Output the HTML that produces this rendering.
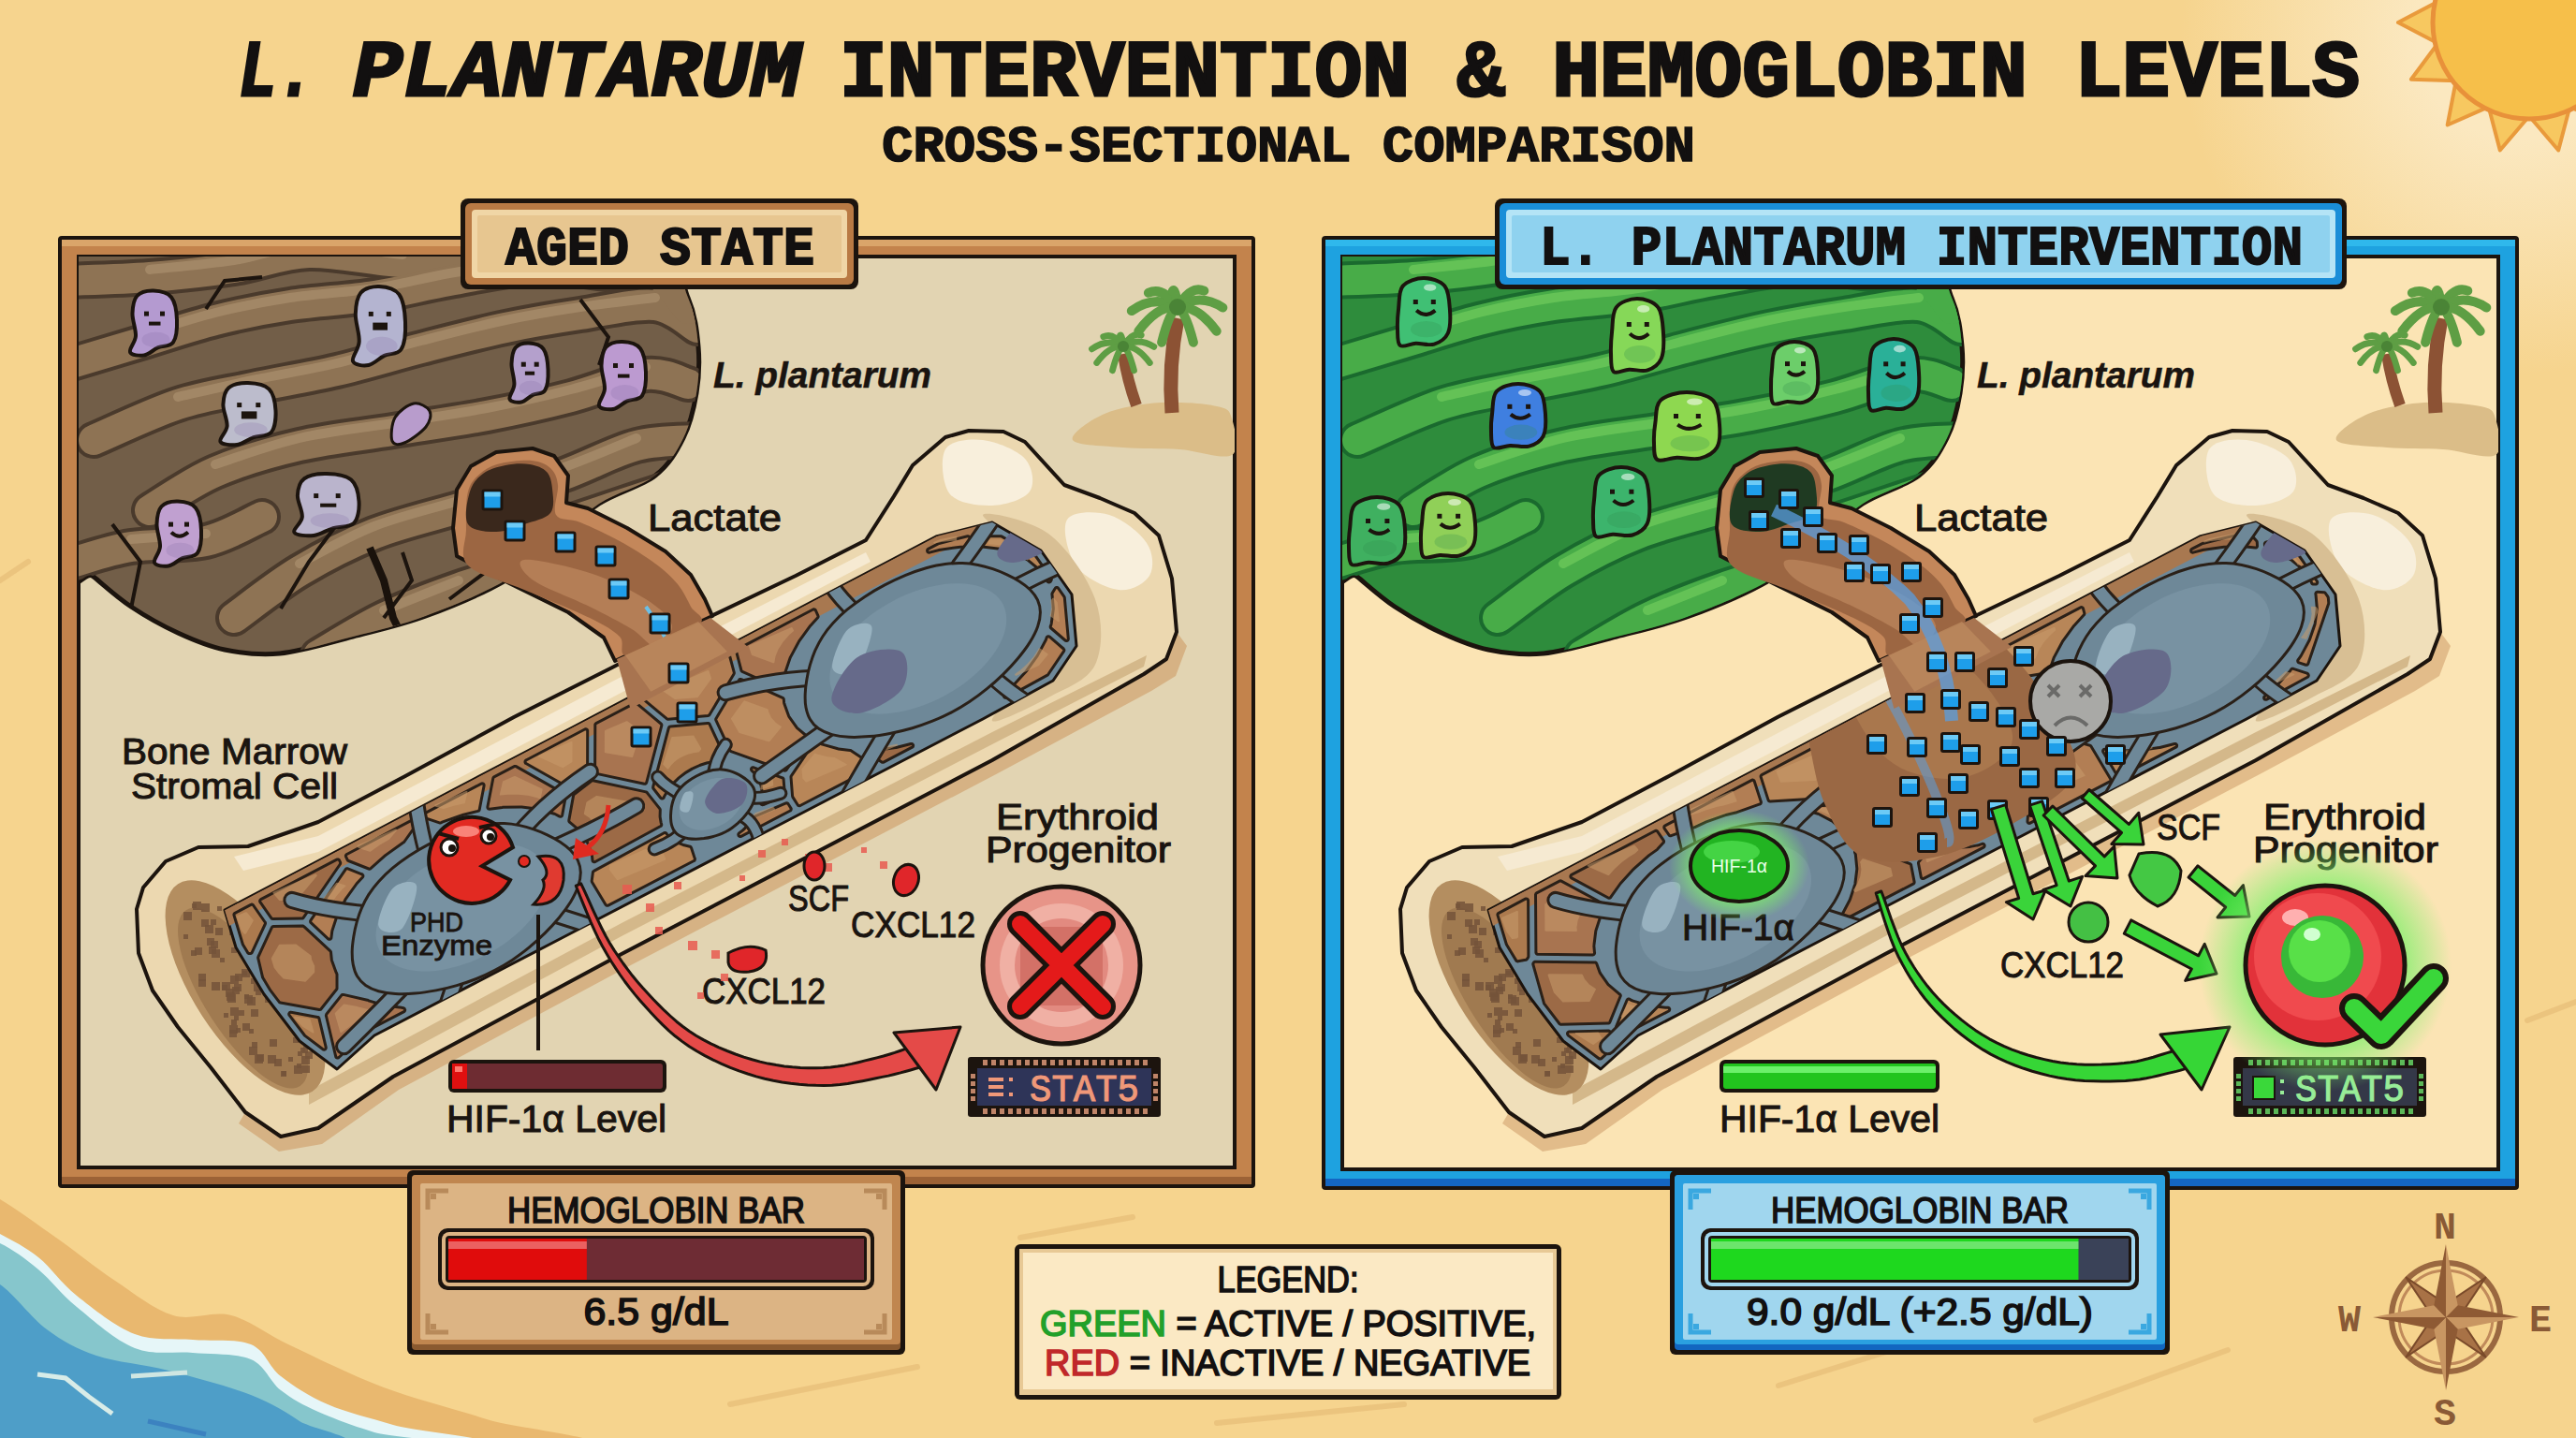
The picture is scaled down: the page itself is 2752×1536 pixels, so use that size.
<!DOCTYPE html>
<html><head><meta charset="utf-8"><title>L. plantarum intervention</title>
<style>html,body{margin:0;padding:0;background:#f6d48e;overflow:hidden}svg{display:block}</style>
</head><body>
<svg width="2752" height="1536" viewBox="0 0 2752 1536" shape-rendering="geometricPrecision"><defs>
<radialGradient id="sunGlow" cx="2690" cy="40" r="360" gradientUnits="userSpaceOnUse">
  <stop offset="0.3" stop-color="#fbe8c0"/>
  <stop offset="1" stop-color="#fbe9c2" stop-opacity="0"/>
</radialGradient>
<radialGradient id="greenGlow">
  <stop offset="0.55" stop-color="#7ef06a" stop-opacity="0.9"/>
  <stop offset="1" stop-color="#7ef06a" stop-opacity="0"/>
</radialGradient>
</defs>
<rect x="0" y="0" width="2752" height="1536" fill="#f6d48e"/>
<rect x="0" y="0" width="2752" height="1536" fill="url(#sunGlow)"/>
<path d="M2842.0,24.0 L2799.5,46.3 L2828.1,84.7 L2780.2,86.3 L2789.3,133.5 L2745.4,114.1 L2733.2,160.5 L2702.0,124.0 L2670.8,160.5 L2658.6,114.1 L2614.7,133.5 L2623.8,86.3 L2575.9,84.7 L2604.5,46.3 L2562.0,24.0 L2604.5,1.7 L2575.9,-36.7 L2623.8,-38.3 L2614.7,-85.5 L2658.6,-66.1 L2670.8,-112.5 L2702.0,-76.0 L2733.2,-112.5 L2745.4,-66.1 L2789.3,-85.5 L2780.2,-38.3 L2828.1,-36.7 L2799.5,1.7 Z" fill="#f7c860" stroke="#e99a3c" stroke-width="4" stroke-linejoin="round" />
<circle cx="2702" cy="24" r="103" fill="#f6bf4a" stroke="#e8913a" stroke-width="5"/>
<path d="M-40.0,1262.0 C-33.3,1218.0 -16.7,1271.0 0.0,1281.0 C16.7,1291.0 39.5,1307.5 60.0,1322.0 C80.5,1336.5 102.2,1354.2 123.0,1368.0 C143.8,1381.8 164.3,1398.8 185.0,1405.0 C205.7,1411.2 226.2,1399.7 247.0,1405.0 C267.8,1410.3 282.8,1424.2 310.0,1437.0 C337.2,1449.8 375.0,1468.8 410.0,1482.0 C445.0,1495.2 488.3,1505.5 520.0,1516.0 C551.7,1526.5 693.3,1540.2 600.0,1545.0 C506.7,1549.8 66.7,1592.2 -40.0,1545.0 C-146.7,1497.8 -46.7,1306.0 -40.0,1262.0 Z" fill="#e9b86f" />
<path d="M-40.0,1300.0 C-33.3,1262.2 -13.5,1310.8 0.0,1318.0 C13.5,1325.2 27.3,1332.0 41.0,1343.0 C54.7,1354.0 64.8,1370.3 82.0,1384.0 C99.2,1397.7 123.3,1417.2 144.0,1425.0 C164.7,1432.8 185.3,1429.2 206.0,1431.0 C226.7,1432.8 252.3,1429.5 268.0,1436.0 C283.7,1442.5 286.3,1459.3 300.0,1470.0 C313.7,1480.7 330.0,1491.3 350.0,1500.0 C370.0,1508.7 395.0,1514.5 420.0,1522.0 C445.0,1529.5 576.7,1541.2 500.0,1545.0 C423.3,1548.8 50.0,1585.8 -40.0,1545.0 C-130.0,1504.2 -46.7,1337.8 -40.0,1300.0 Z" fill="#e6f6f8" />
<path d="M-40.0,1318.0 C-33.3,1281.8 -13.5,1321.7 0.0,1328.0 C13.5,1334.3 27.3,1344.7 41.0,1356.0 C54.7,1367.3 64.8,1382.0 82.0,1396.0 C99.2,1410.0 123.3,1431.8 144.0,1440.0 C164.7,1448.2 185.3,1443.0 206.0,1445.0 C226.7,1447.0 252.3,1445.3 268.0,1452.0 C283.7,1458.7 288.0,1475.7 300.0,1485.0 C312.0,1494.3 323.3,1500.5 340.0,1508.0 C356.7,1515.5 380.0,1523.8 400.0,1530.0 C420.0,1536.2 533.3,1542.5 460.0,1545.0 C386.7,1547.5 43.3,1582.8 -40.0,1545.0 C-123.3,1507.2 -46.7,1354.2 -40.0,1318.0 Z" fill="#86c6cc" />
<path d="M-40.0,1360.0 C-33.3,1331.2 -15.0,1362.0 0.0,1372.0 C15.0,1382.0 32.8,1407.3 50.0,1420.0 C67.2,1432.7 81.3,1440.7 103.0,1448.0 C124.7,1455.3 152.5,1457.0 180.0,1464.0 C207.5,1471.0 244.7,1481.0 268.0,1490.0 C291.3,1499.0 306.3,1508.8 320.0,1518.0 C333.7,1527.2 410.0,1540.5 350.0,1545.0 C290.0,1549.5 25.0,1575.8 -40.0,1545.0 C-105.0,1514.2 -46.7,1388.8 -40.0,1360.0 Z" fill="#4e9ec8" />
<path d="M40,1468 L70,1472 L95,1492 L120,1510" stroke="#d8ece8" stroke-width="5" fill="none"/>
<path d="M140,1470 L200,1466" stroke="#cfe6e2" stroke-width="5" fill="none"/>
<path d="M158,1518 L220,1532" stroke="#3c82c0" stroke-width="5" fill="none"/>
<path d="M1090,1322 L1210,1300" stroke="#e9bf7a" stroke-width="6" stroke-linecap="round" fill="none" opacity="0.8"/>
<path d="M1900,1480 L2060,1430" stroke="#e9bf7a" stroke-width="6" stroke-linecap="round" fill="none" opacity="0.8"/>
<path d="M2050,1330 L2230,1280" stroke="#e9bf7a" stroke-width="6" stroke-linecap="round" fill="none" opacity="0.8"/>
<path d="M780,1500 L980,1460" stroke="#e9bf7a" stroke-width="6" stroke-linecap="round" fill="none" opacity="0.8"/>
<path d="M2430,1240 L2540,1200" stroke="#e9bf7a" stroke-width="6" stroke-linecap="round" fill="none" opacity="0.8"/>
<path d="M2175,1517 L2380,1442" stroke="#e9bf7a" stroke-width="6" stroke-linecap="round" fill="none" opacity="0.8"/>
<path d="M1300,1520 L1500,1500" stroke="#e9bf7a" stroke-width="6" stroke-linecap="round" fill="none" opacity="0.8"/>
<path d="M2700,1090 L2752,1070" stroke="#e9bf7a" stroke-width="6" stroke-linecap="round" fill="none" opacity="0.8"/>
<path d="M0,620 L30,600" stroke="#e9bf7a" stroke-width="6" stroke-linecap="round" fill="none" opacity="0.8"/>
<path d="M2530,870 L2600,850" stroke="#e9bf7a" stroke-width="6" stroke-linecap="round" fill="none" opacity="0.8"/>
<circle cx="2613" cy="1407" r="58" fill="none" stroke="#9a6840" stroke-width="6"/>
<circle cx="2613" cy="1407" r="50" fill="none" stroke="#c08a5a" stroke-width="3"/>
<path d="M2655.4,1449.4 L2604.5,1415.5 L2613.0,1407.0 L2621.5,1398.5 Z" fill="#a87246" stroke="#7a4a2a" stroke-width="2" stroke-linejoin="round" />
<path d="M2570.6,1449.4 L2604.5,1398.5 L2613.0,1407.0 L2621.5,1415.5 Z" fill="#a87246" stroke="#7a4a2a" stroke-width="2" stroke-linejoin="round" />
<path d="M2570.6,1364.6 L2621.5,1398.5 L2613.0,1407.0 L2604.5,1415.5 Z" fill="#a87246" stroke="#7a4a2a" stroke-width="2" stroke-linejoin="round" />
<path d="M2655.4,1364.6 L2621.5,1415.5 L2613.0,1407.0 L2604.5,1398.5 Z" fill="#a87246" stroke="#7a4a2a" stroke-width="2" stroke-linejoin="round" />
<path d="M2691.0,1407.0 L2625.7,1419.7 L2613.0,1407.0 Z" fill="#c89662" />
<path d="M2691.0,1407.0 L2613.0,1407.0 L2625.7,1394.3 Z" fill="#8e5a34" />
<path d="M2613.0,1485.0 L2600.3,1419.7 L2613.0,1407.0 Z" fill="#c89662" />
<path d="M2613.0,1485.0 L2613.0,1407.0 L2625.7,1419.7 Z" fill="#8e5a34" />
<path d="M2535.0,1407.0 L2600.3,1394.3 L2613.0,1407.0 Z" fill="#c89662" />
<path d="M2535.0,1407.0 L2613.0,1407.0 L2600.3,1419.7 Z" fill="#8e5a34" />
<path d="M2613.0,1329.0 L2625.7,1394.3 L2613.0,1407.0 Z" fill="#c89662" />
<path d="M2613.0,1329.0 L2613.0,1407.0 L2600.3,1394.3 Z" fill="#8e5a34" />
<text x="2612" y="1323" font-family="Liberation Mono" font-size="40" font-weight="bold" font-style="normal" fill="#8a5a36" text-anchor="middle" >N</text>
<text x="2612" y="1522" font-family="Liberation Mono" font-size="40" font-weight="bold" font-style="normal" fill="#8a5a36" text-anchor="middle" >S</text>
<text x="2510" y="1422" font-family="Liberation Mono" font-size="40" font-weight="bold" font-style="normal" fill="#8a5a36" text-anchor="middle" >W</text>
<text x="2714" y="1422" font-family="Liberation Mono" font-size="40" font-weight="bold" font-style="normal" fill="#8a5a36" text-anchor="middle" >E</text>
<text x="255" y="102" font-family="Liberation Mono" font-size="85" font-weight="bold" font-style="italic" fill="#121010" text-anchor="start" textLength="82" lengthAdjust="spacingAndGlyphs" stroke="#121010" stroke-width="3">L.</text>
<text x="377" y="102" font-family="Liberation Mono" font-size="85" font-weight="bold" font-style="italic" fill="#121010" text-anchor="start" textLength="478" lengthAdjust="spacingAndGlyphs" stroke="#121010" stroke-width="3">PLANTARUM</text>
<text x="897" y="102" font-family="Liberation Mono" font-size="85" font-weight="bold" font-style="normal" fill="#121010" text-anchor="start" textLength="1624" lengthAdjust="spacingAndGlyphs" stroke="#121010" stroke-width="3">INTERVENTION &amp; HEMOGLOBIN LEVELS</text>
<text x="942" y="172" font-family="Liberation Mono" font-size="54" font-weight="bold" font-style="normal" fill="#121010" text-anchor="start" textLength="869" lengthAdjust="spacingAndGlyphs" stroke="#121010" stroke-width="1.5">CROSS-SECTIONAL COMPARISON</text>
<rect x="62" y="252" width="1279" height="1017" fill="#1c140e" rx="4"/>
<rect x="66" y="256" width="1271" height="1009" fill="#c3834c"/>
<rect x="66" y="256" width="1271" height="7" fill="#daa56a"/>
<rect x="66" y="1257" width="1271" height="8" fill="#9c6236"/>
<rect x="82" y="272" width="1239" height="977" fill="#1c140e"/>
<rect x="86" y="276" width="1231" height="969" fill="#e2d4b2"/>
<rect x="1412" y="252" width="1279" height="1019" fill="#1c140e" rx="4"/>
<rect x="1416" y="256" width="1271" height="1011" fill="#1ea2e0"/>
<rect x="1416" y="256" width="1271" height="7" fill="#2fb8ec"/>
<rect x="1416" y="1259" width="1271" height="8" fill="#1466c2"/>
<rect x="1432" y="272" width="1239" height="979" fill="#1c140e"/>
<rect x="1436" y="276" width="1231" height="971" fill="#fbe4b4"/>
<clipPath id="pclip0"><rect x="84" y="274" width="1235" height="967"/></clipPath>
<clipPath id="pclip1350"><rect x="1434" y="274" width="1235" height="965"/></clipPath>
<g clip-path="url(#pclip0)">
<path d="M70.0,250.0 C151.7,193.3 455.0,248.0 560.0,250.0 C665.0,252.0 670.8,250.7 700.0,262.0 C729.2,273.3 727.3,300.0 735.0,318.0 C742.7,336.0 744.5,353.0 746.0,370.0 C747.5,387.0 746.7,403.7 744.0,420.0 C741.3,436.3 737.3,453.3 730.0,468.0 C722.7,482.7 715.0,496.3 700.0,508.0 C685.0,519.7 658.3,526.0 640.0,538.0 C621.7,550.0 606.7,566.3 590.0,580.0 C573.3,593.7 562.5,607.0 540.0,620.0 C517.5,633.0 482.2,648.0 455.0,658.0 C427.8,668.0 403.0,673.3 377.0,680.0 C351.0,686.7 321.8,695.7 299.0,698.0 C276.2,700.3 258.2,697.7 240.0,694.0 C221.8,690.3 206.7,683.7 190.0,676.0 C173.3,668.3 155.0,658.0 140.0,648.0 C125.0,638.0 111.7,625.7 100.0,616.0 C88.3,606.3 75.0,651.0 70.0,590.0 C65.0,529.0 -11.7,306.7 70.0,250.0 Z" fill="#725e48" stroke="#1c140e" stroke-width="5" stroke-linejoin="round" stroke-linecap="round" />
<clipPath id="gclip0"><path d="M70.0,250.0 C151.7,193.3 455.0,248.0 560.0,250.0 C665.0,252.0 670.8,250.7 700.0,262.0 C729.2,273.3 727.3,300.0 735.0,318.0 C742.7,336.0 744.5,353.0 746.0,370.0 C747.5,387.0 746.7,403.7 744.0,420.0 C741.3,436.3 737.3,453.3 730.0,468.0 C722.7,482.7 715.0,496.3 700.0,508.0 C685.0,519.7 658.3,526.0 640.0,538.0 C621.7,550.0 606.7,566.3 590.0,580.0 C573.3,593.7 562.5,607.0 540.0,620.0 C517.5,633.0 482.2,648.0 455.0,658.0 C427.8,668.0 403.0,673.3 377.0,680.0 C351.0,686.7 321.8,695.7 299.0,698.0 C276.2,700.3 258.2,697.7 240.0,694.0 C221.8,690.3 206.7,683.7 190.0,676.0 C173.3,668.3 155.0,658.0 140.0,648.0 C125.0,638.0 111.7,625.7 100.0,616.0 C88.3,606.3 75.0,651.0 70.0,590.0 C65.0,529.0 -11.7,306.7 70.0,250.0 Z"/></clipPath>
<g clip-path="url(#gclip0)">
<path d="M70.0,300.0 C85.0,299.3 130.0,298.3 160.0,296.0 C190.0,293.7 221.7,290.3 250.0,286.0 C278.3,281.7 300.0,271.0 330.0,270.0 C360.0,269.0 398.3,279.0 430.0,280.0 C461.7,281.0 505.0,276.7 520.0,276.0" stroke="#4a3a2c" stroke-width="40" stroke-linecap="round" fill="none"/>
<path d="M70.0,390.0 C83.3,386.0 123.3,374.0 150.0,366.0 C176.7,358.0 203.3,348.7 230.0,342.0 C256.7,335.3 281.7,330.3 310.0,326.0 C338.3,321.7 371.7,320.3 400.0,316.0 C428.3,311.7 451.7,305.0 480.0,300.0 C508.3,295.0 541.7,287.3 570.0,286.0 C598.3,284.7 636.7,291.0 650.0,292.0" stroke="#4a3a2c" stroke-width="40" stroke-linecap="round" fill="none"/>
<path d="M100.0,470.0 C115.0,463.7 161.7,441.3 190.0,432.0 C218.3,422.7 241.7,420.0 270.0,414.0 C298.3,408.0 330.0,403.0 360.0,396.0 C390.0,389.0 420.0,379.7 450.0,372.0 C480.0,364.3 511.7,356.0 540.0,350.0 C568.3,344.0 593.3,340.0 620.0,336.0 C646.7,332.0 679.2,323.7 700.0,326.0 C720.8,328.3 737.5,346.0 745.0,350.0" stroke="#4a3a2c" stroke-width="40" stroke-linecap="round" fill="none"/>
<path d="M160.0,545.0 C171.7,538.2 203.3,515.5 230.0,504.0 C256.7,492.5 288.3,483.3 320.0,476.0 C351.7,468.7 386.7,465.3 420.0,460.0 C453.3,454.7 488.3,450.0 520.0,444.0 C551.7,438.0 581.7,431.3 610.0,424.0 C638.3,416.7 669.2,402.3 690.0,400.0 C710.8,397.7 727.5,408.3 735.0,410.0" stroke="#4a3a2c" stroke-width="40" stroke-linecap="round" fill="none"/>
<path d="M80.0,600.0 C90.0,597.3 116.7,587.7 140.0,584.0 C163.3,580.3 196.7,583.3 220.0,578.0 C243.3,572.7 270.0,556.3 280.0,552.0" stroke="#4a3a2c" stroke-width="40" stroke-linecap="round" fill="none"/>
<path d="M250.0,660.0 C261.7,651.7 295.0,625.0 320.0,610.0 C345.0,595.0 370.0,581.7 400.0,570.0 C430.0,558.3 466.7,550.3 500.0,540.0 C533.3,529.7 570.0,518.7 600.0,508.0 C630.0,497.3 655.8,482.3 680.0,476.0 C704.2,469.7 734.2,471.0 745.0,470.0" stroke="#4a3a2c" stroke-width="40" stroke-linecap="round" fill="none"/>
<path d="M340.0,700.0 C351.7,693.3 385.0,672.0 410.0,660.0 C435.0,648.0 463.3,637.3 490.0,628.0 C516.7,618.7 556.7,608.0 570.0,604.0" stroke="#4a3a2c" stroke-width="40" stroke-linecap="round" fill="none"/>
<path d="M560.0,250.0 C573.3,251.3 616.7,251.3 640.0,258.0 C663.3,264.7 684.2,278.0 700.0,290.0 C715.8,302.0 729.2,323.3 735.0,330.0" stroke="#4a3a2c" stroke-width="40" stroke-linecap="round" fill="none"/>
<path d="M600.0,560.0 C610.0,556.7 640.0,546.7 660.0,540.0 C680.0,533.3 710.0,523.3 720.0,520.0" stroke="#4a3a2c" stroke-width="40" stroke-linecap="round" fill="none"/>
<path d="M70.0,300.0 C85.0,299.3 130.0,298.3 160.0,296.0 C190.0,293.7 221.7,290.3 250.0,286.0 C278.3,281.7 300.0,271.0 330.0,270.0 C360.0,269.0 398.3,279.0 430.0,280.0 C461.7,281.0 505.0,276.7 520.0,276.0" stroke="#8e7354" stroke-width="32" stroke-linecap="round" fill="none"/>
<path d="M70.0,390.0 C83.3,386.0 123.3,374.0 150.0,366.0 C176.7,358.0 203.3,348.7 230.0,342.0 C256.7,335.3 281.7,330.3 310.0,326.0 C338.3,321.7 371.7,320.3 400.0,316.0 C428.3,311.7 451.7,305.0 480.0,300.0 C508.3,295.0 541.7,287.3 570.0,286.0 C598.3,284.7 636.7,291.0 650.0,292.0" stroke="#8e7354" stroke-width="32" stroke-linecap="round" fill="none"/>
<path d="M100.0,470.0 C115.0,463.7 161.7,441.3 190.0,432.0 C218.3,422.7 241.7,420.0 270.0,414.0 C298.3,408.0 330.0,403.0 360.0,396.0 C390.0,389.0 420.0,379.7 450.0,372.0 C480.0,364.3 511.7,356.0 540.0,350.0 C568.3,344.0 593.3,340.0 620.0,336.0 C646.7,332.0 679.2,323.7 700.0,326.0 C720.8,328.3 737.5,346.0 745.0,350.0" stroke="#8e7354" stroke-width="32" stroke-linecap="round" fill="none"/>
<path d="M160.0,545.0 C171.7,538.2 203.3,515.5 230.0,504.0 C256.7,492.5 288.3,483.3 320.0,476.0 C351.7,468.7 386.7,465.3 420.0,460.0 C453.3,454.7 488.3,450.0 520.0,444.0 C551.7,438.0 581.7,431.3 610.0,424.0 C638.3,416.7 669.2,402.3 690.0,400.0 C710.8,397.7 727.5,408.3 735.0,410.0" stroke="#8e7354" stroke-width="32" stroke-linecap="round" fill="none"/>
<path d="M80.0,600.0 C90.0,597.3 116.7,587.7 140.0,584.0 C163.3,580.3 196.7,583.3 220.0,578.0 C243.3,572.7 270.0,556.3 280.0,552.0" stroke="#8e7354" stroke-width="32" stroke-linecap="round" fill="none"/>
<path d="M250.0,660.0 C261.7,651.7 295.0,625.0 320.0,610.0 C345.0,595.0 370.0,581.7 400.0,570.0 C430.0,558.3 466.7,550.3 500.0,540.0 C533.3,529.7 570.0,518.7 600.0,508.0 C630.0,497.3 655.8,482.3 680.0,476.0 C704.2,469.7 734.2,471.0 745.0,470.0" stroke="#8e7354" stroke-width="32" stroke-linecap="round" fill="none"/>
<path d="M340.0,700.0 C351.7,693.3 385.0,672.0 410.0,660.0 C435.0,648.0 463.3,637.3 490.0,628.0 C516.7,618.7 556.7,608.0 570.0,604.0" stroke="#8e7354" stroke-width="32" stroke-linecap="round" fill="none"/>
<path d="M560.0,250.0 C573.3,251.3 616.7,251.3 640.0,258.0 C663.3,264.7 684.2,278.0 700.0,290.0 C715.8,302.0 729.2,323.3 735.0,330.0" stroke="#8e7354" stroke-width="32" stroke-linecap="round" fill="none"/>
<path d="M600.0,560.0 C610.0,556.7 640.0,546.7 660.0,540.0 C680.0,533.3 710.0,523.3 720.0,520.0" stroke="#8e7354" stroke-width="32" stroke-linecap="round" fill="none"/>
<path d="M160.0,288.0 C175.0,286.3 221.7,282.3 250.0,278.0 C278.3,273.7 300.0,263.0 330.0,262.0 C360.0,261.0 413.3,270.3 430.0,272.0" stroke="#a88c6a" stroke-width="10" stroke-linecap="round" fill="none" opacity="0.8"/>
<path d="M150.0,358.0 C163.3,354.0 203.3,340.7 230.0,334.0 C256.7,327.3 281.7,322.3 310.0,318.0 C338.3,313.7 371.7,312.3 400.0,308.0 C428.3,303.7 451.7,297.0 480.0,292.0 C508.3,287.0 555.0,280.3 570.0,278.0" stroke="#a88c6a" stroke-width="10" stroke-linecap="round" fill="none" opacity="0.8"/>
<path d="M190.0,424.0 C203.3,421.0 241.7,412.0 270.0,406.0 C298.3,400.0 330.0,395.0 360.0,388.0 C390.0,381.0 420.0,371.7 450.0,364.0 C480.0,356.3 511.7,348.0 540.0,342.0 C568.3,336.0 593.3,332.0 620.0,328.0 C646.7,324.0 686.7,319.7 700.0,318.0" stroke="#a88c6a" stroke-width="10" stroke-linecap="round" fill="none" opacity="0.8"/>
<path d="M230.0,496.0 C245.0,491.3 288.3,475.3 320.0,468.0 C351.7,460.7 386.7,457.3 420.0,452.0 C453.3,446.7 488.3,442.0 520.0,436.0 C551.7,430.0 581.7,423.3 610.0,416.0 C638.3,408.7 676.7,396.0 690.0,392.0" stroke="#a88c6a" stroke-width="10" stroke-linecap="round" fill="none" opacity="0.8"/>
<path d="M140,576 L220,570" stroke="#a88c6a" stroke-width="10" stroke-linecap="round" fill="none" opacity="0.8"/>
<path d="M320.0,602.0 C333.3,595.3 370.0,573.7 400.0,562.0 C430.0,550.3 466.7,542.3 500.0,532.0 C533.3,521.7 570.0,510.7 600.0,500.0 C630.0,489.3 666.7,473.3 680.0,468.0" stroke="#a88c6a" stroke-width="10" stroke-linecap="round" fill="none" opacity="0.8"/>
<path d="M410,652 L490,620" stroke="#a88c6a" stroke-width="10" stroke-linecap="round" fill="none" opacity="0.8"/>
<path d="M640,250 L700,282" stroke="#a88c6a" stroke-width="10" stroke-linecap="round" fill="none" opacity="0.8"/>
<path d="M660,532" stroke="#a88c6a" stroke-width="10" stroke-linecap="round" fill="none" opacity="0.8"/>
<path d="M300.0,650.0 L330.0,600.0 L360.0,560.0" stroke="#1c140e" stroke-width="4" fill="none"/>
<path d="M560.0,560.0 L520.0,610.0 L480.0,640.0" stroke="#1c140e" stroke-width="4" fill="none"/>
<path d="M220.0,330.0 L240.0,300.0 L280.0,296.0" stroke="#1c140e" stroke-width="4" fill="none"/>
<path d="M620.0,320.0 L650.0,360.0 L640.0,390.0" stroke="#1c140e" stroke-width="4" fill="none"/>
<path d="M430.0,590.0 L440.0,620.0 L410.0,660.0" stroke="#1c140e" stroke-width="4" fill="none"/>
<path d="M120.0,560.0 L150.0,600.0 L140.0,650.0" stroke="#1c140e" stroke-width="4" fill="none"/>
<path d="M520.0,520.0 L555.0,560.0 L545.0,610.0 L560.0,650.0" stroke="#1c140e" stroke-width="4" fill="none"/>
<path d="M395,585 L410,620 L420,660 L440,700" stroke="#1a120c" stroke-width="8" fill="none"/>
</g>
<path d="M141.5,334.6 C141.8,327.5 142.8,320.0 146.5,316.0 C150.2,312.0 157.9,310.3 164.0,310.5 C170.1,310.7 178.8,312.2 183.0,317.4 C187.2,322.6 188.7,333.5 189.0,341.6 C189.3,349.6 188.3,360.8 185.0,365.7 C181.7,370.6 174.2,368.9 169.0,371.2 C163.8,373.5 159.0,378.7 154.0,379.5 C149.0,380.3 140.5,379.5 139.0,376.1 C137.5,372.6 144.6,365.7 145.0,358.8 C145.4,351.9 141.2,341.8 141.5,334.6 Z" fill="#b49ad0" stroke="#1c140e" stroke-width="4" stroke-linejoin="round" stroke-linecap="round" />
<ellipse cx="166.5" cy="362.94" rx="15.0" ry="8.28" fill="#8870a8" opacity="0.25"/>
<rect x="154.0" y="332.6" width="5" height="5" fill="#1c140e"/>
<rect x="171.0" y="332.6" width="5" height="5" fill="#1c140e"/>
<rect x="159.0" y="343.6" width="12.5" height="4" fill="#1c140e"/>
<path d="M379.8,335.4 C380.1,326.7 381.2,317.6 385.4,312.7 C389.6,307.8 398.2,305.7 405.0,306.0 C411.8,306.3 421.6,308.1 426.3,314.4 C430.9,320.7 432.6,334.0 433.0,343.8 C433.4,353.6 432.3,367.2 428.5,373.2 C424.8,379.2 416.4,377.1 410.6,379.9 C404.8,382.7 399.4,389.0 393.8,390.0 C388.2,391.0 378.7,390.0 377.0,385.8 C375.3,381.6 383.3,373.2 383.7,364.8 C384.2,356.4 379.5,344.1 379.8,335.4 Z" fill="#b4b4d0" stroke="#1c140e" stroke-width="4" stroke-linejoin="round" stroke-linecap="round" />
<ellipse cx="407.8" cy="369.84" rx="16.8" ry="10.08" fill="#8870a8" opacity="0.25"/>
<rect x="393.8" y="332.9" width="5" height="5" fill="#1c140e"/>
<rect x="412.8" y="332.9" width="5" height="5" fill="#1c140e"/>
<rect x="398.3" y="344.6" width="15.7" height="8" fill="#1c140e"/>
<path d="M238.4,432.1 C238.7,425.3 239.9,418.1 244.3,414.3 C248.8,410.4 257.8,408.8 265.0,409.0 C272.2,409.2 282.5,410.7 287.4,415.6 C292.3,420.6 294.1,431.0 294.5,438.7 C294.9,446.4 293.7,457.1 289.8,461.8 C285.8,466.5 277.0,464.9 270.9,467.1 C264.8,469.3 259.1,474.2 253.2,475.0 C247.3,475.8 237.3,475.0 235.5,471.7 C233.7,468.4 242.1,461.8 242.6,455.2 C243.1,448.6 238.2,438.9 238.4,432.1 Z" fill="#bcbccc" stroke="#1c140e" stroke-width="4" stroke-linejoin="round" stroke-linecap="round" />
<ellipse cx="267.95" cy="459.16" rx="17.7" ry="7.92" fill="#8870a8" opacity="0.25"/>
<rect x="253.2" y="430.1" width="5" height="5" fill="#1c140e"/>
<rect x="273.3" y="430.1" width="5" height="5" fill="#1c140e"/>
<rect x="257.9" y="439.4" width="16.5" height="8" fill="#1c140e"/>
<path d="M546.5,388.6 C546.8,382.0 547.6,375.2 550.6,371.5 C553.7,367.9 560.0,366.3 565.0,366.5 C570.0,366.7 577.2,368.1 580.6,372.8 C584.0,377.5 585.2,387.5 585.5,394.9 C585.8,402.2 585.0,412.4 582.2,416.9 C579.5,421.4 573.3,419.8 569.1,421.9 C564.9,424.0 560.9,428.8 556.8,429.5 C552.7,430.2 545.7,429.5 544.5,426.4 C543.3,423.2 549.1,416.9 549.4,410.6 C549.8,404.3 546.3,395.1 546.5,388.6 Z" fill="#b4a0cc" stroke="#1c140e" stroke-width="4" stroke-linejoin="round" stroke-linecap="round" />
<ellipse cx="567.05" cy="414.38" rx="12.299999999999999" ry="7.56" fill="#8870a8" opacity="0.25"/>
<rect x="556.8" y="386.7" width="5" height="5" fill="#1c140e"/>
<rect x="570.7" y="386.7" width="5" height="5" fill="#1c140e"/>
<rect x="560.9" y="396.7" width="10.2" height="4" fill="#1c140e"/>
<path d="M642.5,390.2 C642.8,382.8 643.8,375.0 647.5,370.8 C651.2,366.6 658.9,364.8 665.0,365.0 C671.1,365.2 679.8,366.8 684.0,372.2 C688.2,377.6 689.7,389.0 690.0,397.4 C690.3,405.8 689.3,417.4 686.0,422.6 C682.7,427.8 675.2,426.0 670.0,428.4 C664.8,430.8 660.0,436.2 655.0,437.0 C650.0,437.8 641.5,437.0 640.0,433.4 C638.5,429.8 645.6,422.6 646.0,415.4 C646.4,408.2 642.2,397.6 642.5,390.2 Z" fill="#bc9ad0" stroke="#1c140e" stroke-width="4" stroke-linejoin="round" stroke-linecap="round" />
<ellipse cx="667.5" cy="419.72" rx="15.0" ry="8.64" fill="#8870a8" opacity="0.25"/>
<rect x="655.0" y="388.0" width="5" height="5" fill="#1c140e"/>
<rect x="672.0" y="388.0" width="5" height="5" fill="#1c140e"/>
<rect x="660.0" y="399.6" width="12.5" height="4" fill="#1c140e"/>
<path d="M419.0,471.0 C417.3,466.5 418.2,452.7 422.0,446.0 C425.8,439.3 435.8,432.2 442.0,431.0 C448.2,429.8 456.8,434.8 459.0,439.0 C461.2,443.2 459.5,450.3 455.0,456.0 C450.5,461.7 438.0,470.5 432.0,473.0 C426.0,475.5 420.7,475.5 419.0,471.0 Z" fill="#b89ccc" stroke="#1c140e" stroke-width="3" stroke-linejoin="round" stroke-linecap="round" />
<path d="M317.9,529.1 C318.3,522.3 319.7,515.1 324.9,511.3 C330.0,507.4 340.6,505.8 349.0,506.0 C357.4,506.2 369.5,507.7 375.2,512.6 C381.0,517.6 383.0,528.0 383.5,535.7 C384.0,543.4 382.6,554.1 378.0,558.8 C373.4,563.5 363.0,561.9 355.9,564.1 C348.8,566.3 342.1,571.2 335.2,572.0 C328.3,572.8 316.6,572.0 314.5,568.7 C312.4,565.4 322.2,558.8 322.8,552.2 C323.4,545.6 317.6,535.9 317.9,529.1 Z" fill="#bab4cc" stroke="#1c140e" stroke-width="4" stroke-linejoin="round" stroke-linecap="round" />
<ellipse cx="352.45" cy="556.16" rx="20.7" ry="7.92" fill="#8870a8" opacity="0.25"/>
<rect x="335.2" y="527.1" width="5" height="5" fill="#1c140e"/>
<rect x="358.7" y="527.1" width="5" height="5" fill="#1c140e"/>
<rect x="342.1" y="537.7" width="17.2" height="4" fill="#1c140e"/>
<path d="M167.5,559.6 C167.8,552.5 168.8,545.0 172.5,541.0 C176.2,537.0 183.9,535.3 190.0,535.5 C196.1,535.7 204.8,537.2 209.0,542.4 C213.2,547.6 214.7,558.5 215.0,566.5 C215.3,574.6 214.3,585.8 211.0,590.7 C207.7,595.6 200.2,593.9 195.0,596.2 C189.8,598.5 185.0,603.7 180.0,604.5 C175.0,605.3 166.5,604.5 165.0,601.0 C163.5,597.6 170.6,590.7 171.0,583.8 C171.4,576.9 167.2,566.8 167.5,559.6 Z" fill="#c0a0d0" stroke="#1c140e" stroke-width="4" stroke-linejoin="round" stroke-linecap="round" />
<ellipse cx="192.5" cy="587.94" rx="15.0" ry="8.28" fill="#8870a8" opacity="0.25"/>
<rect x="180.0" y="557.6" width="5" height="5" fill="#1c140e"/>
<rect x="197.0" y="557.6" width="5" height="5" fill="#1c140e"/>
<path d="M183.0,568.6 Q191.5,576.9 201.0,568.6" stroke="#1c140e" stroke-width="4" fill="none"/>
<path d="M1146.0,470.0 C1142.7,464.0 1164.3,448.7 1180.0,442.0 C1195.7,435.3 1220.0,431.3 1240.0,430.0 C1260.0,428.7 1287.3,431.2 1300.0,434.0 C1312.7,436.8 1313.3,438.3 1316.0,447.0 C1318.7,455.7 1325.3,480.5 1316.0,486.0 C1306.7,491.5 1279.3,481.3 1260.0,480.0 C1240.7,478.7 1219.0,479.7 1200.0,478.0 C1181.0,476.3 1149.3,476.0 1146.0,470.0 Z" fill="#dbbd88" />
<path d="M1258,340 Q1248,390 1252,441" stroke="#8c5234" stroke-width="15" fill="none"/>
<path d="M1200,378 Q1204,405 1214,433" stroke="#8c5234" stroke-width="12" fill="none"/>
<path d="M1258,328 Q1233.4,314.5 1208.8,332.1" stroke="#5e9e44" stroke-width="10.0" stroke-linecap="round" fill="none"/>
<path d="M1258,328 Q1242.4,305.6 1226.9,312.8" stroke="#5e9e44" stroke-width="10.0" stroke-linecap="round" fill="none"/>
<path d="M1258,328 Q1255.4,306.2 1252.8,311.0" stroke="#5e9e44" stroke-width="10.0" stroke-linecap="round" fill="none"/>
<path d="M1258,328 Q1272.1,304.5 1286.3,310.7" stroke="#5e9e44" stroke-width="10.0" stroke-linecap="round" fill="none"/>
<path d="M1258,328 Q1282.1,312.8 1306.3,328.6" stroke="#5e9e44" stroke-width="10.0" stroke-linecap="round" fill="none"/>
<path d="M1258,328 Q1278.8,325.8 1299.7,353.7" stroke="#5e9e44" stroke-width="10.0" stroke-linecap="round" fill="none"/>
<path d="M1258,328 Q1266.5,332.5 1274.9,365.8" stroke="#5e9e44" stroke-width="10.0" stroke-linecap="round" fill="none"/>
<path d="M1258,328 Q1249.5,332.5 1241.1,365.8" stroke="#5e9e44" stroke-width="10.0" stroke-linecap="round" fill="none"/>
<path d="M1258,328 Q1237.2,325.8 1216.3,353.7" stroke="#5e9e44" stroke-width="10.0" stroke-linecap="round" fill="none"/>
<circle cx="1258" cy="328" r="9.0" fill="#4a8436"/>
<path d="M1200,370 Q1183.3,360.8 1166.5,372.8" stroke="#5e9e44" stroke-width="6.8" stroke-linecap="round" fill="none"/>
<path d="M1200,370 Q1189.4,354.7 1178.8,359.7" stroke="#5e9e44" stroke-width="6.8" stroke-linecap="round" fill="none"/>
<path d="M1200,370 Q1198.2,355.2 1196.5,358.4" stroke="#5e9e44" stroke-width="6.8" stroke-linecap="round" fill="none"/>
<path d="M1200,370 Q1209.6,354.0 1219.2,358.2" stroke="#5e9e44" stroke-width="6.8" stroke-linecap="round" fill="none"/>
<path d="M1200,370 Q1216.4,359.7 1232.8,370.4" stroke="#5e9e44" stroke-width="6.8" stroke-linecap="round" fill="none"/>
<path d="M1200,370 Q1214.2,368.5 1228.3,387.5" stroke="#5e9e44" stroke-width="6.8" stroke-linecap="round" fill="none"/>
<path d="M1200,370 Q1205.7,373.1 1211.5,395.7" stroke="#5e9e44" stroke-width="6.8" stroke-linecap="round" fill="none"/>
<path d="M1200,370 Q1194.3,373.1 1188.5,395.7" stroke="#5e9e44" stroke-width="6.8" stroke-linecap="round" fill="none"/>
<path d="M1200,370 Q1185.8,368.5 1171.7,387.5" stroke="#5e9e44" stroke-width="6.8" stroke-linecap="round" fill="none"/>
<circle cx="1200" cy="370" r="6.1" fill="#4a8436"/>
<path d="M262.0,1188.0 L300.0,1214.0 L340.0,1205.0 L420.0,1150.0 L664.0,1019.0 L1060.0,812.0 L1222.0,720.0 L1246.0,704.0 L1257.0,675.0 L1268.0,690.0 L1256.0,722.0 L1230.0,738.0 L1066.0,826.0 L670.0,1033.0 L426.0,1164.0 L344.0,1222.0 L298.0,1230.0 L255.0,1200.0 Z" fill="#d6b284" />
<path d="M146.0,971.0 L153.0,948.0 L177.0,920.0 L212.0,905.0 L265.0,904.0 L340.0,878.0 L433.0,829.0 L549.0,766.0 L654.0,713.0 L760.0,658.0 L850.0,615.0 L925.0,577.0 L955.0,530.0 L975.0,497.0 L1010.0,467.0 L1035.0,460.0 L1072.0,461.0 L1095.0,472.0 L1137.0,518.0 L1175.0,532.0 L1212.0,548.0 L1238.0,572.0 L1252.0,618.0 L1257.0,675.0 L1246.0,704.0 L1222.0,720.0 L1060.0,812.0 L664.0,1019.0 L420.0,1150.0 L340.0,1205.0 L300.0,1214.0 L262.0,1188.0 L225.0,1140.0 L190.0,1097.0 L163.0,1058.0 L148.0,1018.0 Z" fill="#ecd8b0" stroke="#1c140e" stroke-width="4" stroke-linejoin="round" />
<path d="M250.0,915.0 L340.0,893.0 L654.0,728.0 L925.0,590.0 L930.0,600.0 L654.0,745.0 L340.0,910.0 L260.0,930.0 Z" fill="#f6ead2" />
<path d="M330.0,1180.0 L664.0,1000.0 L1060.0,795.0 L1222.0,712.0 L1225.0,700.0 L1060.0,782.0 L664.0,986.0 L330.0,1165.0 Z" fill="#d4b88a" />
<path d="M1010.0,480.0 C1015.8,470.3 1035.8,468.3 1050.0,470.0 C1064.2,471.7 1086.7,480.8 1095.0,490.0 C1103.3,499.2 1105.8,516.7 1100.0,525.0 C1094.2,533.3 1074.2,539.5 1060.0,540.0 C1045.8,540.5 1023.3,538.0 1015.0,528.0 C1006.7,518.0 1004.2,489.7 1010.0,480.0 Z" fill="#f8efdc" />
<path d="M1140.0,555.0 C1145.8,545.8 1170.8,545.8 1185.0,550.0 C1199.2,554.2 1217.8,569.2 1225.0,580.0 C1232.2,590.8 1233.0,606.7 1228.0,615.0 C1223.0,623.3 1208.0,631.7 1195.0,630.0 C1182.0,628.3 1159.2,617.5 1150.0,605.0 C1140.8,592.5 1134.2,564.2 1140.0,555.0 Z" fill="#f8efdc" />
<path d="M1050.0,550.0 C1051.7,545.0 1100.0,555.0 1120.0,570.0 C1140.0,585.0 1161.7,616.7 1170.0,640.0 C1178.3,663.3 1178.3,692.5 1170.0,710.0 C1161.7,727.5 1138.3,735.0 1120.0,745.0 C1101.7,755.0 1063.3,774.2 1060.0,770.0 C1056.7,765.8 1086.7,738.3 1100.0,720.0 C1113.3,701.7 1138.3,680.0 1140.0,660.0 C1141.7,640.0 1125.0,618.3 1110.0,600.0 C1095.0,581.7 1048.3,555.0 1050.0,550.0 Z" fill="#d8bf94" />
<g transform="translate(262,1055) rotate(57)"><ellipse cx="0" cy="0" rx="132" ry="55" fill="#b48e60"/><ellipse cx="8" cy="8" rx="112" ry="40" fill="#a07a50"/></g>
<rect x="225" y="1005" width="8" height="8" fill="#74543a" opacity="0.85"/>
<rect x="317" y="1136" width="5" height="5" fill="#74543a" opacity="0.85"/>
<rect x="245" y="1095" width="9" height="9" fill="#74543a" opacity="0.85"/>
<rect x="251" y="995" width="9" height="9" fill="#74543a" opacity="0.85"/>
<rect x="264" y="1065" width="9" height="9" fill="#74543a" opacity="0.85"/>
<rect x="306" y="1066" width="6" height="6" fill="#74543a" opacity="0.85"/>
<rect x="308" y="1129" width="5" height="5" fill="#74543a" opacity="0.85"/>
<rect x="288" y="1110" width="8" height="8" fill="#74543a" opacity="0.85"/>
<rect x="274" y="1126" width="8" height="8" fill="#74543a" opacity="0.85"/>
<rect x="242" y="1060" width="9" height="9" fill="#74543a" opacity="0.85"/>
<rect x="226" y="1049" width="9" height="9" fill="#74543a" opacity="0.85"/>
<rect x="279" y="1042" width="9" height="9" fill="#74543a" opacity="0.85"/>
<rect x="272" y="1127" width="9" height="9" fill="#74543a" opacity="0.85"/>
<rect x="271" y="1051" width="8" height="8" fill="#74543a" opacity="0.85"/>
<rect x="273" y="1057" width="6" height="6" fill="#74543a" opacity="0.85"/>
<rect x="301" y="1144" width="5" height="5" fill="#74543a" opacity="0.85"/>
<rect x="309" y="1073" width="8" height="8" fill="#74543a" opacity="0.85"/>
<rect x="255" y="1079" width="6" height="6" fill="#74543a" opacity="0.85"/>
<rect x="260" y="991" width="9" height="9" fill="#74543a" opacity="0.85"/>
<rect x="276" y="1021" width="8" height="8" fill="#74543a" opacity="0.85"/>
<rect x="259" y="1037" width="5" height="5" fill="#74543a" opacity="0.85"/>
<rect x="212" y="1040" width="8" height="8" fill="#74543a" opacity="0.85"/>
<rect x="230" y="991" width="8" height="8" fill="#74543a" opacity="0.85"/>
<rect x="323" y="1119" width="6" height="6" fill="#74543a" opacity="0.85"/>
<rect x="322" y="1128" width="9" height="9" fill="#74543a" opacity="0.85"/>
<rect x="318" y="1123" width="5" height="5" fill="#74543a" opacity="0.85"/>
<rect x="245" y="1100" width="8" height="8" fill="#74543a" opacity="0.85"/>
<rect x="237" y="1052" width="6" height="6" fill="#74543a" opacity="0.85"/>
<rect x="323" y="1138" width="8" height="8" fill="#74543a" opacity="0.85"/>
<rect x="261" y="1062" width="5" height="5" fill="#74543a" opacity="0.85"/>
<rect x="247" y="1012" width="6" height="6" fill="#74543a" opacity="0.85"/>
<rect x="196" y="974" width="9" height="9" fill="#74543a" opacity="0.85"/>
<rect x="212" y="1046" width="8" height="8" fill="#74543a" opacity="0.85"/>
<rect x="250" y="1051" width="8" height="8" fill="#74543a" opacity="0.85"/>
<rect x="244" y="976" width="8" height="8" fill="#74543a" opacity="0.85"/>
<rect x="324" y="1112" width="9" height="9" fill="#74543a" opacity="0.85"/>
<rect x="215" y="982" width="8" height="8" fill="#74543a" opacity="0.85"/>
<rect x="251" y="988" width="9" height="9" fill="#74543a" opacity="0.85"/>
<rect x="311" y="1065" width="8" height="8" fill="#74543a" opacity="0.85"/>
<rect x="204" y="1015" width="6" height="6" fill="#74543a" opacity="0.85"/>
<rect x="221" y="1002" width="8" height="8" fill="#74543a" opacity="0.85"/>
<rect x="289" y="1046" width="6" height="6" fill="#74543a" opacity="0.85"/>
<rect x="321" y="1119" width="5" height="5" fill="#74543a" opacity="0.85"/>
<rect x="313" y="1108" width="6" height="6" fill="#74543a" opacity="0.85"/>
<rect x="251" y="1040" width="8" height="8" fill="#74543a" opacity="0.85"/>
<rect x="248" y="1054" width="8" height="8" fill="#74543a" opacity="0.85"/>
<rect x="258" y="1035" width="9" height="9" fill="#74543a" opacity="0.85"/>
<rect x="208" y="1012" width="8" height="8" fill="#74543a" opacity="0.85"/>
<rect x="239" y="1082" width="5" height="5" fill="#74543a" opacity="0.85"/>
<rect x="232" y="968" width="5" height="5" fill="#74543a" opacity="0.85"/>
<rect x="300" y="1144" width="6" height="6" fill="#74543a" opacity="0.85"/>
<rect x="318" y="1088" width="8" height="8" fill="#74543a" opacity="0.85"/>
<rect x="300" y="1041" width="5" height="5" fill="#74543a" opacity="0.85"/>
<rect x="260" y="1012" width="9" height="9" fill="#74543a" opacity="0.85"/>
<rect x="245" y="993" width="6" height="6" fill="#74543a" opacity="0.85"/>
<rect x="252" y="1098" width="5" height="5" fill="#74543a" opacity="0.85"/>
<rect x="314" y="1094" width="9" height="9" fill="#74543a" opacity="0.85"/>
<rect x="205" y="965" width="5" height="5" fill="#74543a" opacity="0.85"/>
<rect x="276" y="1047" width="8" height="8" fill="#74543a" opacity="0.85"/>
<rect x="215" y="965" width="9" height="9" fill="#74543a" opacity="0.85"/>
<rect x="283" y="1065" width="6" height="6" fill="#74543a" opacity="0.85"/>
<rect x="269" y="1113" width="6" height="6" fill="#74543a" opacity="0.85"/>
<rect x="206" y="963" width="9" height="9" fill="#74543a" opacity="0.85"/>
<rect x="259" y="1093" width="8" height="8" fill="#74543a" opacity="0.85"/>
<rect x="237" y="1049" width="9" height="9" fill="#74543a" opacity="0.85"/>
<rect x="226" y="1014" width="9" height="9" fill="#74543a" opacity="0.85"/>
<rect x="266" y="1118" width="9" height="9" fill="#74543a" opacity="0.85"/>
<rect x="266" y="1099" width="5" height="5" fill="#74543a" opacity="0.85"/>
<rect x="286" y="1127" width="9" height="9" fill="#74543a" opacity="0.85"/>
<rect x="196" y="998" width="5" height="5" fill="#74543a" opacity="0.85"/>
<rect x="261" y="1063" width="9" height="9" fill="#74543a" opacity="0.85"/>
<rect x="293" y="1131" width="8" height="8" fill="#74543a" opacity="0.85"/>
<rect x="250" y="1085" width="5" height="5" fill="#74543a" opacity="0.85"/>
<rect x="285" y="1048" width="5" height="5" fill="#74543a" opacity="0.85"/>
<rect x="235" y="1023" width="5" height="5" fill="#74543a" opacity="0.85"/>
<rect x="252" y="989" width="6" height="6" fill="#74543a" opacity="0.85"/>
<rect x="241" y="1056" width="9" height="9" fill="#74543a" opacity="0.85"/>
<rect x="223" y="1011" width="8" height="8" fill="#74543a" opacity="0.85"/>
<rect x="266" y="1018" width="9" height="9" fill="#74543a" opacity="0.85"/>
<rect x="246" y="1042" width="9" height="9" fill="#74543a" opacity="0.85"/>
<rect x="225" y="982" width="6" height="6" fill="#74543a" opacity="0.85"/>
<rect x="219" y="988" width="9" height="9" fill="#74543a" opacity="0.85"/>
<rect x="314" y="1138" width="9" height="9" fill="#74543a" opacity="0.85"/>
<rect x="247" y="1089" width="6" height="6" fill="#74543a" opacity="0.85"/>
<rect x="254" y="995" width="8" height="8" fill="#74543a" opacity="0.85"/>
<rect x="246" y="1076" width="9" height="9" fill="#74543a" opacity="0.85"/>
<rect x="268" y="1078" width="8" height="8" fill="#74543a" opacity="0.85"/>
<rect x="326" y="1123" width="8" height="8" fill="#74543a" opacity="0.85"/>
<rect x="268" y="1045" width="6" height="6" fill="#74543a" opacity="0.85"/>
<rect x="290" y="1056" width="9" height="9" fill="#74543a" opacity="0.85"/>
<rect x="324" y="1092" width="9" height="9" fill="#74543a" opacity="0.85"/>
<rect x="310" y="1081" width="5" height="5" fill="#74543a" opacity="0.85"/>
<rect x="243" y="1062" width="9" height="9" fill="#74543a" opacity="0.85"/>
<path d="M240.0,972.0 L400.0,888.0 L600.0,783.0 L800.0,678.0 L1000.0,573.0 L1060.0,558.0 L1112.0,588.0 L1145.0,635.0 L1150.0,690.0 L1125.0,727.0 L1050.0,768.0 L800.0,898.0 L600.0,1002.0 L400.0,1106.0 L360.0,1142.0 L320.0,1112.0 L282.0,1062.0 L252.0,1012.0 Z" fill="#6e8898" stroke="#1c140e" stroke-width="3" stroke-linejoin="round" />
<clipPath id="cclip0"><path d="M240,972 L400,888 L600,783 L800,678 L1000,573 L1060,558 L1112,588 L1145,635 L1150,690 L1125,727 L1050,768 L800,898 L600,1002 L400,1106 L360,1142 L320,1112 L282,1062 L252,1012 Z"/></clipPath>
<g clip-path="url(#cclip0)">
<path d="M207.9,989.1 L1093.3,524.3 L1101.2,539.3 L215.8,1004.2 Z" fill="#a87850" />
<path d="M283.3,987.0 L283.4,986.8 L283.4,986.6 L283.5,986.4 L283.5,986.2 L283.5,986.1 L283.5,985.9 L283.4,985.7 L283.4,985.5 L283.3,985.3 L283.2,985.1 L283.1,985.0 L270.6,967.0 L270.4,966.8 L270.3,966.7 L270.2,966.5 L270.0,966.4 L269.8,966.3 L269.7,966.3 L269.5,966.2 L269.3,966.1 L269.1,966.1 L268.9,966.1 L268.7,966.1 L268.5,966.2 L268.3,966.2 L268.2,966.3 L268.0,966.3 L251.0,975.3 L250.8,975.4 L250.7,975.5 L250.5,975.6 L250.4,975.7 L250.3,975.9 L250.2,976.1 L250.1,976.2 L250.0,976.4 L250.0,976.6 L250.0,976.8 L249.9,977.0 L250.0,977.2 L250.0,977.4 L250.0,977.6 L259.3,1008.5 L259.4,1008.7 L259.4,1008.8 L259.5,1009.0 L264.7,1017.6 L264.8,1017.7 L264.9,1017.9 L265.1,1018.0 L265.2,1018.2 L265.4,1018.3 L265.6,1018.4 L265.7,1018.4 L265.9,1018.5 L266.1,1018.5 L266.3,1018.5 L266.5,1018.5 L267.6,1018.5 L267.8,1018.4 L268.0,1018.4 L268.1,1018.3 L268.3,1018.3 L268.5,1018.2 L268.6,1018.0 L268.8,1017.9 L268.9,1017.8 L269.0,1017.6 L269.1,1017.5 L269.2,1017.3 L283.3,987.0 Z" fill="#ac7a4e" stroke="#2a2018" stroke-width="3" stroke-linejoin="round"/>
<path d="M270.8,983.6 L270.8,983.5 L270.8,983.4 L270.8,983.3 L270.9,983.2 L270.9,983.1 L270.8,983.1 L270.8,983.0 L270.8,982.9 L270.8,982.8 L270.7,982.7 L270.7,982.7 L263.8,974.6 L263.7,974.5 L263.6,974.4 L263.5,974.4 L263.5,974.3 L263.4,974.3 L263.3,974.2 L263.2,974.2 L263.1,974.2 L263.0,974.2 L262.9,974.2 L262.7,974.2 L262.6,974.2 L262.5,974.2 L262.4,974.2 L262.3,974.3 L253.0,978.3 L252.9,978.3 L252.8,978.4 L252.7,978.4 L252.7,978.5 L252.6,978.6 L252.6,978.6 L252.5,978.7 L252.5,978.8 L252.4,978.9 L252.4,979.0 L252.4,979.1 L252.4,979.2 L252.4,979.2 L252.5,979.3 L257.6,993.2 L257.6,993.3 L257.6,993.4 L257.7,993.4 L260.5,997.3 L260.6,997.4 L260.6,997.5 L260.7,997.5 L260.8,997.6 L260.9,997.6 L261.0,997.7 L261.1,997.7 L261.2,997.7 L261.3,997.8 L261.4,997.8 L261.5,997.8 L262.1,997.7 L262.2,997.7 L262.3,997.7 L262.4,997.7 L262.5,997.6 L262.6,997.6 L262.7,997.5 L262.8,997.5 L262.9,997.4 L262.9,997.4 L263.0,997.3 L263.0,997.2 L270.8,983.6 Z" fill="#c89a6c" opacity="0.55"/>
<path d="M322.5,981.1 L322.7,981.1 L322.9,981.1 L323.1,981.0 L323.3,980.9 L323.5,980.9 L323.6,980.8 L323.8,980.7 L323.9,980.5 L324.0,980.4 L324.2,980.2 L363.4,923.0 L363.5,922.8 L363.5,922.6 L363.6,922.4 L363.7,922.3 L363.7,922.1 L363.7,921.9 L363.7,921.7 L363.7,921.5 L363.6,921.3 L363.6,921.1 L363.5,921.0 L362.6,919.0 L362.5,918.8 L362.4,918.7 L362.2,918.5 L362.1,918.4 L361.9,918.3 L361.8,918.2 L361.6,918.1 L361.4,918.0 L361.2,917.9 L361.0,917.9 L360.8,917.9 L360.6,917.9 L360.4,917.9 L360.2,918.0 L360.0,918.0 L359.8,918.1 L278.7,960.7 L278.5,960.8 L278.4,960.9 L278.2,961.1 L278.1,961.2 L278.0,961.4 L277.9,961.6 L277.8,961.7 L277.7,961.9 L277.7,962.1 L277.6,962.3 L277.6,962.5 L277.6,962.7 L277.7,962.9 L277.7,963.1 L277.8,963.3 L277.9,963.5 L278.0,963.6 L289.8,980.6 L290.0,980.8 L290.1,980.9 L290.2,981.1 L290.4,981.2 L290.6,981.3 L290.7,981.3 L290.9,981.4 L291.1,981.5 L291.3,981.5 L291.5,981.5 L322.5,981.1 Z" fill="#9c6a46" stroke="#2a2018" stroke-width="3" stroke-linejoin="round"/>
<path d="M316.1,962.0 L316.2,962.0 L316.3,962.0 L316.4,961.9 L316.5,961.9 L316.6,961.9 L316.7,961.8 L316.8,961.8 L316.9,961.7 L317.0,961.6 L317.0,961.6 L338.6,935.8 L338.6,935.7 L338.7,935.7 L338.7,935.6 L338.7,935.5 L338.8,935.4 L338.8,935.3 L338.8,935.2 L338.8,935.1 L338.7,935.1 L338.7,935.0 L338.7,934.9 L338.1,934.0 L338.1,934.0 L338.0,933.9 L338.0,933.8 L337.9,933.7 L337.8,933.7 L337.7,933.6 L337.6,933.6 L337.5,933.6 L337.4,933.5 L337.3,933.5 L337.2,933.5 L337.1,933.5 L336.9,933.5 L336.8,933.6 L336.7,933.6 L336.6,933.6 L292.0,952.8 L291.9,952.8 L291.8,952.9 L291.7,953.0 L291.7,953.0 L291.6,953.1 L291.6,953.2 L291.5,953.3 L291.5,953.3 L291.4,953.4 L291.4,953.5 L291.4,953.6 L291.4,953.7 L291.4,953.8 L291.5,953.9 L291.5,954.0 L291.6,954.0 L291.6,954.1 L298.1,961.8 L298.2,961.8 L298.3,961.9 L298.4,961.9 L298.4,962.0 L298.5,962.0 L298.6,962.1 L298.7,962.1 L298.8,962.1 L298.9,962.1 L299.1,962.1 L316.1,962.0 Z" fill="#c89a6c" opacity="0.55"/>
<path d="M280.5,1043.7 L280.5,1043.9 L280.6,1044.1 L280.7,1044.3 L288.6,1057.4 L288.7,1057.6 L298.4,1070.3 L298.5,1070.4 L298.6,1070.6 L298.8,1070.7 L298.9,1070.8 L299.1,1070.9 L299.2,1071.0 L299.4,1071.0 L299.6,1071.1 L341.1,1078.5 L341.3,1078.6 L341.4,1078.6 L341.6,1078.6 L341.8,1078.5 L342.0,1078.5 L342.2,1078.4 L342.4,1078.3 L342.6,1078.2 L342.7,1078.1 L342.9,1078.0 L343.0,1077.8 L359.6,1056.8 L359.7,1056.7 L359.8,1056.5 L359.9,1056.3 L359.9,1056.2 L360.0,1056.0 L360.0,1055.8 L360.0,1055.6 L360.0,1040.8 L360.0,1040.6 L359.9,1040.4 L359.9,1040.3 L359.8,1040.1 L359.7,1039.9 L359.7,1039.7 L359.6,1039.6 L359.4,1039.3 L359.2,1038.9 L354.5,1026.0 L354.4,1025.7 L354.3,1025.4 L354.3,1025.0 L353.5,1017.1 L353.5,1016.9 L353.4,1016.7 L353.3,1016.5 L353.2,1016.4 L353.1,1016.2 L353.0,1016.0 L352.9,1015.9 L324.7,989.6 L324.6,989.5 L324.4,989.4 L324.3,989.3 L324.1,989.2 L323.9,989.2 L323.7,989.1 L323.5,989.1 L323.3,989.1 L292.2,989.5 L292.0,989.5 L291.8,989.5 L291.6,989.6 L291.4,989.7 L291.2,989.7 L291.1,989.9 L290.9,990.0 L290.7,990.1 L290.6,990.3 L290.5,990.5 L290.4,990.6 L275.9,1022.0 L275.8,1022.2 L275.8,1022.3 L275.7,1022.5 L275.7,1022.7 L275.7,1022.9 L275.7,1023.1 L275.7,1023.3 L280.5,1043.7 Z" fill="#9c6a46" stroke="#2a2018" stroke-width="3" stroke-linejoin="round"/>
<path d="M292.5,1033.1 L292.5,1033.2 L292.5,1033.3 L292.6,1033.4 L296.9,1039.3 L297.0,1039.4 L302.3,1045.1 L302.4,1045.2 L302.4,1045.2 L302.5,1045.3 L302.6,1045.3 L302.7,1045.4 L302.8,1045.4 L302.9,1045.4 L303.0,1045.4 L325.8,1048.8 L325.9,1048.8 L326.0,1048.8 L326.1,1048.8 L326.2,1048.8 L326.3,1048.8 L326.4,1048.7 L326.5,1048.7 L326.6,1048.6 L326.7,1048.6 L326.8,1048.5 L326.8,1048.5 L335.9,1039.0 L336.0,1039.0 L336.1,1038.9 L336.1,1038.8 L336.1,1038.7 L336.2,1038.6 L336.2,1038.6 L336.2,1038.5 L336.2,1031.8 L336.2,1031.7 L336.2,1031.6 L336.1,1031.6 L336.1,1031.5 L336.0,1031.4 L336.0,1031.3 L335.9,1031.3 L335.9,1031.1 L335.8,1031.0 L333.2,1025.2 L333.1,1025.0 L333.1,1024.9 L333.0,1024.7 L332.6,1021.2 L332.6,1021.1 L332.6,1021.0 L332.5,1020.9 L332.5,1020.8 L332.4,1020.7 L332.3,1020.7 L332.3,1020.6 L316.8,1008.8 L316.7,1008.7 L316.6,1008.7 L316.5,1008.6 L316.4,1008.6 L316.3,1008.6 L316.2,1008.6 L316.1,1008.5 L316.0,1008.5 L298.9,1008.7 L298.8,1008.7 L298.7,1008.7 L298.6,1008.8 L298.5,1008.8 L298.4,1008.8 L298.3,1008.9 L298.2,1008.9 L298.1,1009.0 L298.0,1009.1 L298.0,1009.2 L297.9,1009.2 L289.9,1023.3 L289.9,1023.4 L289.9,1023.5 L289.8,1023.6 L289.8,1023.7 L289.8,1023.8 L289.8,1023.8 L289.8,1023.9 L292.5,1033.1 Z" fill="#c89a6c" opacity="0.55"/>
<path d="M311.0,1081.3 L310.8,1081.2 L310.6,1081.2 L310.4,1081.2 L310.3,1081.3 L310.1,1081.3 L309.9,1081.4 L309.7,1081.5 L309.5,1081.6 L309.4,1081.7 L309.2,1081.9 L309.1,1082.0 L309.0,1082.2 L308.9,1082.4 L308.8,1082.5 L308.8,1082.7 L308.7,1082.9 L308.7,1083.1 L308.7,1083.3 L308.7,1083.5 L308.8,1083.7 L308.8,1083.9 L308.9,1084.1 L309.0,1084.3 L309.1,1084.4 L325.5,1106.0 L325.6,1106.2 L325.8,1106.3 L325.9,1106.4 L345.0,1120.8 L345.2,1120.9 L345.4,1121.0 L345.5,1121.1 L345.7,1121.1 L345.9,1121.2 L346.1,1121.2 L346.3,1121.2 L346.5,1121.2 L346.7,1121.1 L346.9,1121.1 L347.1,1121.0 L347.2,1120.9 L347.4,1120.8 L347.6,1120.7 L347.7,1120.5 L347.8,1120.4 L347.9,1120.2 L348.0,1120.0 L348.1,1119.9 L348.2,1119.7 L348.2,1119.5 L348.2,1119.3 L348.2,1119.1 L348.2,1118.9 L348.2,1118.7 L340.9,1087.9 L340.8,1087.7 L340.8,1087.5 L340.7,1087.3 L340.6,1087.2 L340.5,1087.0 L340.3,1086.9 L340.2,1086.7 L340.0,1086.6 L339.9,1086.5 L339.7,1086.5 L339.5,1086.4 L339.3,1086.4 L311.0,1081.3 Z" fill="#ac7a4e" stroke="#2a2018" stroke-width="3" stroke-linejoin="round"/>
<path d="M315.1,1085.5 L315.0,1085.5 L314.9,1085.5 L314.8,1085.5 L314.7,1085.5 L314.6,1085.5 L314.5,1085.6 L314.4,1085.6 L314.3,1085.7 L314.2,1085.7 L314.1,1085.8 L314.0,1085.9 L314.0,1085.9 L313.9,1086.0 L313.9,1086.1 L313.8,1086.2 L313.8,1086.3 L313.8,1086.4 L313.8,1086.4 L313.8,1086.5 L313.8,1086.6 L313.9,1086.7 L313.9,1086.8 L314.0,1086.9 L314.0,1086.9 L323.1,1096.7 L323.1,1096.7 L323.2,1096.8 L323.3,1096.8 L333.8,1103.3 L333.9,1103.3 L334.0,1103.4 L334.1,1103.4 L334.2,1103.4 L334.3,1103.5 L334.4,1103.5 L334.5,1103.5 L334.6,1103.5 L334.7,1103.5 L334.8,1103.4 L334.9,1103.4 L335.0,1103.4 L335.1,1103.3 L335.2,1103.3 L335.3,1103.2 L335.3,1103.1 L335.4,1103.0 L335.4,1103.0 L335.5,1102.9 L335.5,1102.8 L335.5,1102.7 L335.6,1102.6 L335.6,1102.5 L335.5,1102.5 L335.5,1102.4 L331.5,1088.5 L331.5,1088.4 L331.4,1088.3 L331.4,1088.2 L331.3,1088.2 L331.3,1088.1 L331.2,1088.0 L331.1,1088.0 L331.0,1087.9 L330.9,1087.9 L330.8,1087.9 L330.7,1087.8 L330.6,1087.8 L315.1,1085.5 Z" fill="#c89a6c" opacity="0.55"/>
<path d="M348.8,1083.3 L348.7,1083.5 L348.6,1083.7 L348.5,1083.8 L348.5,1084.0 L348.4,1084.2 L348.4,1084.4 L348.4,1084.6 L348.4,1084.8 L348.4,1085.0 L358.7,1128.4 L358.7,1128.6 L358.8,1128.8 L358.9,1129.0 L359.0,1129.1 L359.1,1129.3 L359.3,1129.4 L359.4,1129.6 L359.6,1129.7 L359.8,1129.8 L359.9,1129.8 L360.1,1129.9 L360.3,1129.9 L360.5,1130.0 L360.7,1130.0 L360.9,1130.0 L361.1,1129.9 L361.3,1129.9 L361.5,1129.8 L361.7,1129.7 L361.8,1129.6 L362.0,1129.5 L394.6,1100.1 L394.8,1099.9 L395.0,1099.8 L395.3,1099.5 L395.5,1099.4 L395.9,1099.1 L396.1,1099.0 L396.3,1098.9 L431.6,1080.6 L431.7,1080.5 L431.9,1080.3 L432.1,1080.2 L432.2,1080.1 L432.3,1079.9 L432.4,1079.8 L432.5,1079.6 L432.6,1079.4 L432.6,1079.2 L432.6,1079.0 L432.7,1078.8 L432.7,1078.6 L432.6,1078.4 L432.6,1078.2 L432.5,1078.1 L432.4,1077.9 L432.3,1077.7 L432.2,1077.6 L432.1,1077.4 L432.0,1077.3 L431.8,1077.1 L431.6,1077.0 L431.5,1077.0 L431.3,1076.9 L431.1,1076.8 L427.1,1075.9 L426.9,1075.9 L411.3,1074.0 L411.0,1073.9 L410.6,1073.8 L394.6,1069.1 L394.2,1069.0 L393.8,1068.8 L392.9,1068.3 L392.8,1068.3 L392.6,1068.2 L392.4,1068.2 L366.8,1062.4 L366.6,1062.4 L366.4,1062.4 L366.2,1062.4 L366.0,1062.4 L365.8,1062.4 L365.6,1062.5 L365.4,1062.6 L365.2,1062.7 L365.1,1062.8 L364.9,1063.0 L364.8,1063.1 L348.8,1083.3 Z" fill="#a87450" stroke="#2a2018" stroke-width="3" stroke-linejoin="round"/>
<path d="M357.9,1082.0 L357.8,1082.0 L357.8,1082.1 L357.7,1082.2 L357.7,1082.3 L357.7,1082.4 L357.6,1082.5 L357.6,1082.5 L357.6,1082.6 L357.7,1082.7 L363.3,1102.3 L363.3,1102.3 L363.4,1102.4 L363.4,1102.5 L363.5,1102.6 L363.5,1102.7 L363.6,1102.7 L363.7,1102.8 L363.8,1102.8 L363.9,1102.9 L364.0,1102.9 L364.1,1102.9 L364.2,1102.9 L364.3,1103.0 L364.4,1103.0 L364.5,1102.9 L364.6,1102.9 L364.7,1102.9 L364.8,1102.9 L364.9,1102.8 L365.0,1102.8 L365.1,1102.7 L383.1,1089.5 L383.2,1089.4 L383.3,1089.4 L383.5,1089.2 L383.6,1089.2 L383.8,1089.1 L383.9,1089.0 L384.0,1089.0 L403.4,1080.7 L403.5,1080.7 L403.6,1080.6 L403.6,1080.6 L403.7,1080.5 L403.8,1080.4 L403.8,1080.4 L403.9,1080.3 L403.9,1080.2 L404.0,1080.1 L404.0,1080.0 L404.0,1079.9 L404.0,1079.8 L404.0,1079.8 L403.9,1079.7 L403.9,1079.6 L403.9,1079.5 L403.8,1079.4 L403.7,1079.4 L403.7,1079.3 L403.6,1079.2 L403.5,1079.2 L403.4,1079.1 L403.3,1079.1 L403.2,1079.1 L403.1,1079.0 L400.9,1078.6 L400.8,1078.6 L392.2,1077.8 L392.1,1077.7 L391.9,1077.7 L383.0,1075.6 L382.8,1075.5 L382.6,1075.4 L382.1,1075.2 L382.0,1075.2 L382.0,1075.2 L381.9,1075.1 L367.8,1072.5 L367.7,1072.5 L367.5,1072.5 L367.4,1072.5 L367.3,1072.5 L367.2,1072.6 L367.1,1072.6 L367.0,1072.6 L366.9,1072.7 L366.8,1072.7 L366.7,1072.8 L366.7,1072.9 L357.9,1082.0 Z" fill="#c89a6c" opacity="0.55"/>
<path d="M469.5,878.9 L469.7,879.0 L469.9,879.0 L470.1,879.0 L470.2,879.0 L470.4,879.0 L470.6,879.0 L470.8,878.9 L471.0,878.8 L471.9,878.4 L472.3,878.2 L493.6,870.7 L494.1,870.5 L510.7,866.4 L510.9,866.3 L511.1,866.3 L511.2,866.2 L511.4,866.1 L511.5,866.0 L511.7,865.8 L511.8,865.7 L511.9,865.5 L512.0,865.4 L512.1,865.2 L512.1,865.0 L512.2,864.8 L517.1,839.2 L517.1,839.0 L517.1,838.8 L517.1,838.6 L517.1,838.4 L517.0,838.3 L517.0,838.1 L516.9,837.9 L516.8,837.7 L516.7,837.6 L516.6,837.4 L516.4,837.3 L516.3,837.2 L516.1,837.1 L515.9,837.0 L515.7,836.9 L515.5,836.9 L515.3,836.9 L515.1,836.8 L515.0,836.9 L514.8,836.9 L514.6,836.9 L514.4,837.0 L514.2,837.1 L454.0,868.7 L453.8,868.8 L453.7,868.9 L453.5,869.0 L453.4,869.2 L453.3,869.3 L453.2,869.5 L453.1,869.7 L453.0,869.9 L453.0,870.0 L452.9,870.2 L452.9,870.4 L452.9,870.6 L452.9,870.8 L453.0,871.0 L453.0,871.2 L453.1,871.4 L453.2,871.5 L454.4,873.4 L454.5,873.5 L454.6,873.7 L454.8,873.8 L454.9,873.9 L455.1,874.0 L455.3,874.1 L455.4,874.2 L469.5,878.9 Z" fill="#b88658" stroke="#2a2018" stroke-width="3" stroke-linejoin="round"/>
<path d="M473.3,864.0 L473.4,864.0 L473.5,864.0 L473.7,864.0 L473.8,864.0 L473.9,864.0 L474.0,864.0 L474.1,864.0 L474.2,863.9 L474.6,863.7 L474.9,863.7 L486.6,860.3 L486.9,860.2 L496.0,858.3 L496.1,858.3 L496.2,858.3 L496.3,858.2 L496.4,858.2 L496.5,858.1 L496.5,858.1 L496.6,858.0 L496.7,858.0 L496.7,857.9 L496.8,857.8 L496.8,857.7 L496.8,857.6 L499.5,846.1 L499.5,846.0 L499.5,845.9 L499.5,845.9 L499.5,845.8 L499.5,845.7 L499.5,845.6 L499.4,845.5 L499.4,845.4 L499.3,845.4 L499.2,845.3 L499.1,845.2 L499.1,845.2 L499.0,845.2 L498.9,845.1 L498.8,845.1 L498.7,845.1 L498.6,845.0 L498.5,845.0 L498.3,845.0 L498.2,845.1 L498.1,845.1 L498.0,845.1 L497.9,845.1 L464.8,859.4 L464.7,859.4 L464.6,859.5 L464.6,859.5 L464.5,859.6 L464.4,859.7 L464.4,859.7 L464.3,859.8 L464.3,859.9 L464.2,860.0 L464.2,860.1 L464.2,860.2 L464.2,860.2 L464.2,860.3 L464.3,860.4 L464.3,860.5 L464.3,860.6 L464.4,860.7 L465.0,861.5 L465.1,861.5 L465.2,861.6 L465.2,861.7 L465.3,861.7 L465.4,861.8 L465.5,861.8 L465.6,861.8 L473.3,864.0 Z" fill="#c89a6c" opacity="0.55"/>
<path d="M350.6,1002.8 L350.7,1002.9 L350.9,1003.0 L351.1,1003.1 L351.2,1003.2 L351.4,1003.3 L351.6,1003.3 L351.8,1003.3 L352.0,1003.3 L352.2,1003.3 L352.4,1003.3 L352.6,1003.2 L352.8,1003.1 L353.0,1003.0 L353.1,1002.9 L353.3,1002.8 L353.4,1002.6 L353.5,1002.5 L353.7,1002.3 L353.7,1002.1 L353.8,1002.0 L353.9,1001.8 L353.9,1001.6 L354.8,994.5 L354.9,994.1 L355.0,993.7 L360.2,977.8 L360.3,977.5 L360.5,977.1 L368.9,961.0 L369.2,960.4 L380.6,944.5 L380.9,944.0 L387.4,937.0 L387.5,936.8 L387.6,936.7 L387.7,936.5 L387.8,936.3 L387.8,936.1 L387.9,935.9 L387.9,935.7 L387.9,935.6 L387.9,935.4 L387.8,935.2 L387.8,935.0 L387.7,934.8 L387.6,934.6 L387.5,934.5 L387.4,934.3 L387.3,934.2 L387.1,934.1 L387.0,933.9 L386.8,933.8 L386.6,933.8 L371.6,927.8 L371.4,927.8 L371.2,927.7 L371.1,927.7 L370.9,927.7 L370.7,927.7 L370.5,927.7 L370.3,927.8 L370.1,927.8 L369.9,927.9 L369.8,928.0 L369.6,928.1 L369.5,928.3 L369.3,928.4 L369.2,928.6 L331.9,983.1 L331.8,983.2 L331.7,983.4 L331.7,983.6 L331.6,983.8 L331.6,984.0 L331.6,984.2 L331.6,984.4 L331.6,984.6 L331.7,984.8 L331.7,985.0 L331.8,985.2 L331.9,985.4 L332.1,985.5 L332.2,985.7 L350.6,1002.8 Z" fill="#b27e54" stroke="#2a2018" stroke-width="3" stroke-linejoin="round"/>
<path d="M348.9,976.4 L349.0,976.5 L349.1,976.6 L349.2,976.6 L349.3,976.6 L349.4,976.7 L349.5,976.7 L349.6,976.7 L349.7,976.7 L349.8,976.7 L349.9,976.7 L350.0,976.6 L350.1,976.6 L350.2,976.6 L350.3,976.5 L350.4,976.5 L350.5,976.4 L350.6,976.3 L350.6,976.2 L350.7,976.2 L350.7,976.1 L350.7,976.0 L350.8,975.9 L351.2,972.7 L351.3,972.5 L351.3,972.4 L354.2,965.2 L354.3,965.1 L354.4,964.9 L359.0,957.7 L359.2,957.4 L365.4,950.2 L365.6,950.0 L369.2,946.8 L369.2,946.8 L369.3,946.7 L369.3,946.6 L369.4,946.5 L369.4,946.5 L369.4,946.4 L369.4,946.3 L369.4,946.2 L369.4,946.1 L369.4,946.0 L369.4,945.9 L369.3,945.9 L369.3,945.8 L369.2,945.7 L369.2,945.6 L369.1,945.6 L369.0,945.5 L368.9,945.5 L368.8,945.4 L368.7,945.4 L360.5,942.7 L360.4,942.7 L360.3,942.7 L360.2,942.7 L360.1,942.7 L360.0,942.7 L359.9,942.7 L359.8,942.7 L359.7,942.7 L359.6,942.8 L359.5,942.8 L359.4,942.9 L359.3,942.9 L359.2,943.0 L359.2,943.0 L338.7,967.6 L338.6,967.7 L338.6,967.7 L338.5,967.8 L338.5,967.9 L338.5,968.0 L338.5,968.1 L338.5,968.2 L338.5,968.3 L338.5,968.4 L338.6,968.4 L338.6,968.5 L338.7,968.6 L338.7,968.7 L338.8,968.7 L348.9,976.4 Z" fill="#c89a6c" opacity="0.55"/>
<path d="M393.9,928.0 L394.1,928.1 L394.3,928.2 L394.5,928.2 L394.7,928.2 L394.9,928.2 L395.1,928.1 L395.3,928.1 L395.5,928.0 L395.7,927.9 L395.8,927.8 L396.0,927.7 L411.7,913.7 L412.1,913.4 L430.4,900.2 L430.8,899.9 L431.4,899.6 L431.6,899.5 L431.7,899.4 L431.9,899.2 L432.0,899.0 L446.6,878.3 L446.7,878.1 L446.8,877.9 L446.8,877.8 L446.9,877.6 L446.9,877.4 L446.9,877.2 L446.9,877.0 L446.9,876.8 L446.9,876.6 L446.8,876.4 L446.7,876.2 L446.6,876.1 L445.9,875.0 L445.8,874.8 L445.7,874.7 L445.6,874.5 L445.4,874.4 L445.2,874.3 L445.1,874.2 L444.9,874.2 L444.7,874.1 L444.5,874.1 L444.3,874.1 L444.1,874.1 L443.9,874.1 L443.7,874.1 L443.5,874.2 L443.3,874.3 L370.5,912.5 L370.3,912.6 L370.1,912.8 L370.0,912.9 L369.9,913.0 L369.8,913.2 L369.6,913.3 L369.6,913.5 L369.5,913.7 L369.4,913.9 L369.4,914.1 L369.4,914.3 L369.4,914.4 L369.4,914.6 L369.5,914.8 L369.5,915.0 L369.6,915.2 L371.2,918.5 L371.3,918.7 L371.4,918.8 L371.5,919.0 L371.6,919.1 L371.8,919.2 L371.9,919.3 L372.1,919.4 L372.3,919.5 L393.9,928.0 Z" fill="#a87450" stroke="#2a2018" stroke-width="3" stroke-linejoin="round"/>
<path d="M395.0,909.7 L395.1,909.7 L395.2,909.8 L395.3,909.8 L395.4,909.8 L395.5,909.8 L395.6,909.7 L395.7,909.7 L395.8,909.7 L395.9,909.7 L396.0,909.6 L396.1,909.5 L404.8,903.3 L405.0,903.1 L415.0,897.2 L415.3,897.1 L415.6,896.9 L415.7,896.9 L415.8,896.8 L415.8,896.7 L415.9,896.7 L423.9,887.3 L424.0,887.2 L424.0,887.2 L424.1,887.1 L424.1,887.0 L424.1,886.9 L424.1,886.8 L424.1,886.7 L424.1,886.6 L424.1,886.6 L424.0,886.5 L424.0,886.4 L423.9,886.3 L423.6,885.8 L423.5,885.8 L423.4,885.7 L423.4,885.6 L423.3,885.6 L423.2,885.5 L423.1,885.5 L423.0,885.5 L422.9,885.4 L422.8,885.4 L422.7,885.4 L422.5,885.4 L422.4,885.4 L422.3,885.5 L422.2,885.5 L422.1,885.5 L382.1,902.7 L382.0,902.8 L381.9,902.8 L381.8,902.9 L381.7,902.9 L381.7,903.0 L381.6,903.1 L381.6,903.2 L381.5,903.2 L381.5,903.3 L381.5,903.4 L381.5,903.5 L381.5,903.6 L381.5,903.7 L381.5,903.8 L381.5,903.8 L381.6,903.9 L382.5,905.4 L382.5,905.5 L382.6,905.6 L382.6,905.6 L382.7,905.7 L382.8,905.7 L382.9,905.8 L383.0,905.8 L383.1,905.9 L395.0,909.7 Z" fill="#c89a6c" opacity="0.55"/>
<path d="M756.5,764.4 L756.7,764.3 L756.9,764.3 L757.1,764.2 L757.2,764.2 L757.4,764.1 L757.5,764.0 L757.7,763.8 L757.8,763.7 L757.9,763.6 L758.0,763.4 L784.0,719.9 L784.1,719.7 L784.2,719.5 L784.3,719.3 L784.3,719.1 L784.3,718.9 L784.3,718.7 L784.3,718.5 L784.3,718.3 L779.5,700.5 L779.5,700.3 L779.4,700.2 L779.3,700.0 L779.2,699.8 L779.1,699.7 L778.9,699.5 L778.8,699.4 L778.6,699.3 L778.4,699.2 L778.2,699.1 L778.0,699.1 L777.8,699.1 L777.6,699.1 L777.4,699.1 L777.2,699.1 L777.0,699.1 L776.9,699.2 L776.7,699.3 L689.5,745.0 L689.3,745.1 L689.2,745.3 L689.0,745.4 L688.9,745.5 L688.8,745.7 L688.7,745.9 L688.6,746.0 L688.5,746.2 L688.5,746.4 L688.4,746.6 L688.4,746.8 L688.4,747.0 L688.5,747.2 L688.5,747.4 L688.6,747.6 L688.7,747.7 L688.8,747.9 L688.9,748.1 L689.0,748.2 L689.1,748.4 L712.3,767.7 L712.5,767.9 L712.6,768.0 L712.8,768.0 L713.0,768.1 L713.2,768.2 L713.4,768.2 L713.6,768.2 L713.8,768.2 L756.5,764.4 Z" fill="#b27e54" stroke="#2a2018" stroke-width="3" stroke-linejoin="round"/>
<path d="M744.8,745.3 L744.9,745.3 L745.0,745.3 L745.1,745.3 L745.2,745.2 L745.3,745.2 L745.3,745.1 L745.4,745.1 L745.5,745.0 L745.6,745.0 L745.6,744.9 L759.9,725.3 L760.0,725.2 L760.0,725.1 L760.0,725.1 L760.1,725.0 L760.1,724.9 L760.1,724.8 L760.1,724.7 L760.0,724.6 L757.4,716.6 L757.4,716.5 L757.4,716.4 L757.3,716.4 L757.2,716.3 L757.2,716.2 L757.1,716.2 L757.0,716.1 L756.9,716.1 L756.8,716.0 L756.7,716.0 L756.6,716.0 L756.5,715.9 L756.4,715.9 L756.3,715.9 L756.2,715.9 L756.1,716.0 L756.0,716.0 L755.9,716.0 L707.9,736.6 L707.8,736.7 L707.7,736.7 L707.7,736.8 L707.6,736.9 L707.5,736.9 L707.5,737.0 L707.4,737.1 L707.4,737.2 L707.4,737.2 L707.3,737.3 L707.3,737.4 L707.3,737.5 L707.3,737.6 L707.4,737.7 L707.4,737.8 L707.5,737.8 L707.5,737.9 L707.6,738.0 L707.6,738.1 L707.7,738.1 L720.5,746.8 L720.5,746.9 L720.6,746.9 L720.7,747.0 L720.8,747.0 L720.9,747.0 L721.0,747.0 L721.2,747.1 L721.3,747.0 L744.8,745.3 Z" fill="#c89a6c" opacity="0.55"/>
<path d="M520.9,861.8 L520.9,862.0 L520.9,862.2 L520.9,862.4 L520.9,862.6 L521.0,862.8 L521.0,863.0 L521.1,863.2 L521.2,863.3 L521.4,863.5 L521.5,863.6 L521.6,863.8 L521.8,863.9 L522.0,864.0 L522.2,864.1 L522.4,864.1 L522.5,864.2 L522.7,864.2 L522.9,864.2 L523.1,864.2 L536.5,862.4 L537.1,862.3 L556.6,862.0 L557.3,862.1 L575.4,864.3 L575.7,864.4 L576.1,864.5 L592.1,869.2 L592.5,869.3 L592.9,869.5 L597.8,872.1 L598.0,872.1 L598.2,872.2 L598.4,872.2 L598.5,872.3 L598.7,872.3 L598.9,872.3 L599.1,872.2 L599.3,872.2 L599.5,872.1 L599.7,872.0 L599.9,871.9 L600.0,871.8 L600.2,871.7 L600.3,871.5 L600.4,871.4 L600.5,871.2 L600.6,871.0 L600.6,870.8 L600.7,870.6 L604.4,850.2 L604.4,850.0 L604.4,849.8 L604.4,849.6 L604.3,849.4 L604.3,849.2 L604.2,849.1 L604.2,848.9 L604.1,848.7 L603.9,848.6 L603.8,848.4 L603.7,848.3 L603.5,848.2 L603.4,848.1 L551.3,818.6 L551.1,818.6 L550.9,818.5 L550.7,818.4 L550.5,818.4 L550.3,818.4 L550.1,818.4 L549.9,818.4 L549.7,818.5 L549.6,818.5 L549.4,818.6 L527.8,829.9 L527.6,830.0 L527.5,830.2 L527.3,830.3 L527.2,830.4 L527.1,830.6 L527.0,830.8 L526.9,831.0 L526.8,831.1 L526.8,831.3 L520.9,861.8 Z" fill="#a87450" stroke="#2a2018" stroke-width="3" stroke-linejoin="round"/>
<path d="M533.8,848.6 L533.8,848.6 L533.8,848.7 L533.8,848.8 L533.8,848.9 L533.8,849.0 L533.9,849.1 L533.9,849.2 L534.0,849.2 L534.0,849.3 L534.1,849.4 L534.2,849.4 L534.3,849.5 L534.4,849.5 L534.5,849.6 L534.6,849.6 L534.7,849.6 L534.8,849.6 L534.9,849.6 L535.0,849.6 L542.4,848.8 L542.7,848.8 L553.4,848.7 L553.8,848.7 L563.7,849.7 L563.9,849.7 L564.1,849.8 L572.9,851.9 L573.2,851.9 L573.4,852.0 L576.1,853.2 L576.2,853.2 L576.3,853.2 L576.4,853.3 L576.5,853.3 L576.6,853.3 L576.7,853.3 L576.8,853.2 L576.9,853.2 L577.0,853.2 L577.1,853.2 L577.2,853.1 L577.3,853.1 L577.4,853.0 L577.4,852.9 L577.5,852.9 L577.6,852.8 L577.6,852.7 L577.6,852.6 L577.7,852.5 L579.7,843.3 L579.7,843.2 L579.7,843.2 L579.7,843.1 L579.7,843.0 L579.7,842.9 L579.6,842.8 L579.6,842.7 L579.5,842.7 L579.5,842.6 L579.4,842.5 L579.3,842.5 L579.2,842.4 L579.1,842.4 L550.5,829.1 L550.4,829.1 L550.3,829.1 L550.2,829.0 L550.1,829.0 L550.0,829.0 L549.9,829.0 L549.8,829.0 L549.6,829.0 L549.5,829.1 L549.4,829.1 L537.6,834.2 L537.5,834.3 L537.4,834.3 L537.3,834.4 L537.2,834.4 L537.2,834.5 L537.1,834.6 L537.1,834.7 L537.0,834.8 L537.0,834.8 L533.8,848.6 Z" fill="#c89a6c" opacity="0.55"/>
<path d="M607.8,876.2 L607.8,876.4 L607.8,876.6 L607.8,876.8 L607.8,877.0 L607.9,877.2 L607.9,877.3 L608.0,877.5 L608.1,877.7 L608.2,877.8 L608.3,878.0 L608.5,878.1 L618.3,886.4 L618.5,886.6 L618.8,886.9 L619.0,887.2 L626.9,898.4 L627.1,898.7 L627.3,899.0 L627.4,899.4 L632.2,912.3 L632.3,912.6 L632.4,912.9 L632.4,913.3 L633.0,918.9 L633.0,919.1 L633.0,919.3 L633.1,919.5 L633.2,919.7 L633.3,919.8 L633.4,920.0 L633.5,920.1 L633.7,920.3 L633.8,920.4 L634.0,920.5 L634.2,920.6 L634.4,920.6 L634.6,920.7 L634.8,920.7 L635.0,920.7 L635.2,920.7 L635.4,920.7 L635.5,920.6 L635.7,920.6 L635.9,920.5 L705.7,882.5 L705.9,882.4 L706.0,882.3 L706.2,882.2 L706.3,882.1 L706.4,881.9 L706.5,881.7 L706.6,881.6 L706.7,881.4 L706.7,881.2 L706.7,881.0 L706.7,880.8 L706.7,880.6 L706.7,880.4 L706.7,880.2 L706.6,880.1 L706.4,879.4 L706.2,879.0 L706.1,878.5 L705.1,872.5 L705.1,872.0 L705.1,871.6 L705.3,865.3 L705.3,865.1 L705.3,864.9 L705.2,864.7 L705.2,864.5 L705.1,864.3 L705.0,864.1 L704.9,863.9 L691.2,846.6 L691.1,846.4 L691.0,846.3 L690.8,846.2 L690.6,846.1 L690.5,846.0 L690.3,845.9 L690.1,845.9 L633.5,833.8 L633.3,833.8 L633.1,833.8 L632.9,833.8 L632.7,833.8 L632.5,833.8 L632.3,833.9 L632.2,834.0 L632.0,834.1 L631.8,834.2 L613.3,848.5 L613.2,848.6 L613.1,848.7 L612.9,848.8 L612.8,849.0 L612.7,849.2 L612.7,849.3 L612.6,849.5 L612.6,849.7 L607.8,876.2 Z" fill="#9c6a46" stroke="#2a2018" stroke-width="3" stroke-linejoin="round"/>
<path d="M623.8,869.0 L623.8,869.1 L623.8,869.2 L623.8,869.3 L623.8,869.4 L623.8,869.5 L623.9,869.5 L623.9,869.6 L624.0,869.7 L624.0,869.8 L624.1,869.8 L624.2,869.9 L629.6,873.6 L629.7,873.7 L629.8,873.8 L630.0,874.0 L634.3,879.0 L634.4,879.2 L634.5,879.3 L634.6,879.5 L637.2,885.3 L637.3,885.4 L637.3,885.6 L637.3,885.7 L637.6,888.3 L637.7,888.3 L637.7,888.4 L637.7,888.5 L637.8,888.6 L637.8,888.7 L637.9,888.7 L638.0,888.8 L638.0,888.9 L638.1,888.9 L638.2,889.0 L638.3,889.0 L638.4,889.0 L638.5,889.1 L638.6,889.1 L638.7,889.1 L638.9,889.1 L639.0,889.0 L639.1,889.0 L639.2,889.0 L639.3,889.0 L677.7,871.9 L677.7,871.8 L677.8,871.8 L677.9,871.7 L678.0,871.7 L678.0,871.6 L678.1,871.5 L678.1,871.4 L678.2,871.4 L678.2,871.3 L678.2,871.2 L678.2,871.1 L678.2,871.0 L678.2,870.9 L678.2,870.8 L678.1,870.8 L678.0,870.5 L677.9,870.3 L677.9,870.1 L677.3,867.4 L677.3,867.2 L677.3,867.0 L677.4,864.1 L677.4,864.0 L677.4,863.9 L677.4,863.8 L677.3,863.8 L677.3,863.7 L677.3,863.6 L677.2,863.5 L669.7,855.7 L669.6,855.6 L669.5,855.6 L669.5,855.5 L669.4,855.5 L669.3,855.4 L669.2,855.4 L669.1,855.4 L637.9,850.0 L637.8,849.9 L637.7,849.9 L637.6,849.9 L637.5,850.0 L637.4,850.0 L637.3,850.0 L637.2,850.0 L637.1,850.1 L637.0,850.1 L626.8,856.5 L626.8,856.6 L626.7,856.7 L626.6,856.7 L626.6,856.8 L626.5,856.9 L626.5,856.9 L626.5,857.0 L626.4,857.1 L623.8,869.0 Z" fill="#c89a6c" opacity="0.55"/>
<path d="M626.8,828.0 L627.0,827.8 L627.1,827.7 L627.2,827.5 L627.4,827.3 L627.4,827.2 L627.5,827.0 L627.6,826.8 L627.6,826.6 L627.6,826.4 L627.7,780.8 L627.7,780.6 L627.7,780.4 L627.7,780.2 L627.6,780.0 L627.5,779.8 L627.4,779.7 L627.3,779.5 L627.2,779.4 L627.0,779.2 L626.9,779.1 L626.7,779.0 L626.5,778.9 L626.3,778.9 L626.1,778.8 L625.9,778.8 L625.8,778.8 L625.6,778.8 L625.4,778.8 L625.2,778.9 L625.0,778.9 L624.8,779.0 L562.0,812.0 L561.9,812.1 L561.7,812.2 L561.5,812.3 L561.4,812.5 L561.3,812.6 L561.2,812.8 L561.1,813.0 L561.0,813.1 L561.0,813.3 L561.0,813.5 L561.0,813.7 L561.0,813.9 L561.0,814.1 L561.0,814.3 L561.1,814.5 L561.2,814.7 L561.3,814.8 L561.4,815.0 L561.5,815.1 L561.6,815.3 L561.8,815.4 L562.0,815.5 L607.6,841.3 L607.7,841.3 L607.9,841.4 L608.1,841.5 L608.3,841.5 L608.5,841.5 L608.7,841.5 L608.9,841.5 L609.1,841.4 L609.2,841.4 L609.4,841.3 L609.6,841.2 L609.8,841.1 L626.8,828.0 Z" fill="#b88658" stroke="#2a2018" stroke-width="3" stroke-linejoin="round"/>
<path d="M611.1,814.2 L611.2,814.1 L611.3,814.0 L611.3,814.0 L611.4,813.9 L611.5,813.8 L611.5,813.7 L611.5,813.6 L611.5,813.5 L611.5,813.4 L611.6,792.9 L611.6,792.8 L611.6,792.8 L611.6,792.7 L611.5,792.6 L611.5,792.5 L611.4,792.4 L611.4,792.4 L611.3,792.3 L611.2,792.2 L611.1,792.2 L611.0,792.1 L610.9,792.1 L610.8,792.1 L610.7,792.0 L610.6,792.0 L610.5,792.0 L610.4,792.0 L610.3,792.0 L610.2,792.1 L610.1,792.1 L610.0,792.1 L575.5,807.0 L575.4,807.0 L575.3,807.1 L575.2,807.1 L575.1,807.2 L575.1,807.3 L575.0,807.3 L575.0,807.4 L574.9,807.5 L574.9,807.6 L574.9,807.7 L574.9,807.7 L574.9,807.8 L574.9,807.9 L574.9,808.0 L575.0,808.1 L575.0,808.2 L575.1,808.2 L575.1,808.3 L575.2,808.4 L575.3,808.4 L575.4,808.5 L575.4,808.5 L600.5,820.1 L600.6,820.2 L600.7,820.2 L600.8,820.2 L600.9,820.3 L601.0,820.3 L601.1,820.3 L601.2,820.2 L601.3,820.2 L601.5,820.2 L601.5,820.2 L601.6,820.1 L601.7,820.1 L611.1,814.2 Z" fill="#c89a6c" opacity="0.55"/>
<path d="M789.6,889.9 L789.5,890.0 L789.3,890.2 L789.2,890.3 L789.1,890.5 L789.0,890.7 L788.9,890.9 L788.9,891.1 L788.8,891.2 L788.8,891.4 L788.8,891.6 L788.9,891.8 L788.9,892.0 L789.0,892.2 L789.0,892.4 L789.1,892.6 L789.3,892.7 L789.4,892.9 L789.5,893.0 L789.7,893.1 L789.9,893.2 L790.0,893.3 L790.2,893.4 L790.4,893.5 L790.6,893.5 L790.8,893.5 L791.0,893.5 L791.2,893.5 L791.4,893.4 L791.6,893.4 L791.8,893.3 L844.2,866.0 L844.3,865.9 L844.5,865.8 L844.6,865.7 L844.8,865.5 L844.9,865.4 L845.0,865.2 L845.1,865.0 L845.1,864.9 L845.2,864.7 L845.2,864.5 L845.2,864.3 L845.2,864.1 L845.2,863.9 L845.2,863.7 L845.1,863.5 L845.0,863.3 L844.9,863.2 L842.1,858.7 L842.0,858.5 L841.9,858.4 L841.7,858.2 L841.6,858.1 L841.4,858.0 L841.2,857.9 L841.0,857.9 L840.8,857.8 L840.6,857.8 L840.4,857.8 L840.2,857.8 L840.0,857.8 L839.8,857.9 L839.6,857.9 L807.0,871.8 L806.8,871.9 L806.6,872.0 L806.4,872.2 L806.3,872.3 L806.1,872.5 L806.0,872.7 L805.3,873.8 L804.9,874.4 L800.2,880.4 L799.7,880.9 L794.1,886.4 L793.6,886.8 L789.6,889.9 Z" fill="#b27e54" stroke="#2a2018" stroke-width="3" stroke-linejoin="round"/>
<path d="M797.5,876.1 L797.5,876.2 L797.4,876.2 L797.3,876.3 L797.2,876.4 L797.2,876.5 L797.2,876.5 L797.1,876.6 L797.1,876.7 L797.1,876.8 L797.1,876.9 L797.1,877.0 L797.1,877.1 L797.2,877.2 L797.2,877.2 L797.3,877.3 L797.3,877.4 L797.4,877.5 L797.5,877.5 L797.6,877.6 L797.7,877.6 L797.8,877.7 L797.9,877.7 L798.0,877.7 L798.1,877.7 L798.2,877.7 L798.3,877.7 L798.4,877.7 L798.5,877.7 L798.6,877.7 L798.7,877.6 L827.5,865.4 L827.6,865.3 L827.7,865.3 L827.8,865.2 L827.9,865.1 L827.9,865.1 L828.0,865.0 L828.0,864.9 L828.1,864.8 L828.1,864.8 L828.1,864.7 L828.1,864.6 L828.1,864.5 L828.1,864.4 L828.1,864.3 L828.1,864.2 L828.0,864.2 L828.0,864.1 L826.4,862.1 L826.3,862.0 L826.3,861.9 L826.2,861.9 L826.1,861.8 L826.0,861.8 L825.9,861.7 L825.8,861.7 L825.7,861.7 L825.6,861.7 L825.5,861.7 L825.4,861.7 L825.3,861.7 L825.2,861.7 L825.1,861.7 L807.1,868.0 L807.0,868.0 L806.9,868.1 L806.8,868.1 L806.7,868.2 L806.6,868.3 L806.6,868.4 L806.2,868.9 L806.0,869.1 L803.3,871.8 L803.1,872.1 L800.0,874.6 L799.7,874.7 L797.5,876.1 Z" fill="#c89a6c" opacity="0.55"/>
<path d="M738.5,905.5 L738.4,905.3 L738.3,905.2 L738.2,905.0 L738.1,904.9 L738.0,904.7 L737.9,904.6 L737.7,904.5 L737.6,904.4 L737.4,904.3 L737.2,904.2 L737.0,904.2 L731.0,902.8 L730.7,902.8 L730.3,902.6 L724.1,900.1 L723.8,899.9 L723.4,899.7 L718.0,896.3 L717.7,896.1 L717.3,895.8 L712.9,891.5 L712.6,891.2 L712.3,890.8 L712.0,890.3 L711.9,890.2 L711.8,890.0 L711.6,889.9 L711.5,889.8 L711.3,889.7 L711.1,889.6 L710.9,889.5 L710.7,889.5 L710.5,889.4 L710.3,889.4 L710.1,889.5 L710.0,889.5 L709.8,889.5 L709.6,889.6 L709.4,889.7 L634.4,930.4 L634.2,930.5 L634.1,930.6 L634.0,930.7 L633.8,930.9 L633.7,931.0 L633.6,931.2 L633.5,931.4 L633.5,931.5 L633.4,931.7 L633.4,931.9 L632.2,940.9 L632.2,941.1 L632.2,941.3 L632.3,941.5 L632.3,941.7 L632.4,941.9 L632.4,942.0 L632.5,942.2 L647.1,966.4 L647.3,966.5 L647.4,966.7 L647.5,966.8 L647.7,966.9 L647.9,967.1 L648.0,967.1 L648.2,967.2 L648.4,967.3 L648.6,967.3 L648.8,967.3 L649.0,967.3 L649.2,967.3 L649.4,967.2 L649.6,967.2 L649.8,967.1 L741.3,919.5 L741.5,919.4 L741.7,919.3 L741.8,919.1 L742.0,919.0 L742.1,918.8 L742.2,918.7 L742.3,918.5 L742.3,918.3 L742.4,918.1 L742.4,917.9 L742.4,917.7 L742.4,917.5 L742.4,917.3 L742.3,917.1 L738.5,905.5 Z" fill="#b88658" stroke="#2a2018" stroke-width="3" stroke-linejoin="round"/>
<path d="M709.2,912.4 L709.2,912.3 L709.1,912.2 L709.1,912.1 L709.0,912.1 L708.9,912.0 L708.8,912.0 L708.8,911.9 L708.7,911.9 L708.6,911.8 L708.5,911.8 L708.4,911.8 L705.1,911.2 L704.9,911.1 L704.7,911.1 L701.3,909.9 L701.1,909.9 L700.9,909.8 L697.9,908.2 L697.7,908.1 L697.6,908.0 L695.1,906.1 L695.0,905.9 L694.8,905.7 L694.6,905.5 L694.6,905.5 L694.5,905.4 L694.4,905.3 L694.3,905.3 L694.2,905.2 L694.1,905.2 L694.0,905.2 L693.9,905.2 L693.8,905.1 L693.7,905.1 L693.6,905.1 L693.5,905.2 L693.4,905.2 L693.3,905.2 L693.2,905.2 L651.9,923.6 L651.9,923.6 L651.8,923.7 L651.7,923.7 L651.6,923.8 L651.6,923.8 L651.5,923.9 L651.5,924.0 L651.4,924.1 L651.4,924.2 L651.4,924.2 L650.8,928.3 L650.7,928.4 L650.7,928.5 L650.8,928.6 L650.8,928.6 L650.8,928.7 L650.9,928.8 L650.9,928.9 L658.9,939.7 L659.0,939.8 L659.1,939.9 L659.2,940.0 L659.2,940.0 L659.3,940.1 L659.4,940.1 L659.5,940.1 L659.6,940.2 L659.8,940.2 L659.9,940.2 L660.0,940.2 L660.1,940.2 L660.2,940.1 L660.3,940.1 L660.4,940.1 L710.7,918.7 L710.8,918.6 L710.9,918.6 L711.0,918.5 L711.1,918.4 L711.2,918.4 L711.2,918.3 L711.3,918.2 L711.3,918.1 L711.3,918.0 L711.3,917.9 L711.3,917.8 L711.3,917.8 L711.3,917.7 L711.3,917.6 L709.2,912.4 Z" fill="#c89a6c" opacity="0.55"/>
<path d="M705.8,852.2 L706.0,852.4 L706.1,852.5 L706.3,852.6 L706.4,852.7 L706.6,852.8 L706.8,852.9 L707.0,852.9 L707.2,853.0 L707.4,853.0 L707.6,853.0 L707.8,853.0 L708.0,852.9 L708.2,852.8 L708.3,852.8 L708.5,852.7 L708.7,852.5 L708.8,852.4 L709.0,852.2 L709.1,852.1 L709.2,851.9 L709.3,851.7 L709.7,850.6 L709.8,850.3 L710.0,850.0 L713.8,843.7 L714.1,843.1 L718.9,837.1 L719.3,836.6 L725.0,831.1 L725.5,830.7 L731.9,825.7 L732.4,825.4 L739.5,821.1 L740.0,820.9 L747.5,817.5 L748.0,817.3 L755.8,814.8 L756.3,814.6 L764.2,813.1 L764.8,813.0 L766.3,812.9 L766.5,812.9 L766.7,812.9 L766.9,812.8 L767.1,812.7 L767.2,812.6 L767.4,812.5 L767.6,812.4 L767.7,812.2 L767.8,812.1 L772.1,806.0 L772.2,805.9 L772.2,805.7 L772.3,805.5 L772.4,805.3 L772.4,805.1 L772.4,805.0 L772.4,804.8 L772.4,804.6 L772.4,804.4 L772.3,804.2 L772.2,804.0 L758.1,773.6 L758.0,773.4 L757.9,773.2 L757.7,773.1 L757.6,772.9 L757.4,772.8 L757.2,772.7 L757.1,772.6 L756.9,772.5 L756.7,772.5 L756.5,772.4 L756.3,772.4 L756.1,772.4 L716.2,776.0 L716.0,776.0 L715.8,776.1 L715.6,776.2 L715.4,776.2 L715.2,776.3 L715.1,776.5 L714.9,776.6 L714.8,776.8 L714.7,776.9 L714.6,777.1 L714.5,777.3 L714.4,777.5 L697.7,840.5 L697.6,840.7 L697.6,840.9 L697.6,841.1 L697.6,841.3 L697.7,841.6 L697.7,841.7 L697.8,841.9 L697.9,842.1 L698.0,842.3 L705.8,852.2 Z" fill="#ac7a4e" stroke="#2a2018" stroke-width="3" stroke-linejoin="round"/>
<path d="M712.7,821.3 L712.7,821.3 L712.8,821.4 L712.9,821.4 L713.0,821.5 L713.1,821.5 L713.2,821.6 L713.3,821.6 L713.4,821.6 L713.5,821.6 L713.6,821.6 L713.7,821.6 L713.8,821.6 L714.0,821.5 L714.1,821.5 L714.1,821.5 L714.2,821.4 L714.3,821.3 L714.4,821.3 L714.5,821.2 L714.5,821.1 L714.6,821.0 L714.8,820.5 L714.9,820.4 L715.0,820.3 L717.0,817.4 L717.2,817.2 L719.9,814.5 L720.1,814.2 L723.2,811.7 L723.5,811.6 L727.0,809.3 L727.3,809.2 L731.2,807.3 L731.4,807.2 L735.6,805.6 L735.9,805.5 L740.1,804.4 L740.5,804.3 L744.7,803.7 L745.1,803.6 L745.9,803.6 L746.0,803.6 L746.1,803.5 L746.2,803.5 L746.3,803.5 L746.4,803.4 L746.5,803.4 L746.6,803.3 L746.7,803.3 L746.8,803.2 L749.1,800.5 L749.1,800.4 L749.2,800.3 L749.2,800.2 L749.3,800.2 L749.3,800.1 L749.3,800.0 L749.3,799.9 L749.3,799.8 L749.3,799.7 L749.2,799.7 L749.2,799.6 L741.4,785.9 L741.3,785.8 L741.3,785.7 L741.2,785.6 L741.1,785.6 L741.0,785.5 L740.9,785.5 L740.8,785.4 L740.7,785.4 L740.6,785.4 L740.5,785.4 L740.4,785.4 L740.3,785.4 L718.4,787.0 L718.3,787.0 L718.1,787.0 L718.0,787.0 L717.9,787.1 L717.8,787.1 L717.8,787.2 L717.7,787.2 L717.6,787.3 L717.5,787.4 L717.5,787.5 L717.4,787.5 L717.4,787.6 L708.2,816.0 L708.2,816.1 L708.2,816.2 L708.2,816.3 L708.2,816.4 L708.2,816.5 L708.2,816.5 L708.3,816.6 L708.3,816.7 L708.4,816.8 L712.7,821.3 Z" fill="#c89a6c" opacity="0.55"/>
<path d="M680.2,751.3 L680.1,751.2 L679.9,751.1 L679.7,751.0 L679.5,750.9 L679.4,750.9 L679.2,750.9 L679.0,750.8 L678.8,750.9 L678.6,750.9 L678.4,750.9 L678.2,751.0 L678.0,751.1 L636.8,772.7 L636.7,772.8 L636.5,772.9 L636.4,773.0 L636.2,773.2 L636.1,773.4 L636.0,773.5 L635.9,773.7 L635.8,773.9 L635.8,774.1 L635.8,774.3 L635.8,774.5 L635.6,824.5 L635.6,824.7 L635.6,824.9 L635.7,825.0 L635.8,825.2 L635.8,825.4 L635.9,825.6 L636.1,825.7 L636.2,825.9 L636.3,826.0 L636.5,826.1 L636.6,826.2 L636.8,826.3 L637.0,826.4 L637.2,826.4 L688.3,837.3 L688.5,837.3 L688.7,837.3 L688.9,837.3 L689.1,837.3 L689.3,837.3 L689.5,837.2 L689.7,837.1 L689.9,837.0 L690.0,836.9 L690.2,836.7 L690.3,836.6 L690.4,836.4 L690.5,836.2 L690.6,836.0 L690.7,835.9 L706.8,775.1 L706.8,774.9 L706.9,774.7 L706.9,774.5 L706.8,774.3 L706.8,774.1 L706.8,773.9 L706.7,773.8 L706.6,773.6 L706.5,773.4 L706.4,773.3 L706.3,773.1 L706.1,773.0 L680.2,751.3 Z" fill="#a87450" stroke="#2a2018" stroke-width="3" stroke-linejoin="round"/>
<path d="M670.4,770.4 L670.3,770.4 L670.2,770.3 L670.1,770.3 L670.0,770.3 L669.9,770.2 L669.8,770.2 L669.7,770.2 L669.6,770.2 L669.5,770.2 L669.4,770.3 L669.3,770.3 L669.2,770.3 L646.5,780.1 L646.4,780.1 L646.3,780.2 L646.3,780.2 L646.2,780.3 L646.1,780.3 L646.1,780.4 L646.0,780.5 L646.0,780.6 L645.9,780.7 L645.9,780.8 L645.9,780.8 L645.8,803.3 L645.8,803.4 L645.9,803.5 L645.9,803.6 L645.9,803.7 L646.0,803.8 L646.0,803.8 L646.1,803.9 L646.2,804.0 L646.2,804.0 L646.3,804.1 L646.4,804.1 L646.5,804.2 L646.6,804.2 L646.7,804.2 L674.8,809.1 L674.9,809.1 L675.0,809.1 L675.2,809.1 L675.3,809.1 L675.4,809.1 L675.5,809.1 L675.6,809.0 L675.7,809.0 L675.8,808.9 L675.8,808.9 L675.9,808.8 L676.0,808.7 L676.0,808.6 L676.1,808.6 L676.1,808.5 L685.0,781.1 L685.0,781.0 L685.0,780.9 L685.0,780.9 L685.0,780.8 L685.0,780.7 L685.0,780.6 L684.9,780.5 L684.9,780.5 L684.8,780.4 L684.8,780.3 L684.7,780.3 L684.6,780.2 L670.4,770.4 Z" fill="#c89a6c" opacity="0.55"/>
<path d="M805.2,819.8 L805.0,819.7 L804.8,819.7 L804.6,819.7 L804.4,819.7 L804.3,819.7 L804.1,819.7 L803.9,819.8 L803.7,819.9 L803.5,820.0 L803.4,820.1 L803.2,820.2 L803.1,820.3 L802.9,820.5 L802.8,820.6 L802.7,820.8 L802.7,821.0 L802.6,821.2 L802.6,821.3 L802.5,821.5 L802.5,821.7 L802.5,821.9 L802.6,822.1 L802.6,822.3 L802.7,822.5 L802.8,822.7 L802.9,822.8 L803.0,823.0 L803.1,823.1 L806.1,826.0 L806.5,826.3 L806.7,826.7 L810.1,831.7 L810.3,832.1 L810.5,832.5 L812.7,838.1 L812.9,838.5 L813.0,839.0 L814.0,845.0 L814.0,845.5 L814.0,845.9 L813.8,852.3 L813.7,852.7 L813.7,853.1 L812.8,857.2 L812.7,857.4 L812.7,857.6 L812.7,857.8 L812.7,858.0 L812.8,858.2 L812.9,858.4 L812.9,858.6 L813.0,858.8 L813.2,858.9 L813.3,859.1 L813.4,859.2 L813.6,859.3 L813.8,859.4 L813.9,859.5 L814.1,859.6 L814.3,859.6 L814.5,859.7 L814.7,859.7 L814.9,859.7 L815.1,859.6 L815.3,859.6 L815.5,859.5 L837.2,850.3 L837.4,850.2 L837.6,850.1 L837.7,850.0 L837.9,849.8 L838.0,849.7 L838.1,849.5 L838.2,849.4 L838.3,849.2 L838.4,849.0 L838.4,848.8 L838.4,848.6 L838.4,848.5 L838.4,848.3 L837.1,832.6 L837.1,832.4 L837.1,832.2 L837.0,832.0 L836.9,831.8 L836.9,831.7 L836.7,831.5 L836.6,831.4 L836.5,831.2 L836.3,831.1 L836.2,831.0 L836.0,830.9 L835.8,830.8 L805.2,819.8 Z" fill="#ac7a4e" stroke="#2a2018" stroke-width="3" stroke-linejoin="round"/>
<path d="M808.0,825.6 L807.9,825.6 L807.8,825.6 L807.7,825.6 L807.6,825.6 L807.5,825.6 L807.4,825.6 L807.3,825.6 L807.2,825.7 L807.1,825.7 L807.0,825.8 L806.9,825.8 L806.8,825.9 L806.7,825.9 L806.7,826.0 L806.6,826.1 L806.6,826.2 L806.6,826.3 L806.5,826.3 L806.5,826.4 L806.5,826.5 L806.5,826.6 L806.5,826.7 L806.6,826.8 L806.6,826.9 L806.7,826.9 L806.7,827.0 L806.8,827.1 L806.9,827.1 L808.5,828.4 L808.7,828.6 L808.8,828.8 L810.7,831.0 L810.8,831.2 L810.9,831.4 L812.1,833.9 L812.2,834.1 L812.3,834.3 L812.8,837.0 L812.8,837.2 L812.8,837.4 L812.7,840.3 L812.7,840.4 L812.6,840.6 L812.1,842.5 L812.1,842.6 L812.1,842.7 L812.1,842.8 L812.1,842.8 L812.2,842.9 L812.2,843.0 L812.2,843.1 L812.3,843.2 L812.4,843.2 L812.4,843.3 L812.5,843.4 L812.6,843.4 L812.7,843.5 L812.8,843.5 L812.9,843.5 L813.0,843.6 L813.1,843.6 L813.2,843.6 L813.3,843.6 L813.4,843.6 L813.5,843.5 L813.6,843.5 L825.6,839.4 L825.7,839.3 L825.8,839.3 L825.9,839.2 L825.9,839.2 L826.0,839.1 L826.1,839.0 L826.1,839.0 L826.2,838.9 L826.2,838.8 L826.2,838.7 L826.3,838.6 L826.3,838.5 L826.3,838.4 L825.6,831.4 L825.5,831.3 L825.5,831.2 L825.5,831.1 L825.4,831.1 L825.4,831.0 L825.3,830.9 L825.3,830.8 L825.2,830.8 L825.1,830.7 L825.0,830.7 L824.9,830.6 L824.8,830.6 L808.0,825.6 Z" fill="#c89a6c" opacity="0.55"/>
<path d="M991.6,586.4 L991.5,586.5 L991.3,586.6 L991.2,586.8 L991.0,586.9 L990.9,587.1 L990.8,587.2 L990.7,587.4 L990.7,587.6 L990.6,587.8 L990.6,588.0 L990.6,588.1 L990.6,588.3 L990.6,588.5 L990.6,588.7 L990.7,588.9 L990.8,589.1 L990.9,589.3 L991.0,589.4 L991.1,589.6 L991.3,589.7 L991.4,589.8 L991.6,589.9 L991.7,590.0 L991.9,590.1 L992.1,590.1 L992.3,590.2 L992.5,590.2 L992.7,590.2 L992.9,590.2 L993.1,590.1 L1004.2,587.3 L1004.7,587.2 L1026.0,584.2 L1026.5,584.2 L1034.0,584.0 L1034.2,584.0 L1034.4,583.9 L1034.6,583.9 L1034.8,583.8 L1035.0,583.7 L1035.1,583.6 L1035.3,583.5 L1035.4,583.4 L1035.6,583.3 L1035.7,583.1 L1035.8,582.9 L1035.9,582.8 L1035.9,582.6 L1036.0,582.4 L1036.0,582.2 L1036.0,582.0 L1036.1,574.8 L1036.1,574.6 L1036.0,574.4 L1036.0,574.2 L1035.9,574.1 L1035.9,573.9 L1035.8,573.7 L1035.7,573.6 L1035.5,573.4 L1035.4,573.3 L1035.2,573.2 L1035.1,573.1 L1034.9,573.0 L1034.7,572.9 L1034.5,572.8 L1034.4,572.8 L1034.2,572.8 L1034.0,572.8 L1033.8,572.8 L1033.6,572.8 L1003.1,580.5 L1002.9,580.5 L1002.7,580.6 L991.6,586.4 Z" fill="#b27e54" stroke="#2a2018" stroke-width="3" stroke-linejoin="round"/>
<path d="M997.8,578.8 L997.7,578.8 L997.6,578.9 L997.6,578.9 L997.5,579.0 L997.4,579.1 L997.4,579.1 L997.3,579.2 L997.3,579.3 L997.3,579.4 L997.2,579.5 L997.2,579.6 L997.2,579.7 L997.3,579.7 L997.3,579.8 L997.3,579.9 L997.3,580.0 L997.4,580.1 L997.5,580.1 L997.5,580.2 L997.6,580.3 L997.7,580.3 L997.8,580.4 L997.9,580.4 L998.0,580.4 L998.1,580.5 L998.2,580.5 L998.3,580.5 L998.4,580.5 L998.5,580.5 L998.6,580.5 L1004.7,579.2 L1005.0,579.1 L1016.7,577.8 L1017.0,577.8 L1021.1,577.7 L1021.3,577.7 L1021.4,577.7 L1021.5,577.7 L1021.6,577.6 L1021.7,577.6 L1021.7,577.5 L1021.8,577.5 L1021.9,577.4 L1022.0,577.4 L1022.0,577.3 L1022.1,577.2 L1022.1,577.1 L1022.2,577.1 L1022.2,577.0 L1022.2,576.9 L1022.2,576.8 L1022.3,573.6 L1022.3,573.5 L1022.2,573.4 L1022.2,573.3 L1022.2,573.2 L1022.1,573.1 L1022.1,573.1 L1022.0,573.0 L1022.0,572.9 L1021.9,572.9 L1021.8,572.8 L1021.7,572.8 L1021.6,572.7 L1021.5,572.7 L1021.4,572.7 L1021.3,572.7 L1021.2,572.7 L1021.1,572.7 L1021.0,572.7 L1020.9,572.7 L1004.1,576.1 L1004.0,576.1 L1003.9,576.2 L997.8,578.8 Z" fill="#c89a6c" opacity="0.55"/>
<path d="M833.7,735.5 L833.9,735.6 L834.1,735.7 L834.3,735.7 L834.5,735.7 L834.7,735.7 L834.8,735.7 L835.0,735.6 L835.2,735.6 L835.4,735.5 L835.6,735.4 L835.7,735.3 L835.9,735.2 L836.0,735.0 L836.1,734.9 L836.2,734.7 L836.3,734.5 L836.4,734.4 L836.5,734.2 L836.5,734.0 L838.4,719.8 L838.5,719.4 L838.6,718.9 L844.1,702.8 L844.3,702.4 L844.4,702.1 L853.2,685.7 L853.5,685.1 L865.3,668.8 L865.7,668.4 L873.6,659.8 L873.7,659.7 L873.8,659.5 L873.9,659.3 L874.0,659.1 L874.0,659.0 L874.1,658.8 L874.1,658.6 L874.1,658.4 L874.1,658.2 L874.0,658.0 L874.0,657.8 L873.9,657.6 L871.4,652.0 L871.3,651.8 L871.2,651.6 L871.0,651.5 L870.9,651.3 L870.8,651.2 L870.6,651.1 L870.4,651.0 L870.3,650.9 L870.1,650.9 L869.9,650.8 L869.7,650.8 L869.5,650.8 L869.3,650.8 L869.1,650.8 L869.0,650.9 L868.8,650.9 L868.6,651.0 L787.6,693.6 L787.4,693.7 L787.3,693.8 L787.1,693.9 L787.0,694.0 L786.9,694.2 L786.8,694.4 L786.7,694.5 L786.6,694.7 L786.6,694.9 L786.5,695.1 L786.5,695.3 L786.5,695.5 L786.5,695.7 L786.6,695.8 L791.9,716.0 L792.0,716.2 L792.0,716.3 L792.1,716.5 L792.3,716.7 L792.4,716.8 L792.5,717.0 L792.7,717.1 L792.8,717.2 L793.0,717.3 L833.7,735.5 Z" fill="#a87450" stroke="#2a2018" stroke-width="3" stroke-linejoin="round"/>
<path d="M825.9,708.2 L826.0,708.3 L826.1,708.3 L826.2,708.3 L826.3,708.3 L826.4,708.3 L826.5,708.3 L826.6,708.3 L826.7,708.3 L826.8,708.2 L826.9,708.2 L827.0,708.1 L827.1,708.1 L827.1,708.0 L827.2,707.9 L827.3,707.9 L827.3,707.8 L827.3,707.7 L827.4,707.6 L827.4,707.5 L828.5,701.1 L828.5,701.0 L828.6,700.8 L831.6,693.5 L831.7,693.3 L831.8,693.2 L836.6,685.8 L836.8,685.5 L843.2,678.2 L843.4,678.0 L847.8,674.2 L847.9,674.1 L847.9,674.0 L848.0,673.9 L848.0,673.9 L848.0,673.8 L848.1,673.7 L848.1,673.6 L848.1,673.5 L848.1,673.4 L848.0,673.3 L848.0,673.3 L848.0,673.2 L846.6,670.6 L846.5,670.5 L846.5,670.5 L846.4,670.4 L846.3,670.3 L846.2,670.3 L846.2,670.2 L846.1,670.2 L846.0,670.2 L845.9,670.1 L845.8,670.1 L845.7,670.1 L845.6,670.1 L845.5,670.1 L845.4,670.1 L845.3,670.1 L845.2,670.2 L845.1,670.2 L800.5,689.3 L800.4,689.4 L800.3,689.4 L800.2,689.5 L800.2,689.6 L800.1,689.6 L800.0,689.7 L800.0,689.8 L800.0,689.9 L799.9,689.9 L799.9,690.0 L799.9,690.1 L799.9,690.2 L799.9,690.3 L799.9,690.4 L802.9,699.4 L802.9,699.5 L802.9,699.6 L803.0,699.7 L803.1,699.7 L803.1,699.8 L803.2,699.9 L803.3,699.9 L803.4,700.0 L803.5,700.0 L825.9,708.2 Z" fill="#c89a6c" opacity="0.55"/>
<path d="M837.8,823.0 L838.0,823.1 L838.2,823.1 L838.4,823.2 L838.6,823.2 L838.8,823.1 L839.0,823.1 L839.2,823.0 L839.4,822.9 L839.5,822.8 L839.7,822.7 L839.9,822.6 L840.0,822.4 L840.1,822.3 L862.6,789.2 L862.7,789.0 L862.8,788.8 L862.8,788.6 L862.9,788.5 L862.9,788.3 L862.9,788.1 L862.9,787.9 L862.9,787.7 L862.9,787.5 L862.8,787.3 L862.7,787.1 L862.6,787.0 L862.5,786.8 L862.4,786.6 L862.2,786.5 L851.9,777.9 L851.7,777.7 L851.4,777.4 L851.2,777.1 L843.2,765.8 L842.9,765.5 L842.8,765.2 L842.6,764.8 L837.9,751.8 L837.8,751.4 L837.7,751.1 L837.6,750.7 L837.3,747.0 L837.3,746.8 L837.2,746.7 L837.2,746.5 L837.1,746.3 L837.0,746.1 L836.9,746.0 L836.8,745.8 L836.6,745.7 L836.5,745.6 L836.3,745.5 L836.1,745.4 L792.0,725.6 L791.8,725.5 L791.6,725.5 L791.4,725.4 L791.3,725.4 L791.1,725.4 L790.9,725.4 L790.7,725.5 L790.5,725.5 L790.3,725.6 L790.1,725.7 L790.0,725.8 L789.8,725.9 L789.7,726.1 L789.6,726.2 L789.5,726.4 L765.0,767.4 L764.9,767.6 L764.8,767.8 L764.8,767.9 L764.7,768.1 L764.7,768.3 L764.7,768.5 L764.7,768.7 L764.7,768.9 L764.8,769.1 L764.9,769.3 L779.9,801.5 L780.0,801.7 L780.1,801.9 L780.2,802.0 L780.4,802.2 L780.5,802.3 L780.7,802.4 L780.8,802.5 L781.0,802.6 L837.8,823.0 Z" fill="#b27e54" stroke="#2a2018" stroke-width="3" stroke-linejoin="round"/>
<path d="M821.1,792.2 L821.2,792.2 L821.3,792.3 L821.4,792.3 L821.5,792.3 L821.6,792.3 L821.8,792.2 L821.9,792.2 L822.0,792.2 L822.1,792.1 L822.1,792.1 L822.2,792.0 L822.3,792.0 L822.4,791.9 L834.7,777.0 L834.8,776.9 L834.8,776.8 L834.9,776.7 L834.9,776.7 L834.9,776.6 L834.9,776.5 L834.9,776.4 L834.9,776.3 L834.9,776.2 L834.8,776.1 L834.8,776.1 L834.7,776.0 L834.7,775.9 L834.6,775.8 L834.5,775.8 L828.9,771.9 L828.7,771.8 L828.6,771.7 L828.5,771.5 L824.0,766.5 L823.9,766.3 L823.8,766.2 L823.7,766.0 L821.1,760.1 L821.1,760.0 L821.0,759.8 L821.0,759.7 L820.8,758.0 L820.8,757.9 L820.8,757.8 L820.7,757.8 L820.7,757.7 L820.7,757.6 L820.6,757.5 L820.5,757.5 L820.4,757.4 L820.4,757.4 L820.3,757.3 L820.2,757.3 L795.9,748.4 L795.8,748.3 L795.7,748.3 L795.6,748.3 L795.5,748.3 L795.4,748.3 L795.3,748.3 L795.2,748.3 L795.1,748.3 L795.0,748.4 L794.9,748.4 L794.8,748.5 L794.7,748.5 L794.6,748.6 L794.6,748.7 L794.5,748.7 L781.0,767.2 L781.0,767.3 L781.0,767.3 L780.9,767.4 L780.9,767.5 L780.9,767.6 L780.9,767.7 L780.9,767.8 L780.9,767.9 L780.9,767.9 L781.0,768.0 L789.3,782.5 L789.3,782.6 L789.4,782.7 L789.4,782.8 L789.5,782.8 L789.6,782.9 L789.7,782.9 L789.8,783.0 L789.9,783.0 L821.1,792.2 Z" fill="#c89a6c" opacity="0.55"/>
<path d="M872.4,792.1 L872.2,792.0 L872.0,791.9 L871.9,791.9 L871.7,791.9 L871.5,791.9 L871.3,791.9 L871.1,791.9 L870.9,791.9 L870.7,792.0 L870.6,792.1 L870.4,792.2 L870.2,792.3 L870.1,792.4 L870.0,792.6 L869.8,792.7 L845.3,828.9 L845.2,829.0 L845.1,829.2 L845.1,829.4 L845.0,829.6 L845.0,829.8 L845.0,830.0 L845.0,830.2 L846.6,850.5 L846.7,850.6 L846.7,850.8 L846.8,851.0 L846.8,851.2 L846.9,851.4 L852.2,859.8 L852.4,859.9 L852.5,860.1 L852.6,860.2 L852.8,860.3 L852.9,860.4 L853.1,860.5 L853.3,860.6 L853.5,860.6 L853.7,860.7 L853.9,860.7 L854.1,860.7 L854.3,860.7 L854.5,860.6 L854.7,860.5 L854.9,860.5 L931.8,820.4 L932.0,820.3 L932.2,820.2 L932.3,820.1 L932.5,819.9 L932.6,819.8 L932.7,819.6 L932.8,819.4 L932.8,819.2 L932.9,819.1 L932.9,818.9 L932.9,818.7 L932.9,818.5 L932.9,818.3 L932.8,818.1 L932.8,817.9 L932.7,817.7 L932.6,817.5 L932.5,817.4 L932.3,817.2 L932.2,817.1 L932.0,817.0 L909.1,801.7 L908.9,801.6 L908.8,801.5 L908.6,801.4 L908.4,801.4 L908.2,801.4 L895.8,799.9 L895.4,799.9 L895.1,799.8 L878.6,795.1 L878.2,795.0 L877.8,794.8 L872.4,792.1 Z" fill="#b88658" stroke="#2a2018" stroke-width="3" stroke-linejoin="round"/>
<path d="M871.4,804.7 L871.3,804.7 L871.2,804.6 L871.1,804.6 L871.0,804.6 L870.9,804.6 L870.8,804.6 L870.7,804.6 L870.6,804.6 L870.5,804.7 L870.4,804.7 L870.3,804.7 L870.3,804.8 L870.2,804.9 L870.1,804.9 L870.0,805.0 L856.5,821.3 L856.5,821.3 L856.4,821.4 L856.4,821.5 L856.4,821.6 L856.4,821.7 L856.4,821.7 L856.4,821.8 L857.3,831.0 L857.3,831.0 L857.3,831.1 L857.3,831.2 L857.4,831.3 L857.4,831.4 L860.4,835.1 L860.4,835.2 L860.5,835.3 L860.6,835.3 L860.7,835.4 L860.7,835.4 L860.8,835.5 L860.9,835.5 L861.1,835.5 L861.2,835.6 L861.3,835.6 L861.4,835.6 L861.5,835.5 L861.6,835.5 L861.7,835.5 L861.8,835.5 L904.1,817.4 L904.2,817.4 L904.3,817.3 L904.4,817.3 L904.5,817.2 L904.5,817.2 L904.6,817.1 L904.6,817.0 L904.7,816.9 L904.7,816.8 L904.7,816.7 L904.7,816.7 L904.7,816.6 L904.7,816.5 L904.7,816.4 L904.6,816.3 L904.6,816.2 L904.5,816.1 L904.5,816.1 L904.4,816.0 L904.3,816.0 L904.2,815.9 L891.6,809.0 L891.5,809.0 L891.4,808.9 L891.4,808.9 L891.3,808.9 L891.1,808.9 L884.3,808.2 L884.1,808.2 L883.9,808.2 L874.9,806.1 L874.6,806.0 L874.4,805.9 L871.4,804.7 Z" fill="#c89a6c" opacity="0.55"/>
<path d="M930.2,801.7 L930.0,801.8 L929.8,801.8 L929.6,801.8 L929.4,801.9 L929.2,802.0 L929.1,802.1 L928.9,802.2 L928.8,802.4 L928.6,802.5 L928.5,802.7 L928.4,802.8 L928.4,803.0 L928.3,803.2 L928.2,803.4 L928.2,803.6 L928.2,803.8 L928.2,804.0 L928.3,804.2 L928.3,804.3 L928.4,804.5 L928.5,804.7 L928.6,804.9 L928.7,805.0 L928.8,805.2 L928.9,805.3 L929.1,805.4 L942.0,814.0 L942.1,814.1 L942.3,814.2 L942.5,814.2 L942.7,814.3 L942.9,814.3 L943.1,814.3 L943.3,814.3 L943.4,814.3 L943.6,814.3 L943.8,814.2 L944.0,814.1 L974.5,798.2 L974.7,798.1 L974.9,798.0 L975.0,797.9 L975.2,797.7 L975.3,797.6 L975.4,797.4 L975.5,797.2 L975.5,797.1 L975.6,796.9 L975.6,796.7 L975.6,796.5 L975.6,796.3 L975.6,796.1 L975.6,795.9 L975.5,795.7 L975.4,795.6 L975.3,795.4 L975.2,795.2 L975.1,795.1 L974.9,794.9 L974.8,794.8 L974.6,794.7 L974.5,794.6 L974.3,794.6 L974.1,794.5 L973.9,794.5 L973.7,794.4 L973.5,794.4 L973.3,794.5 L973.1,794.5 L957.4,798.5 L956.9,798.6 L935.6,801.6 L935.0,801.6 L930.2,801.7 Z" fill="#9c6a46" stroke="#2a2018" stroke-width="3" stroke-linejoin="round"/>
<path d="M934.2,798.0 L934.1,798.0 L934.0,798.0 L933.9,798.0 L933.8,798.1 L933.7,798.1 L933.6,798.2 L933.5,798.2 L933.4,798.3 L933.3,798.3 L933.3,798.4 L933.2,798.5 L933.2,798.6 L933.1,798.7 L933.1,798.7 L933.1,798.8 L933.1,798.9 L933.1,799.0 L933.1,799.1 L933.2,799.2 L933.2,799.3 L933.2,799.3 L933.3,799.4 L933.4,799.5 L933.4,799.5 L933.5,799.6 L933.6,799.7 L940.7,803.5 L940.8,803.6 L940.9,803.6 L941.0,803.6 L941.1,803.6 L941.2,803.7 L941.3,803.7 L941.4,803.7 L941.5,803.7 L941.6,803.6 L941.7,803.6 L941.8,803.6 L958.6,796.4 L958.7,796.4 L958.8,796.3 L958.8,796.3 L958.9,796.2 L959.0,796.1 L959.0,796.1 L959.1,796.0 L959.1,795.9 L959.2,795.8 L959.2,795.7 L959.2,795.6 L959.2,795.6 L959.2,795.5 L959.1,795.4 L959.1,795.3 L959.1,795.2 L959.0,795.1 L959.0,795.1 L958.9,795.0 L958.8,794.9 L958.7,794.9 L958.6,794.8 L958.5,794.8 L958.4,794.8 L958.3,794.7 L958.2,794.7 L958.1,794.7 L958.0,794.7 L957.9,794.7 L957.8,794.7 L949.1,796.5 L948.9,796.6 L937.2,797.9 L936.9,798.0 L934.2,798.0 Z" fill="#c89a6c" opacity="0.55"/>
<path d="M1072.4,743.8 L1072.5,744.0 L1072.6,744.2 L1072.7,744.4 L1072.8,744.5 L1072.9,744.7 L1073.0,744.8 L1073.2,745.0 L1073.4,745.1 L1073.6,745.1 L1073.7,745.2 L1073.9,745.3 L1074.1,745.3 L1074.3,745.3 L1074.5,745.3 L1074.7,745.3 L1074.9,745.2 L1075.1,745.1 L1075.3,745.1 L1119.0,721.1 L1119.2,721.0 L1119.3,720.9 L1119.5,720.8 L1119.6,720.7 L1119.7,720.5 L1136.5,695.7 L1136.6,695.5 L1136.7,695.3 L1136.8,695.1 L1136.8,694.9 L1136.9,694.8 L1136.9,694.6 L1136.9,694.4 L1136.8,694.2 L1136.8,694.0 L1136.7,693.8 L1136.6,693.6 L1136.5,693.5 L1136.4,693.3 L1136.3,693.2 L1136.2,693.0 L1121.3,680.2 L1121.2,680.1 L1121.0,680.0 L1120.8,679.9 L1120.6,679.9 L1120.4,679.8 L1120.2,679.8 L1120.1,679.8 L1119.9,679.8 L1119.7,679.8 L1119.5,679.8 L1119.3,679.9 L1119.1,680.0 L1118.9,680.1 L1118.8,680.2 L1118.6,680.3 L1118.5,680.4 L1118.4,680.6 L1118.3,680.8 L1118.2,680.9 L1118.1,681.1 L1117.5,683.0 L1117.3,683.4 L1117.2,683.7 L1108.4,700.1 L1108.1,700.7 L1096.3,717.0 L1095.9,717.4 L1081.4,733.2 L1081.0,733.6 L1072.7,740.8 L1072.6,741.0 L1072.5,741.1 L1072.3,741.3 L1072.3,741.5 L1072.2,741.7 L1072.1,741.8 L1072.1,742.0 L1072.1,742.2 L1072.1,742.5 L1072.1,742.7 L1072.1,742.9 L1072.4,743.8 Z" fill="#b27e54" stroke="#2a2018" stroke-width="3" stroke-linejoin="round"/>
<path d="M1084.3,721.1 L1084.3,721.2 L1084.3,721.3 L1084.4,721.4 L1084.5,721.5 L1084.5,721.5 L1084.6,721.6 L1084.7,721.6 L1084.8,721.7 L1084.9,721.7 L1085.0,721.8 L1085.1,721.8 L1085.2,721.8 L1085.3,721.8 L1085.4,721.8 L1085.5,721.8 L1085.6,721.8 L1085.8,721.7 L1085.9,721.7 L1109.9,710.9 L1110.0,710.9 L1110.1,710.8 L1110.2,710.8 L1110.2,710.7 L1110.3,710.6 L1119.5,699.5 L1119.6,699.4 L1119.6,699.3 L1119.7,699.2 L1119.7,699.1 L1119.7,699.1 L1119.7,699.0 L1119.7,698.9 L1119.7,698.8 L1119.7,698.7 L1119.6,698.6 L1119.6,698.5 L1119.5,698.5 L1119.5,698.4 L1119.4,698.3 L1119.3,698.3 L1111.2,692.5 L1111.1,692.5 L1111.0,692.4 L1110.9,692.4 L1110.8,692.4 L1110.7,692.3 L1110.6,692.3 L1110.5,692.3 L1110.4,692.3 L1110.3,692.3 L1110.2,692.3 L1110.1,692.4 L1110.0,692.4 L1109.9,692.4 L1109.8,692.5 L1109.7,692.6 L1109.6,692.6 L1109.5,692.7 L1109.5,692.8 L1109.4,692.8 L1109.4,692.9 L1109.0,693.8 L1109.0,693.9 L1108.9,694.1 L1104.1,701.5 L1103.9,701.7 L1097.4,709.1 L1097.2,709.3 L1089.2,716.4 L1089.0,716.5 L1084.4,719.8 L1084.4,719.8 L1084.3,719.9 L1084.2,720.0 L1084.2,720.1 L1084.1,720.2 L1084.1,720.2 L1084.1,720.3 L1084.1,720.4 L1084.1,720.5 L1084.1,720.6 L1084.1,720.7 L1084.3,721.1 Z" fill="#c89a6c" opacity="0.55"/>
<path d="M1118.8,620.6 L1118.9,620.8 L1119.0,621.0 L1119.1,621.1 L1119.2,621.3 L1119.4,621.4 L1119.5,621.5 L1119.7,621.6 L1119.9,621.7 L1120.1,621.8 L1120.2,621.8 L1120.4,621.9 L1120.6,621.9 L1120.8,621.9 L1121.0,621.9 L1121.2,621.8 L1121.4,621.7 L1121.6,621.7 L1121.7,621.6 L1121.9,621.5 L1122.0,621.3 L1122.2,621.2 L1122.3,621.1 L1122.4,620.9 L1123.1,619.7 L1123.2,619.6 L1123.2,619.4 L1123.3,619.2 L1123.3,619.0 L1123.3,618.8 L1123.3,618.6 L1123.3,618.4 L1123.3,618.3 L1123.2,618.1 L1123.2,617.9 L1123.1,617.7 L1123.0,617.6 L1106.7,594.4 L1106.6,594.2 L1106.4,594.1 L1106.3,593.9 L1106.1,593.8 L1069.9,572.9 L1069.7,572.8 L1069.5,572.8 L1069.3,572.7 L1069.1,572.7 L1068.9,572.7 L1046.1,572.8 L1045.9,572.8 L1045.7,572.8 L1045.5,572.9 L1045.3,572.9 L1045.1,573.0 L1045.0,573.1 L1044.8,573.2 L1044.7,573.4 L1044.5,573.5 L1044.4,573.7 L1044.3,573.8 L1044.2,574.0 L1044.2,574.2 L1044.1,574.4 L1044.1,574.6 L1044.1,574.8 L1044.0,581.7 L1044.0,581.9 L1044.0,582.1 L1044.1,582.3 L1044.2,582.5 L1044.2,582.7 L1044.3,582.8 L1044.5,583.0 L1044.6,583.1 L1044.8,583.3 L1044.9,583.4 L1045.1,583.5 L1045.3,583.6 L1045.5,583.6 L1045.7,583.7 L1045.9,583.7 L1046.1,583.7 L1046.6,583.7 L1047.3,583.7 L1065.8,585.9 L1066.2,585.9 L1066.5,586.0 L1083.0,590.7 L1083.4,590.8 L1083.8,591.0 L1097.7,598.0 L1098.1,598.3 L1098.5,598.6 L1109.7,607.9 L1109.9,608.1 L1110.2,608.4 L1110.4,608.7 L1118.4,620.0 L1118.6,620.3 L1118.8,620.6 L1118.8,620.6 Z" fill="#b88658" stroke="#2a2018" stroke-width="3" stroke-linejoin="round"/>
<path d="M1096.7,597.9 L1096.7,598.0 L1096.8,598.1 L1096.9,598.1 L1096.9,598.2 L1097.0,598.2 L1097.1,598.3 L1097.2,598.3 L1097.3,598.4 L1097.4,598.4 L1097.5,598.4 L1097.6,598.5 L1097.7,598.5 L1097.8,598.5 L1097.9,598.4 L1098.0,598.4 L1098.1,598.4 L1098.2,598.4 L1098.3,598.3 L1098.4,598.3 L1098.5,598.2 L1098.5,598.2 L1098.6,598.1 L1098.7,598.0 L1099.0,597.5 L1099.1,597.4 L1099.1,597.3 L1099.2,597.3 L1099.2,597.2 L1099.2,597.1 L1099.2,597.0 L1099.2,596.9 L1099.2,596.8 L1099.1,596.7 L1099.1,596.7 L1099.1,596.6 L1099.0,596.5 L1090.1,586.1 L1090.0,586.0 L1089.9,585.9 L1089.8,585.9 L1089.7,585.8 L1069.8,576.4 L1069.7,576.4 L1069.6,576.4 L1069.5,576.3 L1069.4,576.3 L1069.2,576.3 L1056.7,576.4 L1056.6,576.4 L1056.5,576.4 L1056.4,576.4 L1056.3,576.4 L1056.2,576.5 L1056.1,576.5 L1056.0,576.6 L1055.9,576.6 L1055.9,576.7 L1055.8,576.8 L1055.7,576.8 L1055.7,576.9 L1055.6,577.0 L1055.6,577.1 L1055.6,577.2 L1055.6,577.3 L1055.6,580.4 L1055.6,580.5 L1055.6,580.6 L1055.6,580.6 L1055.6,580.7 L1055.7,580.8 L1055.7,580.9 L1055.8,581.0 L1055.9,581.0 L1056.0,581.1 L1056.1,581.1 L1056.2,581.2 L1056.3,581.2 L1056.4,581.3 L1056.5,581.3 L1056.6,581.3 L1056.7,581.3 L1057.0,581.3 L1057.4,581.3 L1067.6,582.3 L1067.7,582.3 L1067.9,582.3 L1077.0,584.4 L1077.2,584.5 L1077.4,584.6 L1085.1,587.7 L1085.3,587.8 L1085.6,588.0 L1091.7,592.2 L1091.8,592.3 L1091.9,592.4 L1092.1,592.5 L1096.5,597.6 L1096.6,597.8 L1096.7,597.9 L1096.7,597.9 Z" fill="#c89a6c" opacity="0.55"/>
<path d="M1124.2,633.6 L1124.1,633.8 L1124.0,634.0 L1124.0,634.2 L1123.9,634.4 L1123.9,634.5 L1123.9,634.7 L1123.9,634.9 L1124.0,635.1 L1125.3,649.5 L1125.3,650.0 L1125.3,650.6 L1123.2,666.0 L1123.1,666.4 L1123.0,666.9 L1122.3,668.9 L1122.2,669.1 L1122.2,669.3 L1122.2,669.5 L1122.2,669.7 L1122.2,669.8 L1122.2,670.0 L1122.3,670.2 L1122.4,670.4 L1122.5,670.6 L1122.6,670.7 L1122.7,670.9 L1122.9,671.0 L1138.0,684.0 L1138.1,684.1 L1138.3,684.2 L1138.5,684.3 L1138.7,684.4 L1138.8,684.5 L1139.0,684.5 L1139.2,684.5 L1139.4,684.5 L1139.6,684.5 L1139.8,684.4 L1140.0,684.4 L1140.2,684.3 L1140.4,684.2 L1140.5,684.1 L1140.7,683.9 L1140.8,683.8 L1140.9,683.6 L1141.0,683.5 L1141.1,683.3 L1141.2,683.1 L1141.2,682.9 L1141.3,682.7 L1141.3,682.5 L1141.3,682.3 L1137.3,638.4 L1137.2,638.2 L1137.2,638.0 L1137.1,637.8 L1137.0,637.6 L1136.9,637.4 L1130.6,628.4 L1130.4,628.2 L1130.3,628.1 L1130.2,627.9 L1130.0,627.8 L1129.8,627.7 L1129.6,627.6 L1129.4,627.6 L1129.2,627.5 L1129.0,627.5 L1128.8,627.5 L1128.6,627.5 L1128.5,627.6 L1128.3,627.6 L1128.1,627.7 L1127.9,627.8 L1127.7,627.9 L1127.6,628.0 L1127.4,628.2 L1127.3,628.3 L1127.2,628.5 L1124.2,633.6 Z" fill="#b27e54" stroke="#2a2018" stroke-width="3" stroke-linejoin="round"/>
<path d="M1122.6,641.4 L1122.6,641.4 L1122.5,641.5 L1122.5,641.6 L1122.5,641.7 L1122.5,641.8 L1122.5,641.9 L1122.5,642.0 L1122.5,642.0 L1123.2,648.5 L1123.2,648.8 L1123.2,649.0 L1122.1,655.9 L1122.0,656.1 L1122.0,656.3 L1121.6,657.2 L1121.6,657.3 L1121.5,657.4 L1121.5,657.5 L1121.5,657.6 L1121.5,657.7 L1121.6,657.8 L1121.6,657.8 L1121.6,657.9 L1121.7,658.0 L1121.8,658.1 L1121.8,658.1 L1121.9,658.2 L1130.2,664.0 L1130.3,664.1 L1130.4,664.1 L1130.5,664.2 L1130.6,664.2 L1130.7,664.2 L1130.8,664.3 L1130.9,664.3 L1131.0,664.3 L1131.1,664.2 L1131.2,664.2 L1131.3,664.2 L1131.4,664.2 L1131.5,664.1 L1131.6,664.1 L1131.7,664.0 L1131.8,663.9 L1131.8,663.9 L1131.9,663.8 L1131.9,663.7 L1132.0,663.6 L1132.0,663.5 L1132.0,663.5 L1132.0,663.4 L1132.0,663.3 L1129.8,643.5 L1129.8,643.4 L1129.8,643.3 L1129.8,643.2 L1129.7,643.2 L1129.6,643.1 L1126.1,639.0 L1126.1,638.9 L1126.0,638.9 L1125.9,638.8 L1125.8,638.8 L1125.7,638.7 L1125.6,638.7 L1125.5,638.6 L1125.4,638.6 L1125.3,638.6 L1125.2,638.6 L1125.1,638.6 L1125.0,638.6 L1124.9,638.7 L1124.8,638.7 L1124.7,638.7 L1124.6,638.8 L1124.5,638.9 L1124.4,638.9 L1124.4,639.0 L1124.3,639.1 L1122.6,641.4 Z" fill="#c89a6c" opacity="0.55"/>
<path d="M570.5,914.6 Q633.3,888.2 679.8,860.8" stroke="#2a2018" stroke-width="19" stroke-linecap="round" fill="none"/>
<path d="M573.6,970.9 Q616.6,984.3 660.6,999.1" stroke="#2a2018" stroke-width="19" stroke-linecap="round" fill="none"/>
<path d="M492.2,1031.0 Q479.6,1066.8 462.8,1119.4" stroke="#2a2018" stroke-width="19" stroke-linecap="round" fill="none"/>
<path d="M447.8,1036.1 Q413.1,1072.8 367.5,1117.7" stroke="#2a2018" stroke-width="19" stroke-linecap="round" fill="none"/>
<path d="M408.4,977.1 Q350.9,973.1 311.8,961.4" stroke="#2a2018" stroke-width="19" stroke-linecap="round" fill="none"/>
<path d="M459.2,923.0 Q449.5,893.2 442.8,845.7" stroke="#2a2018" stroke-width="19" stroke-linecap="round" fill="none"/>
<path d="M544.5,903.0 Q575.7,861.2 630.5,824.2" stroke="#2a2018" stroke-width="19" stroke-linecap="round" fill="none"/>
<path d="M570.5,914.6 Q633.3,888.2 679.8,860.8" stroke="#6e8898" stroke-width="13" stroke-linecap="round" fill="none"/>
<path d="M573.6,970.9 Q616.6,984.3 660.6,999.1" stroke="#6e8898" stroke-width="13" stroke-linecap="round" fill="none"/>
<path d="M492.2,1031.0 Q479.6,1066.8 462.8,1119.4" stroke="#6e8898" stroke-width="13" stroke-linecap="round" fill="none"/>
<path d="M447.8,1036.1 Q413.1,1072.8 367.5,1117.7" stroke="#6e8898" stroke-width="13" stroke-linecap="round" fill="none"/>
<path d="M408.4,977.1 Q350.9,973.1 311.8,961.4" stroke="#6e8898" stroke-width="13" stroke-linecap="round" fill="none"/>
<path d="M459.2,923.0 Q449.5,893.2 442.8,845.7" stroke="#6e8898" stroke-width="13" stroke-linecap="round" fill="none"/>
<path d="M544.5,903.0 Q575.7,861.2 630.5,824.2" stroke="#6e8898" stroke-width="13" stroke-linecap="round" fill="none"/>
<path d="M609.5,908.2 C612.7,911.5 615.5,915.0 617.3,919.0 C619.1,922.9 620.2,927.2 620.3,931.9 C620.3,936.5 619.4,941.6 617.6,946.8 C615.9,952.0 613.0,957.7 609.7,963.3 C606.3,968.8 601.9,974.7 597.3,980.3 C592.7,985.9 587.4,991.6 582.0,996.9 C576.6,1002.2 570.9,1007.4 565.1,1012.1 C559.3,1016.9 553.3,1021.3 547.3,1025.4 C541.2,1029.4 535.0,1033.1 528.7,1036.4 C522.3,1039.8 515.8,1042.8 509.0,1045.5 C502.2,1048.2 495.2,1050.5 488.0,1052.6 C480.8,1054.7 473.3,1056.5 465.9,1057.9 C458.4,1059.3 450.7,1060.5 443.5,1061.1 C436.3,1061.7 429.0,1061.9 422.4,1061.5 C415.9,1061.2 409.7,1060.3 404.4,1058.8 C399.1,1057.3 394.4,1055.1 390.6,1052.5 C386.8,1049.8 383.9,1046.4 381.6,1042.7 C379.4,1039.0 378.1,1034.6 377.2,1030.1 C376.3,1025.6 376.1,1020.7 376.2,1015.7 C376.3,1010.8 377.0,1005.6 377.8,1000.5 C378.6,995.4 379.7,990.2 381.1,985.2 C382.5,980.1 384.1,975.1 386.3,970.2 C388.4,965.3 390.8,960.4 393.8,955.6 C396.9,950.8 400.4,946.1 404.7,941.4 C408.9,936.7 413.8,932.0 419.2,927.4 C424.7,922.8 430.9,918.3 437.3,914.0 C443.8,909.8 450.9,905.6 458.0,901.9 C465.1,898.1 472.6,894.6 479.8,891.7 C486.9,888.8 494.2,886.3 501.1,884.4 C507.9,882.5 514.6,881.2 520.8,880.4 C527.1,879.6 533.0,879.4 538.7,879.6 C544.4,879.8 549.7,880.6 555.0,881.6 C560.3,882.7 565.3,884.2 570.2,885.9 C575.2,887.6 580.1,889.6 584.7,891.8 C589.4,894.0 594.0,896.5 598.2,899.2 C602.3,901.9 606.3,904.9 609.5,908.2 Z" fill="#6e8898" stroke="#2a2018" stroke-width="3" stroke-linejoin="round" stroke-linecap="round" />
<path d="M581.2,923.0 C583.5,927.4 584.8,932.4 585.0,937.7 C585.3,942.9 584.5,948.7 582.7,954.4 C580.8,960.2 577.9,966.3 574.2,972.2 C570.4,978.1 565.6,984.2 560.2,989.8 C554.8,995.4 548.4,1001.0 541.7,1006.0 C534.9,1010.9 527.4,1015.6 519.8,1019.6 C512.3,1023.6 504.1,1027.1 496.2,1029.8 C488.3,1032.5 480.1,1034.6 472.4,1035.9 C464.7,1037.2 456.9,1037.7 450.0,1037.4 C443.0,1037.2 436.3,1036.1 430.5,1034.3 C424.8,1032.5 419.5,1029.9 415.4,1026.8 C411.2,1023.6 407.8,1019.6 405.5,1015.3 C403.2,1010.9 401.9,1005.9 401.6,1000.6 C401.4,995.4 402.2,989.6 404.0,983.8 C405.8,978.1 408.8,972.0 412.5,966.1 C416.2,960.2 421.1,954.1 426.5,948.5 C431.9,942.9 438.3,937.3 445.0,932.3 C451.7,927.4 459.3,922.7 466.8,918.7 C474.4,914.7 482.6,911.2 490.5,908.5 C498.4,905.8 506.6,903.7 514.3,902.4 C522.0,901.1 529.7,900.6 536.7,900.9 C543.7,901.1 550.4,902.2 556.2,904.0 C561.9,905.8 567.2,908.4 571.3,911.5 C575.5,914.7 578.9,918.7 581.2,923.0 Z" fill="#7892a2" />
<path d="M404.4,989.0 C402.7,981.9 412.7,956.1 419.5,948.9 C426.3,941.8 443.5,939.0 445.1,946.2 C446.8,953.3 436.2,984.8 429.4,992.0 C422.6,999.1 406.0,996.2 404.4,989.0 Z" fill="#98b2c0" />
<path d="M1062.9,639.2 Q1125.4,603.8 1177.1,587.7" stroke="#2a2018" stroke-width="19" stroke-linecap="round" fill="none"/>
<path d="M1049.5,712.3 Q1073.1,737.5 1115.2,762.1" stroke="#2a2018" stroke-width="19" stroke-linecap="round" fill="none"/>
<path d="M960.1,760.1 Q929.2,810.0 906.5,850.5" stroke="#2a2018" stroke-width="19" stroke-linecap="round" fill="none"/>
<path d="M915.0,757.1 Q863.4,793.4 813.6,828.9" stroke="#2a2018" stroke-width="19" stroke-linecap="round" fill="none"/>
<path d="M889.2,724.0 Q834.9,723.0 775.1,739.8" stroke="#2a2018" stroke-width="19" stroke-linecap="round" fill="none"/>
<path d="M923.1,662.8 Q888.5,633.2 874.3,601.1" stroke="#2a2018" stroke-width="19" stroke-linecap="round" fill="none"/>
<path d="M1009.7,624.7 Q1047.5,574.6 1072.8,535.4" stroke="#2a2018" stroke-width="19" stroke-linecap="round" fill="none"/>
<path d="M1062.9,639.2 Q1125.4,603.8 1177.1,587.7" stroke="#6e8898" stroke-width="13" stroke-linecap="round" fill="none"/>
<path d="M1049.5,712.3 Q1073.1,737.5 1115.2,762.1" stroke="#6e8898" stroke-width="13" stroke-linecap="round" fill="none"/>
<path d="M960.1,760.1 Q929.2,810.0 906.5,850.5" stroke="#6e8898" stroke-width="13" stroke-linecap="round" fill="none"/>
<path d="M915.0,757.1 Q863.4,793.4 813.6,828.9" stroke="#6e8898" stroke-width="13" stroke-linecap="round" fill="none"/>
<path d="M889.2,724.0 Q834.9,723.0 775.1,739.8" stroke="#6e8898" stroke-width="13" stroke-linecap="round" fill="none"/>
<path d="M923.1,662.8 Q888.5,633.2 874.3,601.1" stroke="#6e8898" stroke-width="13" stroke-linecap="round" fill="none"/>
<path d="M1009.7,624.7 Q1047.5,574.6 1072.8,535.4" stroke="#6e8898" stroke-width="13" stroke-linecap="round" fill="none"/>
<path d="M1100.6,630.0 C1103.8,633.3 1106.7,636.9 1108.5,640.9 C1110.3,644.9 1111.4,649.3 1111.4,654.0 C1111.4,658.7 1110.5,663.8 1108.6,669.2 C1106.8,674.5 1103.8,680.2 1100.3,685.9 C1096.8,691.6 1092.2,697.6 1087.5,703.3 C1082.7,709.1 1077.2,714.9 1071.6,720.3 C1066.0,725.8 1060.1,731.1 1054.1,735.9 C1048.1,740.8 1041.9,745.4 1035.7,749.5 C1029.4,753.7 1023.1,757.4 1016.5,760.9 C1009.9,764.3 1003.2,767.4 996.2,770.2 C989.2,773.0 982.0,775.5 974.6,777.7 C967.2,779.8 959.4,781.7 951.8,783.2 C944.2,784.7 936.3,786.0 928.8,786.6 C921.4,787.3 913.9,787.6 907.2,787.3 C900.5,787.0 894.1,786.1 888.7,784.6 C883.2,783.1 878.5,781.0 874.6,778.3 C870.7,775.6 867.7,772.3 865.5,768.5 C863.2,764.7 861.9,760.3 861.0,755.8 C860.1,751.2 860.0,746.2 860.2,741.2 C860.3,736.2 861.0,730.9 861.9,725.7 C862.7,720.5 863.9,715.2 865.4,710.1 C866.9,705.0 868.6,699.9 870.8,694.9 C873.1,689.9 875.6,684.9 878.8,680.0 C881.9,675.1 885.6,670.3 890.0,665.5 C894.4,660.6 899.4,655.8 905.0,651.2 C910.7,646.5 917.1,641.8 923.8,637.4 C930.4,633.0 937.8,628.7 945.1,624.9 C952.4,621.1 960.1,617.5 967.5,614.4 C974.9,611.4 982.4,608.8 989.4,606.8 C996.5,604.9 1003.3,603.4 1009.8,602.6 C1016.2,601.7 1022.3,601.4 1028.1,601.6 C1034.0,601.8 1039.5,602.5 1044.8,603.5 C1050.2,604.5 1055.4,606.0 1060.5,607.7 C1065.5,609.4 1070.5,611.4 1075.3,613.6 C1080.1,615.8 1084.8,618.3 1089.0,621.0 C1093.2,623.7 1097.3,626.7 1100.6,630.0 Z" fill="#6e8898" stroke="#2a2018" stroke-width="3" stroke-linejoin="round" stroke-linecap="round" />
<path d="M1071.4,645.3 C1073.7,649.7 1075.0,654.9 1075.2,660.2 C1075.4,665.5 1074.5,671.4 1072.6,677.2 C1070.7,683.1 1067.7,689.3 1063.8,695.3 C1059.9,701.3 1054.9,707.5 1049.3,713.3 C1043.7,719.0 1037.0,724.8 1030.1,729.9 C1023.1,735.0 1015.4,739.8 1007.6,743.9 C999.8,748.0 991.4,751.6 983.2,754.5 C975.1,757.3 966.6,759.5 958.7,760.8 C950.8,762.2 942.8,762.8 935.7,762.6 C928.5,762.4 921.6,761.3 915.7,759.6 C909.8,757.8 904.5,755.2 900.2,752.0 C896.0,748.8 892.5,744.9 890.2,740.5 C887.9,736.1 886.6,730.9 886.4,725.6 C886.2,720.3 887.1,714.4 889.0,708.6 C890.9,702.7 893.9,696.5 897.8,690.5 C901.7,684.5 906.7,678.3 912.3,672.5 C917.9,666.8 924.5,661.0 931.5,655.9 C938.4,650.8 946.2,646.0 954.0,641.9 C961.8,637.8 970.2,634.2 978.4,631.3 C986.5,628.5 995.0,626.3 1002.9,625.0 C1010.8,623.6 1018.7,623.0 1025.9,623.2 C1033.1,623.4 1039.9,624.5 1045.8,626.2 C1051.8,628.0 1057.1,630.6 1061.4,633.8 C1065.6,637.0 1069.1,640.9 1071.4,645.3 Z" fill="#7892a2" />
<path d="M889.3,713.8 C887.6,706.6 898.1,680.3 905.1,673.0 C912.2,665.7 929.9,662.7 931.5,670.0 C933.1,677.3 922.0,709.3 915.0,716.6 C907.9,723.9 890.9,721.1 889.3,713.8 Z" fill="#98b2c0" />
<path d="M792.4,849.4 Q806.3,856.2 833.9,847.3" stroke="#2a2018" stroke-width="15" stroke-linecap="round" fill="none"/>
<path d="M785.0,870.1 Q802.5,870.8 810.1,894.2" stroke="#2a2018" stroke-width="15" stroke-linecap="round" fill="none"/>
<path d="M735.7,882.4 Q723.3,898.0 699.2,906.9" stroke="#2a2018" stroke-width="15" stroke-linecap="round" fill="none"/>
<path d="M731.7,850.6 Q711.4,840.5 702.7,830.1" stroke="#2a2018" stroke-width="15" stroke-linecap="round" fill="none"/>
<path d="M762.0,831.7 Q763.0,812.2 775.3,795.3" stroke="#2a2018" stroke-width="15" stroke-linecap="round" fill="none"/>
<path d="M792.4,849.4 Q806.3,856.2 833.9,847.3" stroke="#6e8898" stroke-width="9" stroke-linecap="round" fill="none"/>
<path d="M785.0,870.1 Q802.5,870.8 810.1,894.2" stroke="#6e8898" stroke-width="9" stroke-linecap="round" fill="none"/>
<path d="M735.7,882.4 Q723.3,898.0 699.2,906.9" stroke="#6e8898" stroke-width="9" stroke-linecap="round" fill="none"/>
<path d="M731.7,850.6 Q711.4,840.5 702.7,830.1" stroke="#6e8898" stroke-width="9" stroke-linecap="round" fill="none"/>
<path d="M762.0,831.7 Q763.0,812.2 775.3,795.3" stroke="#6e8898" stroke-width="9" stroke-linecap="round" fill="none"/>
<path d="M801.6,836.7 C803.0,838.2 804.2,839.8 805.0,841.5 C805.8,843.2 806.3,845.1 806.5,847.1 C806.7,849.1 806.5,851.2 806.0,853.3 C805.5,855.5 804.6,857.8 803.5,860.1 C802.4,862.3 800.9,864.7 799.4,866.9 C797.8,869.1 796.0,871.4 794.1,873.5 C792.2,875.5 790.2,877.6 788.2,879.4 C786.1,881.2 784.0,882.9 781.8,884.4 C779.7,885.9 777.5,887.3 775.2,888.5 C772.8,889.7 770.5,890.8 768.0,891.7 C765.5,892.6 762.9,893.4 760.2,894.0 C757.6,894.7 754.8,895.2 752.0,895.6 C749.2,895.9 746.3,896.2 743.6,896.2 C740.9,896.2 738.1,896.1 735.6,895.7 C733.2,895.3 730.8,894.7 728.7,893.9 C726.6,893.1 724.8,892.1 723.3,890.8 C721.7,889.5 720.5,888.0 719.5,886.4 C718.6,884.7 717.9,882.8 717.4,880.9 C716.9,878.9 716.7,876.8 716.6,874.7 C716.5,872.6 716.5,870.4 716.7,868.3 C716.8,866.1 717.1,864.0 717.4,861.9 C717.8,859.8 718.3,857.7 718.9,855.7 C719.6,853.7 720.3,851.7 721.3,849.8 C722.3,847.8 723.5,845.9 725.0,844.0 C726.4,842.2 728.1,840.4 730.0,838.6 C731.9,836.8 734.1,835.1 736.5,833.5 C738.8,831.9 741.4,830.4 743.9,829.0 C746.5,827.7 749.2,826.4 751.8,825.4 C754.5,824.4 757.2,823.6 759.7,823.0 C762.2,822.4 764.7,822.1 767.1,821.9 C769.4,821.8 771.7,821.9 773.8,822.2 C776.0,822.5 778.0,823.0 780.1,823.6 C782.1,824.2 784.1,825.0 786.0,825.9 C787.9,826.8 789.9,827.8 791.7,828.9 C793.5,830.0 795.4,831.2 797.0,832.5 C798.7,833.8 800.3,835.1 801.6,836.7 Z" fill="#6e8898" stroke="#2a2018" stroke-width="3" stroke-linejoin="round" stroke-linecap="round" />
<path d="M791.4,842.0 C792.4,844.0 793.1,846.2 793.3,848.4 C793.6,850.6 793.5,853.1 793.0,855.4 C792.5,857.8 791.6,860.3 790.3,862.7 C789.1,865.1 787.5,867.5 785.6,869.7 C783.7,871.9 781.5,874.1 779.1,876.0 C776.7,877.9 774.0,879.6 771.2,881.1 C768.5,882.5 765.5,883.7 762.6,884.6 C759.7,885.5 756.6,886.2 753.8,886.4 C750.9,886.7 748.0,886.7 745.3,886.4 C742.6,886.0 740.1,885.3 737.8,884.4 C735.6,883.4 733.5,882.2 731.8,880.7 C730.1,879.2 728.7,877.4 727.7,875.5 C726.7,873.5 726.0,871.4 725.7,869.1 C725.5,866.9 725.6,864.5 726.1,862.1 C726.6,859.7 727.5,857.2 728.7,854.8 C730.0,852.4 731.6,850.0 733.5,847.8 C735.3,845.6 737.6,843.4 740.0,841.5 C742.4,839.6 745.1,837.9 747.8,836.4 C750.6,835.0 753.5,833.8 756.5,832.9 C759.4,832.0 762.4,831.4 765.3,831.1 C768.2,830.8 771.1,830.8 773.8,831.2 C776.4,831.5 779.0,832.2 781.3,833.1 C783.5,834.1 785.6,835.4 787.3,836.8 C788.9,838.3 790.4,840.1 791.4,842.0 Z" fill="#7892a2" />
<path d="M726.4,864.3 C725.5,861.2 728.5,850.6 730.8,847.7 C733.2,844.9 739.6,844.3 740.5,847.4 C741.3,850.5 738.4,863.6 736.0,866.4 C733.7,869.2 727.3,867.4 726.4,864.3 Z" fill="#98b2c0" />
<path d="M888.4,747.1 C887.9,737.2 903.2,710.7 915.7,702.2 C928.2,693.8 955.4,690.8 963.4,696.4 C971.4,702.0 971.2,724.8 963.8,735.7 C956.3,746.6 931.2,759.8 918.6,761.7 C906.1,763.6 888.9,757.0 888.4,747.1 Z" fill="#666a8a" />
<path d="M1065.5,589.7 C1067.3,582.3 1083.9,562.0 1093.5,556.9 C1103.1,551.9 1119.1,554.4 1123.1,559.5 C1127.1,564.5 1124.1,580.4 1117.4,587.3 C1110.6,594.2 1091.4,600.6 1082.7,601.0 C1074.1,601.4 1063.7,597.0 1065.5,589.7 Z" fill="#666a8a" />
<path d="M753.2,855.3 C754.1,849.2 764.3,835.2 771.5,832.1 C778.8,829.1 793.2,832.4 796.7,837.0 C800.2,841.6 797.8,854.1 792.6,859.4 C787.5,864.8 772.6,869.6 766.0,868.9 C759.4,868.2 752.3,861.4 753.2,855.3 Z" fill="#666a8a" />
</g>
<path d="M484.0,564.0 L488.0,523.0 L503.0,498.0 L530.0,483.0 L569.0,479.0 L592.0,487.0 L607.0,508.0 L605.0,537.0 L628.0,543.0 L670.0,564.0 L711.0,589.0 L738.0,614.0 L753.0,640.0 L761.0,658.0 L657.0,706.0 L645.0,681.0 L607.0,654.0 L544.0,623.0 L488.0,594.0 Z" fill="#c4875a" stroke="#1c140e" stroke-width="4" stroke-linejoin="round" />
<path d="M498.0,566.0 C498.0,552.8 497.3,535.2 500.0,525.0 C502.7,514.8 508.2,510.0 514.0,505.0 C519.8,500.0 526.0,497.2 535.0,495.0 C544.0,492.8 559.2,491.2 568.0,492.0 C576.8,492.8 583.3,495.7 588.0,500.0 C592.7,504.3 595.0,509.7 596.0,518.0 C597.0,526.3 590.0,543.3 594.0,550.0 C598.0,556.7 608.7,553.3 620.0,558.0 C631.3,562.7 648.7,570.7 662.0,578.0 C675.3,585.3 689.7,594.3 700.0,602.0 C710.3,609.7 717.7,616.3 724.0,624.0 C730.3,631.7 734.3,640.7 738.0,648.0 C741.7,655.3 757.0,659.3 746.0,668.0 C735.0,676.7 686.0,698.0 672.0,700.0 C658.0,702.0 669.0,686.7 662.0,680.0 C655.0,673.3 647.0,668.3 630.0,660.0 C613.0,651.7 581.7,639.3 560.0,630.0 C538.3,620.7 510.3,614.7 500.0,604.0 C489.7,593.3 498.0,579.2 498.0,566.0 Z" fill="#9c6642" />
<path d="M560.0,598.0 C570.0,596.7 608.3,605.0 630.0,612.0 C651.7,619.0 675.3,630.7 690.0,640.0 C704.7,649.3 716.3,659.7 718.0,668.0 C719.7,676.3 707.2,689.3 700.0,690.0 C692.8,690.7 686.7,679.0 675.0,672.0 C663.3,665.0 647.5,656.7 630.0,648.0 C612.5,639.3 581.7,628.3 570.0,620.0 C558.3,611.7 550.0,599.3 560.0,598.0 Z" fill="#b47e56" />
<path d="M500.0,560.0 C495.3,552.8 499.3,534.0 502.0,525.0 C504.7,516.0 509.7,510.7 516.0,506.0 C522.3,501.3 531.7,498.7 540.0,497.0 C548.3,495.3 558.7,494.8 566.0,496.0 C573.3,497.2 580.0,499.7 584.0,504.0 C588.0,508.3 589.3,514.7 590.0,522.0 C590.7,529.3 593.0,541.7 588.0,548.0 C583.0,554.3 569.7,556.7 560.0,560.0 C550.3,563.3 540.0,568.0 530.0,568.0 C520.0,568.0 504.7,567.2 500.0,560.0 Z" fill="#3a281c" />
<path d="M659.0,704.0 L759.0,660.0 L799.2,691.1 L673.4,757.1 Z" fill="#a87450" />
<path d="M668.0,700.0 L746.0,664.0 L776.9,696.0 L695.4,738.8 Z" fill="#bc8a5e" opacity="0.8"/>
<path d="M690,648 L700,662 L710,680" stroke="#6ac0e8" stroke-width="4" fill="none"/>
</g>
<g clip-path="url(#pclip1350)">
<path d="M1420.0,250.0 C1501.7,193.3 1805.0,248.0 1910.0,250.0 C2015.0,252.0 2020.8,250.7 2050.0,262.0 C2079.2,273.3 2077.3,300.0 2085.0,318.0 C2092.7,336.0 2094.5,353.0 2096.0,370.0 C2097.5,387.0 2096.7,403.7 2094.0,420.0 C2091.3,436.3 2087.3,453.3 2080.0,468.0 C2072.7,482.7 2065.0,496.3 2050.0,508.0 C2035.0,519.7 2008.3,526.0 1990.0,538.0 C1971.7,550.0 1956.7,566.3 1940.0,580.0 C1923.3,593.7 1912.5,607.0 1890.0,620.0 C1867.5,633.0 1832.2,648.0 1805.0,658.0 C1777.8,668.0 1753.0,673.3 1727.0,680.0 C1701.0,686.7 1671.8,695.7 1649.0,698.0 C1626.2,700.3 1608.2,697.7 1590.0,694.0 C1571.8,690.3 1556.7,683.7 1540.0,676.0 C1523.3,668.3 1505.0,658.0 1490.0,648.0 C1475.0,638.0 1461.7,625.7 1450.0,616.0 C1438.3,606.3 1425.0,651.0 1420.0,590.0 C1415.0,529.0 1338.3,306.7 1420.0,250.0 Z" fill="#2e8c3c" stroke="#1c140e" stroke-width="5" stroke-linejoin="round" stroke-linecap="round" />
<clipPath id="gclip1350"><path d="M1420.0,250.0 C1501.7,193.3 1805.0,248.0 1910.0,250.0 C2015.0,252.0 2020.8,250.7 2050.0,262.0 C2079.2,273.3 2077.3,300.0 2085.0,318.0 C2092.7,336.0 2094.5,353.0 2096.0,370.0 C2097.5,387.0 2096.7,403.7 2094.0,420.0 C2091.3,436.3 2087.3,453.3 2080.0,468.0 C2072.7,482.7 2065.0,496.3 2050.0,508.0 C2035.0,519.7 2008.3,526.0 1990.0,538.0 C1971.7,550.0 1956.7,566.3 1940.0,580.0 C1923.3,593.7 1912.5,607.0 1890.0,620.0 C1867.5,633.0 1832.2,648.0 1805.0,658.0 C1777.8,668.0 1753.0,673.3 1727.0,680.0 C1701.0,686.7 1671.8,695.7 1649.0,698.0 C1626.2,700.3 1608.2,697.7 1590.0,694.0 C1571.8,690.3 1556.7,683.7 1540.0,676.0 C1523.3,668.3 1505.0,658.0 1490.0,648.0 C1475.0,638.0 1461.7,625.7 1450.0,616.0 C1438.3,606.3 1425.0,651.0 1420.0,590.0 C1415.0,529.0 1338.3,306.7 1420.0,250.0 Z"/></clipPath>
<g clip-path="url(#gclip1350)">
<path d="M1420.0,300.0 C1435.0,299.3 1480.0,298.3 1510.0,296.0 C1540.0,293.7 1571.7,290.3 1600.0,286.0 C1628.3,281.7 1650.0,271.0 1680.0,270.0 C1710.0,269.0 1748.3,279.0 1780.0,280.0 C1811.7,281.0 1855.0,276.7 1870.0,276.0" stroke="#1a6a2e" stroke-width="40" stroke-linecap="round" fill="none"/>
<path d="M1420.0,390.0 C1433.3,386.0 1473.3,374.0 1500.0,366.0 C1526.7,358.0 1553.3,348.7 1580.0,342.0 C1606.7,335.3 1631.7,330.3 1660.0,326.0 C1688.3,321.7 1721.7,320.3 1750.0,316.0 C1778.3,311.7 1801.7,305.0 1830.0,300.0 C1858.3,295.0 1891.7,287.3 1920.0,286.0 C1948.3,284.7 1986.7,291.0 2000.0,292.0" stroke="#1a6a2e" stroke-width="40" stroke-linecap="round" fill="none"/>
<path d="M1450.0,470.0 C1465.0,463.7 1511.7,441.3 1540.0,432.0 C1568.3,422.7 1591.7,420.0 1620.0,414.0 C1648.3,408.0 1680.0,403.0 1710.0,396.0 C1740.0,389.0 1770.0,379.7 1800.0,372.0 C1830.0,364.3 1861.7,356.0 1890.0,350.0 C1918.3,344.0 1943.3,340.0 1970.0,336.0 C1996.7,332.0 2029.2,323.7 2050.0,326.0 C2070.8,328.3 2087.5,346.0 2095.0,350.0" stroke="#1a6a2e" stroke-width="40" stroke-linecap="round" fill="none"/>
<path d="M1510.0,545.0 C1521.7,538.2 1553.3,515.5 1580.0,504.0 C1606.7,492.5 1638.3,483.3 1670.0,476.0 C1701.7,468.7 1736.7,465.3 1770.0,460.0 C1803.3,454.7 1838.3,450.0 1870.0,444.0 C1901.7,438.0 1931.7,431.3 1960.0,424.0 C1988.3,416.7 2019.2,402.3 2040.0,400.0 C2060.8,397.7 2077.5,408.3 2085.0,410.0" stroke="#1a6a2e" stroke-width="40" stroke-linecap="round" fill="none"/>
<path d="M1430.0,600.0 C1440.0,597.3 1466.7,587.7 1490.0,584.0 C1513.3,580.3 1546.7,583.3 1570.0,578.0 C1593.3,572.7 1620.0,556.3 1630.0,552.0" stroke="#1a6a2e" stroke-width="40" stroke-linecap="round" fill="none"/>
<path d="M1600.0,660.0 C1611.7,651.7 1645.0,625.0 1670.0,610.0 C1695.0,595.0 1720.0,581.7 1750.0,570.0 C1780.0,558.3 1816.7,550.3 1850.0,540.0 C1883.3,529.7 1920.0,518.7 1950.0,508.0 C1980.0,497.3 2005.8,482.3 2030.0,476.0 C2054.2,469.7 2084.2,471.0 2095.0,470.0" stroke="#1a6a2e" stroke-width="40" stroke-linecap="round" fill="none"/>
<path d="M1690.0,700.0 C1701.7,693.3 1735.0,672.0 1760.0,660.0 C1785.0,648.0 1813.3,637.3 1840.0,628.0 C1866.7,618.7 1906.7,608.0 1920.0,604.0" stroke="#1a6a2e" stroke-width="40" stroke-linecap="round" fill="none"/>
<path d="M1910.0,250.0 C1923.3,251.3 1966.7,251.3 1990.0,258.0 C2013.3,264.7 2034.2,278.0 2050.0,290.0 C2065.8,302.0 2079.2,323.3 2085.0,330.0" stroke="#1a6a2e" stroke-width="40" stroke-linecap="round" fill="none"/>
<path d="M1950.0,560.0 C1960.0,556.7 1990.0,546.7 2010.0,540.0 C2030.0,533.3 2060.0,523.3 2070.0,520.0" stroke="#1a6a2e" stroke-width="40" stroke-linecap="round" fill="none"/>
<path d="M1420.0,300.0 C1435.0,299.3 1480.0,298.3 1510.0,296.0 C1540.0,293.7 1571.7,290.3 1600.0,286.0 C1628.3,281.7 1650.0,271.0 1680.0,270.0 C1710.0,269.0 1748.3,279.0 1780.0,280.0 C1811.7,281.0 1855.0,276.7 1870.0,276.0" stroke="#48ac48" stroke-width="32" stroke-linecap="round" fill="none"/>
<path d="M1420.0,390.0 C1433.3,386.0 1473.3,374.0 1500.0,366.0 C1526.7,358.0 1553.3,348.7 1580.0,342.0 C1606.7,335.3 1631.7,330.3 1660.0,326.0 C1688.3,321.7 1721.7,320.3 1750.0,316.0 C1778.3,311.7 1801.7,305.0 1830.0,300.0 C1858.3,295.0 1891.7,287.3 1920.0,286.0 C1948.3,284.7 1986.7,291.0 2000.0,292.0" stroke="#48ac48" stroke-width="32" stroke-linecap="round" fill="none"/>
<path d="M1450.0,470.0 C1465.0,463.7 1511.7,441.3 1540.0,432.0 C1568.3,422.7 1591.7,420.0 1620.0,414.0 C1648.3,408.0 1680.0,403.0 1710.0,396.0 C1740.0,389.0 1770.0,379.7 1800.0,372.0 C1830.0,364.3 1861.7,356.0 1890.0,350.0 C1918.3,344.0 1943.3,340.0 1970.0,336.0 C1996.7,332.0 2029.2,323.7 2050.0,326.0 C2070.8,328.3 2087.5,346.0 2095.0,350.0" stroke="#48ac48" stroke-width="32" stroke-linecap="round" fill="none"/>
<path d="M1510.0,545.0 C1521.7,538.2 1553.3,515.5 1580.0,504.0 C1606.7,492.5 1638.3,483.3 1670.0,476.0 C1701.7,468.7 1736.7,465.3 1770.0,460.0 C1803.3,454.7 1838.3,450.0 1870.0,444.0 C1901.7,438.0 1931.7,431.3 1960.0,424.0 C1988.3,416.7 2019.2,402.3 2040.0,400.0 C2060.8,397.7 2077.5,408.3 2085.0,410.0" stroke="#48ac48" stroke-width="32" stroke-linecap="round" fill="none"/>
<path d="M1430.0,600.0 C1440.0,597.3 1466.7,587.7 1490.0,584.0 C1513.3,580.3 1546.7,583.3 1570.0,578.0 C1593.3,572.7 1620.0,556.3 1630.0,552.0" stroke="#48ac48" stroke-width="32" stroke-linecap="round" fill="none"/>
<path d="M1600.0,660.0 C1611.7,651.7 1645.0,625.0 1670.0,610.0 C1695.0,595.0 1720.0,581.7 1750.0,570.0 C1780.0,558.3 1816.7,550.3 1850.0,540.0 C1883.3,529.7 1920.0,518.7 1950.0,508.0 C1980.0,497.3 2005.8,482.3 2030.0,476.0 C2054.2,469.7 2084.2,471.0 2095.0,470.0" stroke="#48ac48" stroke-width="32" stroke-linecap="round" fill="none"/>
<path d="M1690.0,700.0 C1701.7,693.3 1735.0,672.0 1760.0,660.0 C1785.0,648.0 1813.3,637.3 1840.0,628.0 C1866.7,618.7 1906.7,608.0 1920.0,604.0" stroke="#48ac48" stroke-width="32" stroke-linecap="round" fill="none"/>
<path d="M1910.0,250.0 C1923.3,251.3 1966.7,251.3 1990.0,258.0 C2013.3,264.7 2034.2,278.0 2050.0,290.0 C2065.8,302.0 2079.2,323.3 2085.0,330.0" stroke="#48ac48" stroke-width="32" stroke-linecap="round" fill="none"/>
<path d="M1950.0,560.0 C1960.0,556.7 1990.0,546.7 2010.0,540.0 C2030.0,533.3 2060.0,523.3 2070.0,520.0" stroke="#48ac48" stroke-width="32" stroke-linecap="round" fill="none"/>
<path d="M1510.0,288.0 C1525.0,286.3 1571.7,282.3 1600.0,278.0 C1628.3,273.7 1650.0,263.0 1680.0,262.0 C1710.0,261.0 1763.3,270.3 1780.0,272.0" stroke="#6cc85a" stroke-width="10" stroke-linecap="round" fill="none" opacity="0.8"/>
<path d="M1500.0,358.0 C1513.3,354.0 1553.3,340.7 1580.0,334.0 C1606.7,327.3 1631.7,322.3 1660.0,318.0 C1688.3,313.7 1721.7,312.3 1750.0,308.0 C1778.3,303.7 1801.7,297.0 1830.0,292.0 C1858.3,287.0 1905.0,280.3 1920.0,278.0" stroke="#6cc85a" stroke-width="10" stroke-linecap="round" fill="none" opacity="0.8"/>
<path d="M1540.0,424.0 C1553.3,421.0 1591.7,412.0 1620.0,406.0 C1648.3,400.0 1680.0,395.0 1710.0,388.0 C1740.0,381.0 1770.0,371.7 1800.0,364.0 C1830.0,356.3 1861.7,348.0 1890.0,342.0 C1918.3,336.0 1943.3,332.0 1970.0,328.0 C1996.7,324.0 2036.7,319.7 2050.0,318.0" stroke="#6cc85a" stroke-width="10" stroke-linecap="round" fill="none" opacity="0.8"/>
<path d="M1580.0,496.0 C1595.0,491.3 1638.3,475.3 1670.0,468.0 C1701.7,460.7 1736.7,457.3 1770.0,452.0 C1803.3,446.7 1838.3,442.0 1870.0,436.0 C1901.7,430.0 1931.7,423.3 1960.0,416.0 C1988.3,408.7 2026.7,396.0 2040.0,392.0" stroke="#6cc85a" stroke-width="10" stroke-linecap="round" fill="none" opacity="0.8"/>
<path d="M1490,576 L1570,570" stroke="#6cc85a" stroke-width="10" stroke-linecap="round" fill="none" opacity="0.8"/>
<path d="M1670.0,602.0 C1683.3,595.3 1720.0,573.7 1750.0,562.0 C1780.0,550.3 1816.7,542.3 1850.0,532.0 C1883.3,521.7 1920.0,510.7 1950.0,500.0 C1980.0,489.3 2016.7,473.3 2030.0,468.0" stroke="#6cc85a" stroke-width="10" stroke-linecap="round" fill="none" opacity="0.8"/>
<path d="M1760,652 L1840,620" stroke="#6cc85a" stroke-width="10" stroke-linecap="round" fill="none" opacity="0.8"/>
<path d="M1990,250 L2050,282" stroke="#6cc85a" stroke-width="10" stroke-linecap="round" fill="none" opacity="0.8"/>
<path d="M2010,532" stroke="#6cc85a" stroke-width="10" stroke-linecap="round" fill="none" opacity="0.8"/>
</g>
<path d="M1494.1,329.4 C1495.1,321.8 1494.1,311.0 1498.6,305.6 C1503.1,300.2 1513.5,297.0 1521.0,297.0 C1528.5,297.0 1538.7,299.9 1543.4,305.6 C1548.1,311.4 1548.4,323.2 1549.0,331.6 C1549.6,340.0 1549.6,350.0 1546.8,356.0 C1544.0,362.0 1537.9,365.8 1532.2,367.6 C1526.5,369.4 1518.7,366.6 1512.6,366.8 C1506.5,367.1 1499.1,371.6 1495.8,369.0 C1492.5,366.4 1493.3,357.6 1493.0,351.0 C1492.7,344.4 1493.2,337.0 1494.1,329.4 Z" fill="#40c074" stroke="#1c140e" stroke-width="4" stroke-linejoin="round" stroke-linecap="round" />
<ellipse cx="1523.8" cy="351.72" rx="16.8" ry="8.64" fill="#2e8a4a" opacity="0.25"/>
<rect x="1509.8" y="320.0" width="5" height="5" fill="#1c140e"/>
<rect x="1528.8" y="320.0" width="5" height="5" fill="#1c140e"/>
<path d="M1513.2,331.6 Q1522.7,340.2 1533.3,331.6" stroke="#1c140e" stroke-width="4" fill="none"/>
<ellipse cx="1527.7" cy="307.1" rx="6.7" ry="3.6" fill="#ffffff" opacity="0.55"/>
<path d="M1722.1,354.1 C1723.1,345.9 1722.1,334.2 1726.6,328.4 C1731.1,322.5 1741.5,319.0 1749.0,319.0 C1756.5,319.0 1766.7,322.1 1771.4,328.4 C1776.1,334.6 1776.4,347.3 1777.0,356.4 C1777.6,365.5 1777.6,376.5 1774.8,383.0 C1772.0,389.5 1765.9,393.5 1760.2,395.4 C1754.5,397.4 1746.7,394.4 1740.6,394.7 C1734.5,394.9 1727.1,399.9 1723.8,397.0 C1720.5,394.1 1721.3,384.6 1721.0,377.5 C1720.7,370.4 1721.2,362.3 1722.1,354.1 Z" fill="#86d858" stroke="#1c140e" stroke-width="4" stroke-linejoin="round" stroke-linecap="round" />
<ellipse cx="1751.8" cy="378.28" rx="16.8" ry="9.36" fill="#2e8a4a" opacity="0.25"/>
<rect x="1737.8" y="344.0" width="5" height="5" fill="#1c140e"/>
<rect x="1756.8" y="344.0" width="5" height="5" fill="#1c140e"/>
<path d="M1741.2,356.4 Q1750.7,365.8 1761.3,356.4" stroke="#1c140e" stroke-width="4" fill="none"/>
<ellipse cx="1755.7" cy="329.9" rx="6.7" ry="3.9" fill="#ffffff" opacity="0.55"/>
<path d="M1594.2,440.6 C1595.1,433.5 1594.2,423.3 1598.8,418.2 C1603.4,413.1 1614.3,410.0 1622.0,410.0 C1629.7,410.0 1640.4,412.7 1645.2,418.2 C1650.0,423.6 1650.4,434.7 1651.0,442.6 C1651.6,450.6 1651.6,460.1 1648.7,465.8 C1645.8,471.4 1639.5,474.9 1633.6,476.6 C1627.7,478.3 1619.6,475.7 1613.3,476.0 C1607.0,476.2 1599.3,480.5 1595.9,478.0 C1592.5,475.5 1593.3,467.2 1593.0,461.0 C1592.7,454.8 1593.2,447.7 1594.2,440.6 Z" fill="#3f7fe0" stroke="#1c140e" stroke-width="4" stroke-linejoin="round" stroke-linecap="round" />
<ellipse cx="1624.9" cy="461.68" rx="17.4" ry="8.16" fill="#2e8a4a" opacity="0.25"/>
<rect x="1610.4" y="431.8" width="5" height="5" fill="#1c140e"/>
<rect x="1630.1" y="431.8" width="5" height="5" fill="#1c140e"/>
<path d="M1613.9,442.6 Q1623.7,450.8 1634.8,442.6" stroke="#1c140e" stroke-width="4" fill="none"/>
<ellipse cx="1629.0" cy="419.5" rx="7.0" ry="3.4" fill="#ffffff" opacity="0.55"/>
<path d="M1893.0,394.7 C1893.8,387.8 1893.0,377.9 1897.0,372.9 C1901.0,368.0 1910.3,365.0 1917.0,365.0 C1923.7,365.0 1932.8,367.6 1937.0,372.9 C1941.2,378.2 1941.5,389.0 1942.0,396.7 C1942.5,404.4 1942.5,413.6 1940.0,419.1 C1937.5,424.6 1932.1,428.0 1927.0,429.7 C1921.9,431.3 1914.9,428.8 1909.5,429.0 C1904.1,429.2 1897.4,433.4 1894.5,431.0 C1891.6,428.6 1892.2,420.6 1892.0,414.5 C1891.8,408.4 1892.2,401.6 1893.0,394.7 Z" fill="#6cce6a" stroke="#1c140e" stroke-width="4" stroke-linejoin="round" stroke-linecap="round" />
<ellipse cx="1919.5" cy="415.16" rx="15.0" ry="7.92" fill="#2e8a4a" opacity="0.25"/>
<rect x="1907.0" y="386.1" width="5" height="5" fill="#1c140e"/>
<rect x="1924.0" y="386.1" width="5" height="5" fill="#1c140e"/>
<path d="M1910.0,396.7 Q1918.5,404.6 1928.0,396.7" stroke="#1c140e" stroke-width="4" fill="none"/>
<ellipse cx="1923.0" cy="374.2" rx="6.0" ry="3.3" fill="#ffffff" opacity="0.55"/>
<path d="M1997.1,396.2 C1998.0,388.2 1997.1,376.8 2001.4,371.1 C2005.7,365.4 2015.8,362.0 2023.0,362.0 C2030.2,362.0 2040.1,365.0 2044.6,371.1 C2049.1,377.2 2049.5,389.6 2050.0,398.5 C2050.5,407.3 2050.5,418.0 2047.8,424.3 C2045.1,430.7 2039.3,434.6 2033.8,436.5 C2028.3,438.4 2020.8,435.5 2014.9,435.7 C2009.1,436.0 2001.9,440.8 1998.7,438.0 C1995.5,435.2 1996.3,426.0 1996.0,419.0 C1995.7,412.0 1996.2,404.2 1997.1,396.2 Z" fill="#2ab098" stroke="#1c140e" stroke-width="4" stroke-linejoin="round" stroke-linecap="round" />
<ellipse cx="2025.7" cy="419.76" rx="16.2" ry="9.12" fill="#2e8a4a" opacity="0.25"/>
<rect x="2012.2" y="386.3" width="5" height="5" fill="#1c140e"/>
<rect x="2030.6" y="386.3" width="5" height="5" fill="#1c140e"/>
<path d="M2015.4,398.5 Q2024.6,407.6 2034.9,398.5" stroke="#1c140e" stroke-width="4" fill="none"/>
<ellipse cx="2029.5" cy="372.6" rx="6.5" ry="3.8" fill="#ffffff" opacity="0.55"/>
<path d="M1768.4,451.4 C1769.6,443.8 1768.4,433.0 1774.0,427.6 C1779.6,422.2 1792.7,419.0 1802.0,419.0 C1811.3,419.0 1824.2,421.9 1830.0,427.6 C1835.8,433.4 1836.3,445.2 1837.0,453.6 C1837.7,462.0 1837.7,472.0 1834.2,478.0 C1830.7,484.0 1823.1,487.8 1816.0,489.6 C1808.9,491.4 1799.1,488.6 1791.5,488.8 C1783.9,489.1 1774.6,493.6 1770.5,491.0 C1766.4,488.4 1767.3,479.6 1767.0,473.0 C1766.7,466.4 1767.2,459.0 1768.4,451.4 Z" fill="#8ed850" stroke="#1c140e" stroke-width="4" stroke-linejoin="round" stroke-linecap="round" />
<ellipse cx="1805.5" cy="473.72" rx="21.0" ry="8.64" fill="#2e8a4a" opacity="0.25"/>
<rect x="1788.0" y="442.0" width="5" height="5" fill="#1c140e"/>
<rect x="1811.8" y="442.0" width="5" height="5" fill="#1c140e"/>
<path d="M1792.2,453.6 Q1804.1,462.2 1817.4,453.6" stroke="#1c140e" stroke-width="4" fill="none"/>
<ellipse cx="1810.4" cy="429.1" rx="8.4" ry="3.6" fill="#ffffff" opacity="0.55"/>
<path d="M1703.2,532.3 C1704.2,524.5 1703.2,513.4 1708.0,507.9 C1712.8,502.3 1724.0,499.0 1732.0,499.0 C1740.0,499.0 1751.0,502.0 1756.0,507.9 C1761.0,513.8 1761.4,525.9 1762.0,534.5 C1762.6,543.2 1762.6,553.5 1759.6,559.7 C1756.6,565.8 1750.1,569.7 1744.0,571.5 C1737.9,573.4 1729.5,570.5 1723.0,570.8 C1716.5,571.0 1708.5,575.7 1705.0,573.0 C1701.5,570.3 1702.3,561.3 1702.0,554.5 C1701.7,547.7 1702.2,540.1 1703.2,532.3 Z" fill="#3cb46c" stroke="#1c140e" stroke-width="4" stroke-linejoin="round" stroke-linecap="round" />
<ellipse cx="1735.0" cy="555.24" rx="18.0" ry="8.879999999999999" fill="#2e8a4a" opacity="0.25"/>
<rect x="1720.0" y="522.7" width="5" height="5" fill="#1c140e"/>
<rect x="1740.4" y="522.7" width="5" height="5" fill="#1c140e"/>
<path d="M1723.6,534.5 Q1733.8,543.4 1745.2,534.5" stroke="#1c140e" stroke-width="4" fill="none"/>
<ellipse cx="1739.2" cy="509.4" rx="7.2" ry="3.7" fill="#ffffff" opacity="0.55"/>
<path d="M1519.2,557.6 C1520.1,550.5 1519.2,540.3 1523.8,535.2 C1528.4,530.1 1539.3,527.0 1547.0,527.0 C1554.7,527.0 1565.4,529.7 1570.2,535.2 C1575.0,540.6 1575.4,551.7 1576.0,559.6 C1576.6,567.6 1576.6,577.1 1573.7,582.8 C1570.8,588.4 1564.5,591.9 1558.6,593.6 C1552.7,595.3 1544.6,592.7 1538.3,593.0 C1532.0,593.2 1524.3,597.5 1520.9,595.0 C1517.5,592.5 1518.3,584.2 1518.0,578.0 C1517.7,571.8 1518.2,564.7 1519.2,557.6 Z" fill="#90d058" stroke="#1c140e" stroke-width="4" stroke-linejoin="round" stroke-linecap="round" />
<ellipse cx="1549.9" cy="578.68" rx="17.4" ry="8.16" fill="#2e8a4a" opacity="0.25"/>
<rect x="1535.4" y="548.8" width="5" height="5" fill="#1c140e"/>
<rect x="1555.1" y="548.8" width="5" height="5" fill="#1c140e"/>
<path d="M1538.9,559.6 Q1548.7,567.8 1559.8,559.6" stroke="#1c140e" stroke-width="4" fill="none"/>
<ellipse cx="1554.0" cy="536.5" rx="7.0" ry="3.4" fill="#ffffff" opacity="0.55"/>
<path d="M1442.2,563.4 C1443.2,555.8 1442.2,545.0 1447.0,539.6 C1451.8,534.2 1463.0,531.0 1471.0,531.0 C1479.0,531.0 1490.0,533.9 1495.0,539.6 C1500.0,545.4 1500.4,557.2 1501.0,565.6 C1501.6,574.0 1501.6,584.0 1498.6,590.0 C1495.6,596.0 1489.1,599.8 1483.0,601.6 C1476.9,603.4 1468.5,600.6 1462.0,600.8 C1455.5,601.1 1447.5,605.6 1444.0,603.0 C1440.5,600.4 1441.3,591.6 1441.0,585.0 C1440.7,578.4 1441.2,571.0 1442.2,563.4 Z" fill="#3fb060" stroke="#1c140e" stroke-width="4" stroke-linejoin="round" stroke-linecap="round" />
<ellipse cx="1474.0" cy="585.72" rx="18.0" ry="8.64" fill="#2e8a4a" opacity="0.25"/>
<rect x="1459.0" y="554.0" width="5" height="5" fill="#1c140e"/>
<rect x="1479.4" y="554.0" width="5" height="5" fill="#1c140e"/>
<path d="M1462.6,565.6 Q1472.8,574.2 1484.2,565.6" stroke="#1c140e" stroke-width="4" fill="none"/>
<ellipse cx="1478.2" cy="541.1" rx="7.2" ry="3.6" fill="#ffffff" opacity="0.55"/>
<path d="M2496.0,470.0 C2492.7,464.0 2514.3,448.7 2530.0,442.0 C2545.7,435.3 2570.0,431.3 2590.0,430.0 C2610.0,428.7 2637.3,431.2 2650.0,434.0 C2662.7,436.8 2663.3,438.3 2666.0,447.0 C2668.7,455.7 2675.3,480.5 2666.0,486.0 C2656.7,491.5 2629.3,481.3 2610.0,480.0 C2590.7,478.7 2569.0,479.7 2550.0,478.0 C2531.0,476.3 2499.3,476.0 2496.0,470.0 Z" fill="#dbbd88" />
<path d="M2608,340 Q2598,390 2602,441" stroke="#8c5234" stroke-width="15" fill="none"/>
<path d="M2550,378 Q2554,405 2564,433" stroke="#8c5234" stroke-width="12" fill="none"/>
<path d="M2608,328 Q2583.4,314.5 2558.8,332.1" stroke="#5e9e44" stroke-width="10.0" stroke-linecap="round" fill="none"/>
<path d="M2608,328 Q2592.4,305.6 2576.9,312.8" stroke="#5e9e44" stroke-width="10.0" stroke-linecap="round" fill="none"/>
<path d="M2608,328 Q2605.4,306.2 2602.8,311.0" stroke="#5e9e44" stroke-width="10.0" stroke-linecap="round" fill="none"/>
<path d="M2608,328 Q2622.1,304.5 2636.3,310.7" stroke="#5e9e44" stroke-width="10.0" stroke-linecap="round" fill="none"/>
<path d="M2608,328 Q2632.1,312.8 2656.3,328.6" stroke="#5e9e44" stroke-width="10.0" stroke-linecap="round" fill="none"/>
<path d="M2608,328 Q2628.8,325.8 2649.7,353.7" stroke="#5e9e44" stroke-width="10.0" stroke-linecap="round" fill="none"/>
<path d="M2608,328 Q2616.5,332.5 2624.9,365.8" stroke="#5e9e44" stroke-width="10.0" stroke-linecap="round" fill="none"/>
<path d="M2608,328 Q2599.5,332.5 2591.1,365.8" stroke="#5e9e44" stroke-width="10.0" stroke-linecap="round" fill="none"/>
<path d="M2608,328 Q2587.2,325.8 2566.3,353.7" stroke="#5e9e44" stroke-width="10.0" stroke-linecap="round" fill="none"/>
<circle cx="2608" cy="328" r="9.0" fill="#4a8436"/>
<path d="M2550,370 Q2533.3,360.8 2516.5,372.8" stroke="#5e9e44" stroke-width="6.8" stroke-linecap="round" fill="none"/>
<path d="M2550,370 Q2539.4,354.7 2528.8,359.7" stroke="#5e9e44" stroke-width="6.8" stroke-linecap="round" fill="none"/>
<path d="M2550,370 Q2548.2,355.2 2546.5,358.4" stroke="#5e9e44" stroke-width="6.8" stroke-linecap="round" fill="none"/>
<path d="M2550,370 Q2559.6,354.0 2569.2,358.2" stroke="#5e9e44" stroke-width="6.8" stroke-linecap="round" fill="none"/>
<path d="M2550,370 Q2566.4,359.7 2582.8,370.4" stroke="#5e9e44" stroke-width="6.8" stroke-linecap="round" fill="none"/>
<path d="M2550,370 Q2564.2,368.5 2578.3,387.5" stroke="#5e9e44" stroke-width="6.8" stroke-linecap="round" fill="none"/>
<path d="M2550,370 Q2555.7,373.1 2561.5,395.7" stroke="#5e9e44" stroke-width="6.8" stroke-linecap="round" fill="none"/>
<path d="M2550,370 Q2544.3,373.1 2538.5,395.7" stroke="#5e9e44" stroke-width="6.8" stroke-linecap="round" fill="none"/>
<path d="M2550,370 Q2535.8,368.5 2521.7,387.5" stroke="#5e9e44" stroke-width="6.8" stroke-linecap="round" fill="none"/>
<circle cx="2550" cy="370" r="6.1" fill="#4a8436"/>
<path d="M1612.0,1188.0 L1650.0,1214.0 L1690.0,1205.0 L1770.0,1150.0 L2014.0,1019.0 L2410.0,812.0 L2572.0,720.0 L2596.0,704.0 L2607.0,675.0 L2618.0,690.0 L2606.0,722.0 L2580.0,738.0 L2416.0,826.0 L2020.0,1033.0 L1776.0,1164.0 L1694.0,1222.0 L1648.0,1230.0 L1605.0,1200.0 Z" fill="#e2bc8a" />
<path d="M1496.0,971.0 L1503.0,948.0 L1527.0,920.0 L1562.0,905.0 L1615.0,904.0 L1690.0,878.0 L1783.0,829.0 L1899.0,766.0 L2004.0,713.0 L2110.0,658.0 L2200.0,615.0 L2275.0,577.0 L2305.0,530.0 L2325.0,497.0 L2360.0,467.0 L2385.0,460.0 L2422.0,461.0 L2445.0,472.0 L2487.0,518.0 L2525.0,532.0 L2562.0,548.0 L2588.0,572.0 L2602.0,618.0 L2607.0,675.0 L2596.0,704.0 L2572.0,720.0 L2410.0,812.0 L2014.0,1019.0 L1770.0,1150.0 L1690.0,1205.0 L1650.0,1214.0 L1612.0,1188.0 L1575.0,1140.0 L1540.0,1097.0 L1513.0,1058.0 L1498.0,1018.0 Z" fill="#f0dfba" stroke="#1c140e" stroke-width="4" stroke-linejoin="round" />
<path d="M1600.0,915.0 L1690.0,893.0 L2004.0,728.0 L2275.0,590.0 L2280.0,600.0 L2004.0,745.0 L1690.0,910.0 L1610.0,930.0 Z" fill="#f6ead2" />
<path d="M1680.0,1180.0 L2014.0,1000.0 L2410.0,795.0 L2572.0,712.0 L2575.0,700.0 L2410.0,782.0 L2014.0,986.0 L1680.0,1165.0 Z" fill="#d4b88a" />
<path d="M2360.0,480.0 C2365.8,470.3 2385.8,468.3 2400.0,470.0 C2414.2,471.7 2436.7,480.8 2445.0,490.0 C2453.3,499.2 2455.8,516.7 2450.0,525.0 C2444.2,533.3 2424.2,539.5 2410.0,540.0 C2395.8,540.5 2373.3,538.0 2365.0,528.0 C2356.7,518.0 2354.2,489.7 2360.0,480.0 Z" fill="#f8efdc" />
<path d="M2490.0,555.0 C2495.8,545.8 2520.8,545.8 2535.0,550.0 C2549.2,554.2 2567.8,569.2 2575.0,580.0 C2582.2,590.8 2583.0,606.7 2578.0,615.0 C2573.0,623.3 2558.0,631.7 2545.0,630.0 C2532.0,628.3 2509.2,617.5 2500.0,605.0 C2490.8,592.5 2484.2,564.2 2490.0,555.0 Z" fill="#f8efdc" />
<path d="M2400.0,550.0 C2401.7,545.0 2450.0,555.0 2470.0,570.0 C2490.0,585.0 2511.7,616.7 2520.0,640.0 C2528.3,663.3 2528.3,692.5 2520.0,710.0 C2511.7,727.5 2488.3,735.0 2470.0,745.0 C2451.7,755.0 2413.3,774.2 2410.0,770.0 C2406.7,765.8 2436.7,738.3 2450.0,720.0 C2463.3,701.7 2488.3,680.0 2490.0,660.0 C2491.7,640.0 2475.0,618.3 2460.0,600.0 C2445.0,581.7 2398.3,555.0 2400.0,550.0 Z" fill="#d8bf94" />
<g transform="translate(1612,1055) rotate(57)"><ellipse cx="0" cy="0" rx="132" ry="55" fill="#b48e60"/><ellipse cx="8" cy="8" rx="112" ry="40" fill="#a07a50"/></g>
<rect x="1575" y="1005" width="8" height="8" fill="#74543a" opacity="0.85"/>
<rect x="1667" y="1136" width="5" height="5" fill="#74543a" opacity="0.85"/>
<rect x="1595" y="1095" width="9" height="9" fill="#74543a" opacity="0.85"/>
<rect x="1601" y="995" width="9" height="9" fill="#74543a" opacity="0.85"/>
<rect x="1614" y="1065" width="9" height="9" fill="#74543a" opacity="0.85"/>
<rect x="1656" y="1066" width="6" height="6" fill="#74543a" opacity="0.85"/>
<rect x="1658" y="1129" width="5" height="5" fill="#74543a" opacity="0.85"/>
<rect x="1638" y="1110" width="8" height="8" fill="#74543a" opacity="0.85"/>
<rect x="1624" y="1126" width="8" height="8" fill="#74543a" opacity="0.85"/>
<rect x="1592" y="1060" width="9" height="9" fill="#74543a" opacity="0.85"/>
<rect x="1576" y="1049" width="9" height="9" fill="#74543a" opacity="0.85"/>
<rect x="1629" y="1042" width="9" height="9" fill="#74543a" opacity="0.85"/>
<rect x="1622" y="1127" width="9" height="9" fill="#74543a" opacity="0.85"/>
<rect x="1621" y="1051" width="8" height="8" fill="#74543a" opacity="0.85"/>
<rect x="1623" y="1057" width="6" height="6" fill="#74543a" opacity="0.85"/>
<rect x="1651" y="1144" width="5" height="5" fill="#74543a" opacity="0.85"/>
<rect x="1659" y="1073" width="8" height="8" fill="#74543a" opacity="0.85"/>
<rect x="1605" y="1079" width="6" height="6" fill="#74543a" opacity="0.85"/>
<rect x="1610" y="991" width="9" height="9" fill="#74543a" opacity="0.85"/>
<rect x="1626" y="1021" width="8" height="8" fill="#74543a" opacity="0.85"/>
<rect x="1609" y="1037" width="5" height="5" fill="#74543a" opacity="0.85"/>
<rect x="1562" y="1040" width="8" height="8" fill="#74543a" opacity="0.85"/>
<rect x="1580" y="991" width="8" height="8" fill="#74543a" opacity="0.85"/>
<rect x="1673" y="1119" width="6" height="6" fill="#74543a" opacity="0.85"/>
<rect x="1672" y="1128" width="9" height="9" fill="#74543a" opacity="0.85"/>
<rect x="1668" y="1123" width="5" height="5" fill="#74543a" opacity="0.85"/>
<rect x="1595" y="1100" width="8" height="8" fill="#74543a" opacity="0.85"/>
<rect x="1587" y="1052" width="6" height="6" fill="#74543a" opacity="0.85"/>
<rect x="1673" y="1138" width="8" height="8" fill="#74543a" opacity="0.85"/>
<rect x="1611" y="1062" width="5" height="5" fill="#74543a" opacity="0.85"/>
<rect x="1597" y="1012" width="6" height="6" fill="#74543a" opacity="0.85"/>
<rect x="1546" y="974" width="9" height="9" fill="#74543a" opacity="0.85"/>
<rect x="1562" y="1046" width="8" height="8" fill="#74543a" opacity="0.85"/>
<rect x="1600" y="1051" width="8" height="8" fill="#74543a" opacity="0.85"/>
<rect x="1594" y="976" width="8" height="8" fill="#74543a" opacity="0.85"/>
<rect x="1674" y="1112" width="9" height="9" fill="#74543a" opacity="0.85"/>
<rect x="1565" y="982" width="8" height="8" fill="#74543a" opacity="0.85"/>
<rect x="1601" y="988" width="9" height="9" fill="#74543a" opacity="0.85"/>
<rect x="1661" y="1065" width="8" height="8" fill="#74543a" opacity="0.85"/>
<rect x="1554" y="1015" width="6" height="6" fill="#74543a" opacity="0.85"/>
<rect x="1571" y="1002" width="8" height="8" fill="#74543a" opacity="0.85"/>
<rect x="1639" y="1046" width="6" height="6" fill="#74543a" opacity="0.85"/>
<rect x="1671" y="1119" width="5" height="5" fill="#74543a" opacity="0.85"/>
<rect x="1663" y="1108" width="6" height="6" fill="#74543a" opacity="0.85"/>
<rect x="1601" y="1040" width="8" height="8" fill="#74543a" opacity="0.85"/>
<rect x="1598" y="1054" width="8" height="8" fill="#74543a" opacity="0.85"/>
<rect x="1608" y="1035" width="9" height="9" fill="#74543a" opacity="0.85"/>
<rect x="1558" y="1012" width="8" height="8" fill="#74543a" opacity="0.85"/>
<rect x="1589" y="1082" width="5" height="5" fill="#74543a" opacity="0.85"/>
<rect x="1582" y="968" width="5" height="5" fill="#74543a" opacity="0.85"/>
<rect x="1650" y="1144" width="6" height="6" fill="#74543a" opacity="0.85"/>
<rect x="1668" y="1088" width="8" height="8" fill="#74543a" opacity="0.85"/>
<rect x="1650" y="1041" width="5" height="5" fill="#74543a" opacity="0.85"/>
<rect x="1610" y="1012" width="9" height="9" fill="#74543a" opacity="0.85"/>
<rect x="1595" y="993" width="6" height="6" fill="#74543a" opacity="0.85"/>
<rect x="1602" y="1098" width="5" height="5" fill="#74543a" opacity="0.85"/>
<rect x="1664" y="1094" width="9" height="9" fill="#74543a" opacity="0.85"/>
<rect x="1555" y="965" width="5" height="5" fill="#74543a" opacity="0.85"/>
<rect x="1626" y="1047" width="8" height="8" fill="#74543a" opacity="0.85"/>
<rect x="1565" y="965" width="9" height="9" fill="#74543a" opacity="0.85"/>
<rect x="1633" y="1065" width="6" height="6" fill="#74543a" opacity="0.85"/>
<rect x="1619" y="1113" width="6" height="6" fill="#74543a" opacity="0.85"/>
<rect x="1556" y="963" width="9" height="9" fill="#74543a" opacity="0.85"/>
<rect x="1609" y="1093" width="8" height="8" fill="#74543a" opacity="0.85"/>
<rect x="1587" y="1049" width="9" height="9" fill="#74543a" opacity="0.85"/>
<rect x="1576" y="1014" width="9" height="9" fill="#74543a" opacity="0.85"/>
<rect x="1616" y="1118" width="9" height="9" fill="#74543a" opacity="0.85"/>
<rect x="1616" y="1099" width="5" height="5" fill="#74543a" opacity="0.85"/>
<rect x="1636" y="1127" width="9" height="9" fill="#74543a" opacity="0.85"/>
<rect x="1546" y="998" width="5" height="5" fill="#74543a" opacity="0.85"/>
<rect x="1611" y="1063" width="9" height="9" fill="#74543a" opacity="0.85"/>
<rect x="1643" y="1131" width="8" height="8" fill="#74543a" opacity="0.85"/>
<rect x="1600" y="1085" width="5" height="5" fill="#74543a" opacity="0.85"/>
<rect x="1635" y="1048" width="5" height="5" fill="#74543a" opacity="0.85"/>
<rect x="1585" y="1023" width="5" height="5" fill="#74543a" opacity="0.85"/>
<rect x="1602" y="989" width="6" height="6" fill="#74543a" opacity="0.85"/>
<rect x="1591" y="1056" width="9" height="9" fill="#74543a" opacity="0.85"/>
<rect x="1573" y="1011" width="8" height="8" fill="#74543a" opacity="0.85"/>
<rect x="1616" y="1018" width="9" height="9" fill="#74543a" opacity="0.85"/>
<rect x="1596" y="1042" width="9" height="9" fill="#74543a" opacity="0.85"/>
<rect x="1575" y="982" width="6" height="6" fill="#74543a" opacity="0.85"/>
<rect x="1569" y="988" width="9" height="9" fill="#74543a" opacity="0.85"/>
<rect x="1664" y="1138" width="9" height="9" fill="#74543a" opacity="0.85"/>
<rect x="1597" y="1089" width="6" height="6" fill="#74543a" opacity="0.85"/>
<rect x="1604" y="995" width="8" height="8" fill="#74543a" opacity="0.85"/>
<rect x="1596" y="1076" width="9" height="9" fill="#74543a" opacity="0.85"/>
<rect x="1618" y="1078" width="8" height="8" fill="#74543a" opacity="0.85"/>
<rect x="1676" y="1123" width="8" height="8" fill="#74543a" opacity="0.85"/>
<rect x="1618" y="1045" width="6" height="6" fill="#74543a" opacity="0.85"/>
<rect x="1640" y="1056" width="9" height="9" fill="#74543a" opacity="0.85"/>
<rect x="1674" y="1092" width="9" height="9" fill="#74543a" opacity="0.85"/>
<rect x="1660" y="1081" width="5" height="5" fill="#74543a" opacity="0.85"/>
<rect x="1593" y="1062" width="9" height="9" fill="#74543a" opacity="0.85"/>
<path d="M1590.0,972.0 L1750.0,888.0 L1950.0,783.0 L2150.0,678.0 L2350.0,573.0 L2410.0,558.0 L2462.0,588.0 L2495.0,635.0 L2500.0,690.0 L2475.0,727.0 L2400.0,768.0 L2150.0,898.0 L1950.0,1002.0 L1750.0,1106.0 L1710.0,1142.0 L1670.0,1112.0 L1632.0,1062.0 L1602.0,1012.0 Z" fill="#6e8898" stroke="#1c140e" stroke-width="3" stroke-linejoin="round" />
<clipPath id="cclip1350"><path d="M1590,972 L1750,888 L1950,783 L2150,678 L2350,573 L2410,558 L2462,588 L2495,635 L2500,690 L2475,727 L2400,768 L2150,898 L1950,1002 L1750,1106 L1710,1142 L1670,1112 L1632,1062 L1602,1012 Z"/></clipPath>
<g clip-path="url(#cclip1350)">
<path d="M1557.9,989.1 L2443.3,524.3 L2451.2,539.3 L1565.8,1004.2 Z" fill="#a87850" />
<path d="M1632.6,1022.6 L1632.7,1022.4 L1632.8,1022.2 L1632.8,1022.0 L1632.9,1021.8 L1632.9,1021.6 L1632.9,1021.4 L1632.6,962.0 L1632.6,961.8 L1632.5,961.6 L1632.5,961.4 L1632.4,961.2 L1632.3,961.1 L1632.2,960.9 L1632.1,960.7 L1632.0,960.6 L1631.8,960.5 L1631.7,960.3 L1631.5,960.2 L1631.3,960.2 L1631.1,960.1 L1631.0,960.0 L1630.8,960.0 L1630.6,960.0 L1630.4,960.0 L1630.2,960.0 L1630.0,960.1 L1629.8,960.1 L1629.6,960.2 L1601.0,975.3 L1600.8,975.4 L1600.7,975.5 L1600.5,975.6 L1600.4,975.7 L1600.3,975.9 L1600.2,976.1 L1600.1,976.2 L1600.0,976.4 L1600.0,976.6 L1600.0,976.8 L1599.9,977.0 L1600.0,977.2 L1600.0,977.4 L1600.0,977.6 L1609.3,1008.5 L1609.4,1008.7 L1609.4,1008.8 L1609.5,1009.0 L1619.7,1025.9 L1619.8,1026.1 L1619.9,1026.2 L1620.0,1026.4 L1620.2,1026.5 L1620.4,1026.6 L1620.6,1026.7 L1620.7,1026.8 L1620.9,1026.8 L1621.1,1026.8 L1621.3,1026.9 L1621.5,1026.9 L1621.7,1026.8 L1630.0,1025.3 L1630.2,1025.3 L1630.4,1025.2 L1630.6,1025.1 L1630.8,1025.0 L1631.0,1024.9 L1631.1,1024.8 L1631.2,1024.6 L1631.4,1024.4 L1632.6,1022.6 Z" fill="#ac7a4e" stroke="#2a2018" stroke-width="3" stroke-linejoin="round"/>
<path d="M1621.9,1001.1 L1622.0,1001.0 L1622.0,1001.0 L1622.1,1000.9 L1622.1,1000.8 L1622.1,1000.7 L1622.1,1000.6 L1621.9,973.9 L1621.9,973.8 L1621.9,973.7 L1621.9,973.6 L1621.8,973.5 L1621.8,973.4 L1621.7,973.4 L1621.7,973.3 L1621.6,973.2 L1621.5,973.2 L1621.4,973.1 L1621.3,973.1 L1621.2,973.0 L1621.1,973.0 L1621.0,973.0 L1620.9,973.0 L1620.8,973.0 L1620.7,973.0 L1620.6,973.0 L1620.5,973.0 L1620.4,973.0 L1620.3,973.1 L1604.6,979.8 L1604.5,979.9 L1604.4,979.9 L1604.3,980.0 L1604.2,980.0 L1604.2,980.1 L1604.1,980.2 L1604.1,980.3 L1604.0,980.4 L1604.0,980.4 L1604.0,980.5 L1604.0,980.6 L1604.0,980.7 L1604.0,980.8 L1604.0,980.9 L1609.1,994.8 L1609.2,994.9 L1609.2,994.9 L1609.2,995.0 L1614.8,1002.6 L1614.9,1002.7 L1615.0,1002.8 L1615.0,1002.8 L1615.1,1002.9 L1615.2,1002.9 L1615.3,1003.0 L1615.4,1003.0 L1615.5,1003.0 L1615.6,1003.0 L1615.7,1003.1 L1615.9,1003.1 L1616.0,1003.0 L1620.5,1002.4 L1620.6,1002.3 L1620.8,1002.3 L1620.9,1002.3 L1621.0,1002.2 L1621.0,1002.2 L1621.1,1002.1 L1621.2,1002.0 L1621.3,1002.0 L1621.9,1001.1 Z" fill="#c89a6c" opacity="0.55"/>
<path d="M1718.1,959.0 L1718.3,959.1 L1718.4,959.2 L1718.6,959.2 L1718.8,959.2 L1719.0,959.3 L1719.2,959.3 L1719.4,959.2 L1719.6,959.2 L1719.8,959.1 L1719.9,959.0 L1720.1,958.9 L1720.3,958.8 L1720.4,958.7 L1720.6,958.6 L1720.7,958.4 L1730.6,944.5 L1730.9,944.0 L1745.0,928.6 L1745.4,928.2 L1761.7,913.7 L1762.1,913.4 L1770.2,907.6 L1770.3,907.5 L1770.5,907.3 L1777.1,900.1 L1777.2,900.0 L1777.3,899.8 L1777.4,899.7 L1777.4,899.5 L1777.5,899.3 L1777.5,899.1 L1777.6,898.9 L1777.6,898.8 L1777.6,898.6 L1777.5,898.4 L1777.5,898.2 L1777.4,898.0 L1777.3,897.8 L1777.2,897.7 L1770.7,888.1 L1770.6,888.0 L1770.5,887.9 L1770.3,887.7 L1770.2,887.6 L1770.0,887.5 L1769.8,887.4 L1769.7,887.4 L1769.5,887.3 L1769.3,887.3 L1769.1,887.3 L1768.9,887.3 L1768.7,887.3 L1768.5,887.4 L1768.3,887.4 L1768.2,887.5 L1678.9,934.3 L1678.8,934.4 L1678.6,934.6 L1678.5,934.7 L1678.3,934.8 L1678.2,935.0 L1678.1,935.2 L1678.0,935.3 L1678.0,935.5 L1677.9,935.7 L1677.9,935.9 L1677.9,936.1 L1677.9,936.3 L1677.9,936.5 L1677.9,936.7 L1678.0,936.9 L1678.1,937.0 L1678.2,937.2 L1678.3,937.4 L1678.4,937.5 L1678.6,937.7 L1678.7,937.8 L1678.9,937.9 L1718.1,959.0 Z" fill="#9c6a46" stroke="#2a2018" stroke-width="3" stroke-linejoin="round"/>
<path d="M1717.7,934.9 L1717.8,935.0 L1717.9,935.0 L1718.0,935.0 L1718.1,935.0 L1718.2,935.1 L1718.3,935.1 L1718.4,935.0 L1718.5,935.0 L1718.6,935.0 L1718.7,935.0 L1718.8,934.9 L1718.9,934.9 L1719.0,934.8 L1719.1,934.7 L1719.1,934.7 L1724.6,928.4 L1724.8,928.2 L1732.5,921.3 L1732.7,921.1 L1741.7,914.6 L1741.9,914.4 L1746.4,911.8 L1746.4,911.8 L1746.5,911.7 L1750.1,908.5 L1750.2,908.4 L1750.3,908.3 L1750.3,908.2 L1750.4,908.2 L1750.4,908.1 L1750.4,908.0 L1750.4,907.9 L1750.4,907.8 L1750.4,907.7 L1750.4,907.7 L1750.4,907.6 L1750.3,907.5 L1750.3,907.4 L1750.2,907.3 L1746.7,903.1 L1746.6,903.0 L1746.5,902.9 L1746.4,902.9 L1746.4,902.8 L1746.3,902.8 L1746.2,902.7 L1746.1,902.7 L1746.0,902.7 L1745.9,902.7 L1745.8,902.7 L1745.7,902.7 L1745.5,902.7 L1745.4,902.7 L1745.3,902.7 L1745.2,902.8 L1696.2,923.8 L1696.1,923.9 L1696.0,923.9 L1695.9,924.0 L1695.8,924.1 L1695.8,924.1 L1695.7,924.2 L1695.7,924.3 L1695.6,924.4 L1695.6,924.5 L1695.6,924.5 L1695.6,924.6 L1695.6,924.7 L1695.6,924.8 L1695.6,924.9 L1695.7,925.0 L1695.7,925.1 L1695.8,925.1 L1695.8,925.2 L1695.9,925.3 L1696.0,925.3 L1696.1,925.4 L1696.2,925.4 L1717.7,934.9 Z" fill="#c89a6c" opacity="0.55"/>
<path d="M1649.4,1071.4 L1649.5,1071.6 L1649.5,1071.8 L1649.6,1072.0 L1649.7,1072.1 L1666.0,1093.5 L1666.1,1093.6 L1666.2,1093.7 L1666.4,1093.9 L1666.5,1094.0 L1666.7,1094.0 L1666.9,1094.1 L1667.0,1094.2 L1667.2,1094.2 L1667.4,1094.2 L1667.6,1094.2 L1718.0,1093.1 L1718.2,1093.1 L1718.4,1093.1 L1718.6,1093.0 L1718.7,1093.0 L1718.9,1092.9 L1719.1,1092.8 L1719.2,1092.7 L1719.4,1092.5 L1719.5,1092.4 L1719.6,1092.2 L1719.7,1092.1 L1719.8,1091.9 L1731.1,1064.3 L1731.2,1064.1 L1731.2,1063.9 L1731.3,1063.7 L1731.3,1063.5 L1731.3,1063.3 L1731.2,1063.1 L1731.2,1062.9 L1731.1,1062.7 L1731.0,1062.6 L1730.9,1062.4 L1730.8,1062.2 L1730.7,1062.1 L1730.5,1062.0 L1730.4,1061.8 L1730.2,1061.7 L1730.2,1061.7 L1729.7,1061.5 L1729.3,1061.2 L1718.4,1051.9 L1718.1,1051.7 L1717.9,1051.4 L1717.7,1051.1 L1709.8,1039.9 L1709.6,1039.6 L1709.4,1039.3 L1709.2,1038.9 L1705.7,1029.2 L1705.6,1029.0 L1705.5,1028.8 L1705.4,1028.7 L1705.3,1028.5 L1705.1,1028.4 L1705.0,1028.3 L1704.8,1028.2 L1704.6,1028.1 L1704.4,1028.0 L1704.2,1027.9 L1704.0,1027.9 L1703.8,1027.9 L1640.2,1027.3 L1640.0,1027.3 L1639.8,1027.3 L1639.6,1027.3 L1639.4,1027.4 L1639.2,1027.5 L1639.0,1027.6 L1638.9,1027.7 L1638.7,1027.9 L1638.6,1028.0 L1638.5,1028.2 L1638.1,1028.7 L1638.0,1028.9 L1638.0,1029.0 L1637.9,1029.2 L1637.8,1029.4 L1637.8,1029.6 L1637.8,1029.8 L1637.8,1030.0 L1637.8,1030.2 L1637.9,1030.3 L1649.4,1071.4 Z" fill="#9c6a46" stroke="#2a2018" stroke-width="3" stroke-linejoin="round"/>
<path d="M1659.9,1060.2 L1660.0,1060.3 L1660.0,1060.4 L1660.1,1060.5 L1660.1,1060.5 L1669.0,1070.1 L1669.1,1070.2 L1669.2,1070.3 L1669.3,1070.3 L1669.3,1070.4 L1669.4,1070.4 L1669.5,1070.4 L1669.6,1070.5 L1669.7,1070.5 L1669.8,1070.5 L1669.9,1070.5 L1697.7,1070.0 L1697.8,1070.0 L1697.9,1070.0 L1698.0,1069.9 L1698.1,1069.9 L1698.2,1069.9 L1698.3,1069.8 L1698.3,1069.8 L1698.4,1069.7 L1698.5,1069.6 L1698.5,1069.6 L1698.6,1069.5 L1698.6,1069.4 L1704.9,1057.0 L1704.9,1056.9 L1704.9,1056.8 L1705.0,1056.7 L1705.0,1056.7 L1705.0,1056.6 L1704.9,1056.5 L1704.9,1056.4 L1704.9,1056.3 L1704.8,1056.2 L1704.8,1056.1 L1704.7,1056.1 L1704.6,1056.0 L1704.5,1056.0 L1704.5,1055.9 L1704.4,1055.9 L1704.3,1055.8 L1704.1,1055.7 L1703.9,1055.6 L1697.9,1051.4 L1697.7,1051.3 L1697.6,1051.2 L1697.5,1051.1 L1693.1,1046.0 L1693.0,1045.9 L1692.9,1045.7 L1692.8,1045.6 L1690.9,1041.2 L1690.8,1041.1 L1690.8,1041.1 L1690.7,1041.0 L1690.6,1040.9 L1690.6,1040.9 L1690.5,1040.8 L1690.4,1040.7 L1690.3,1040.7 L1690.2,1040.7 L1690.1,1040.7 L1690.0,1040.6 L1689.9,1040.6 L1654.9,1040.3 L1654.7,1040.3 L1654.6,1040.4 L1654.5,1040.4 L1654.4,1040.4 L1654.3,1040.5 L1654.2,1040.5 L1654.1,1040.6 L1654.1,1040.6 L1654.0,1040.7 L1653.9,1040.8 L1653.7,1041.0 L1653.7,1041.1 L1653.6,1041.1 L1653.6,1041.2 L1653.6,1041.3 L1653.6,1041.4 L1653.6,1041.5 L1653.6,1041.6 L1653.6,1041.6 L1653.6,1041.7 L1659.9,1060.2 Z" fill="#c89a6c" opacity="0.55"/>
<path d="M1676.5,1102.0 L1676.3,1102.1 L1676.1,1102.1 L1675.9,1102.2 L1675.7,1102.2 L1675.5,1102.3 L1675.4,1102.4 L1675.2,1102.5 L1675.1,1102.7 L1674.9,1102.8 L1674.8,1103.0 L1674.7,1103.2 L1674.6,1103.4 L1674.6,1103.6 L1674.5,1103.8 L1674.5,1103.9 L1674.5,1104.1 L1674.5,1104.3 L1674.6,1104.5 L1674.6,1104.7 L1674.7,1104.9 L1674.8,1105.1 L1674.9,1105.3 L1675.5,1106.0 L1675.6,1106.2 L1675.8,1106.3 L1675.9,1106.4 L1708.2,1130.7 L1708.4,1130.8 L1708.6,1130.9 L1708.7,1130.9 L1708.9,1131.0 L1709.1,1131.0 L1709.3,1131.1 L1709.5,1131.1 L1709.7,1131.0 L1709.9,1131.0 L1710.1,1131.0 L1710.3,1130.9 L1710.4,1130.8 L1710.6,1130.7 L1710.8,1130.6 L1726.1,1116.7 L1726.3,1116.6 L1726.4,1116.4 L1726.5,1116.3 L1726.6,1116.1 L1726.7,1115.9 L1726.7,1115.7 L1726.8,1115.5 L1726.8,1115.3 L1726.8,1115.1 L1726.8,1114.9 L1726.7,1114.7 L1726.6,1114.5 L1726.6,1114.3 L1720.2,1102.2 L1720.1,1102.0 L1720.0,1101.8 L1719.8,1101.7 L1719.7,1101.6 L1719.5,1101.4 L1719.4,1101.3 L1719.2,1101.3 L1719.0,1101.2 L1718.8,1101.1 L1718.6,1101.1 L1718.4,1101.1 L1676.5,1102.0 Z" fill="#ac7a4e" stroke="#2a2018" stroke-width="3" stroke-linejoin="round"/>
<path d="M1683.8,1102.9 L1683.7,1102.9 L1683.6,1102.9 L1683.5,1102.9 L1683.4,1102.9 L1683.3,1103.0 L1683.2,1103.0 L1683.1,1103.1 L1683.0,1103.2 L1683.0,1103.2 L1682.9,1103.3 L1682.9,1103.4 L1682.8,1103.5 L1682.8,1103.5 L1682.8,1103.6 L1682.7,1103.7 L1682.7,1103.8 L1682.8,1103.9 L1682.8,1104.0 L1682.8,1104.1 L1682.9,1104.2 L1682.9,1104.2 L1683.0,1104.3 L1683.3,1104.7 L1683.4,1104.7 L1683.4,1104.8 L1683.5,1104.8 L1701.3,1115.7 L1701.4,1115.8 L1701.5,1115.8 L1701.6,1115.9 L1701.7,1115.9 L1701.8,1115.9 L1701.9,1115.9 L1702.0,1115.9 L1702.1,1115.9 L1702.2,1115.9 L1702.3,1115.9 L1702.4,1115.8 L1702.5,1115.8 L1702.6,1115.8 L1702.7,1115.7 L1711.1,1109.5 L1711.2,1109.4 L1711.3,1109.3 L1711.3,1109.3 L1711.4,1109.2 L1711.4,1109.1 L1711.5,1109.0 L1711.5,1108.9 L1711.5,1108.8 L1711.5,1108.7 L1711.5,1108.6 L1711.5,1108.6 L1711.4,1108.5 L1711.4,1108.4 L1707.9,1102.9 L1707.8,1102.8 L1707.7,1102.8 L1707.7,1102.7 L1707.6,1102.6 L1707.5,1102.6 L1707.4,1102.5 L1707.3,1102.5 L1707.2,1102.5 L1707.1,1102.5 L1707.0,1102.4 L1706.9,1102.4 L1683.8,1102.9 Z" fill="#c89a6c" opacity="0.55"/>
<path d="M1668.0,941.1 L1667.8,941.0 L1667.6,940.9 L1667.5,940.9 L1667.3,940.8 L1667.1,940.8 L1666.9,940.8 L1666.7,940.9 L1666.5,940.9 L1666.3,941.0 L1666.1,941.1 L1641.6,953.9 L1641.4,954.0 L1641.3,954.2 L1641.1,954.3 L1641.0,954.4 L1640.9,954.6 L1640.8,954.8 L1640.7,955.0 L1640.6,955.1 L1640.6,955.3 L1640.5,955.5 L1640.5,955.7 L1640.9,1017.3 L1640.9,1017.5 L1640.9,1017.7 L1641.0,1017.9 L1641.1,1018.1 L1641.1,1018.2 L1641.2,1018.4 L1641.4,1018.6 L1641.5,1018.7 L1641.6,1018.8 L1641.8,1019.0 L1642.0,1019.1 L1642.1,1019.1 L1642.3,1019.2 L1642.5,1019.3 L1642.7,1019.3 L1642.9,1019.3 L1701.5,1019.9 L1701.7,1019.9 L1701.9,1019.8 L1702.1,1019.8 L1702.3,1019.7 L1702.5,1019.6 L1702.7,1019.5 L1702.8,1019.4 L1703.0,1019.3 L1703.1,1019.2 L1703.2,1019.0 L1703.3,1018.8 L1703.4,1018.6 L1703.5,1018.5 L1703.5,1018.3 L1703.5,1018.1 L1703.6,1017.9 L1703.5,1017.7 L1702.9,1010.8 L1702.8,1010.3 L1702.9,1009.8 L1704.8,994.5 L1704.9,994.1 L1705.0,993.7 L1710.2,977.8 L1710.3,977.5 L1710.5,977.1 L1714.9,968.6 L1715.0,968.5 L1715.1,968.3 L1715.1,968.1 L1715.1,967.9 L1715.1,967.7 L1715.1,967.5 L1715.1,967.3 L1715.1,967.1 L1715.0,966.9 L1714.9,966.8 L1714.8,966.6 L1714.7,966.4 L1714.6,966.3 L1714.4,966.2 L1714.3,966.1 L1714.1,966.0 L1668.0,941.1 Z" fill="#a87450" stroke="#2a2018" stroke-width="3" stroke-linejoin="round"/>
<path d="M1665.3,959.5 L1665.2,959.5 L1665.1,959.5 L1665.0,959.4 L1664.9,959.4 L1664.8,959.4 L1664.7,959.4 L1664.6,959.4 L1664.5,959.4 L1664.4,959.5 L1664.3,959.5 L1650.8,965.3 L1650.7,965.4 L1650.6,965.4 L1650.5,965.5 L1650.5,965.5 L1650.4,965.6 L1650.3,965.7 L1650.3,965.8 L1650.3,965.8 L1650.2,965.9 L1650.2,966.0 L1650.2,966.1 L1650.4,993.8 L1650.4,993.9 L1650.4,994.0 L1650.5,994.1 L1650.5,994.2 L1650.6,994.2 L1650.6,994.3 L1650.7,994.4 L1650.7,994.5 L1650.8,994.5 L1650.9,994.6 L1651.0,994.6 L1651.1,994.6 L1651.2,994.7 L1651.3,994.7 L1651.4,994.7 L1651.5,994.7 L1683.8,995.0 L1683.9,995.0 L1684.0,995.0 L1684.1,994.9 L1684.2,994.9 L1684.3,994.9 L1684.4,994.8 L1684.5,994.8 L1684.6,994.7 L1684.6,994.7 L1684.7,994.6 L1684.8,994.5 L1684.8,994.4 L1684.8,994.3 L1684.9,994.3 L1684.9,994.2 L1684.9,994.1 L1684.9,994.0 L1684.5,990.9 L1684.5,990.7 L1684.5,990.4 L1685.6,983.6 L1685.6,983.4 L1685.7,983.2 L1688.5,976.0 L1688.6,975.9 L1688.7,975.7 L1691.1,971.9 L1691.2,971.8 L1691.2,971.8 L1691.2,971.7 L1691.3,971.6 L1691.3,971.5 L1691.3,971.4 L1691.2,971.3 L1691.2,971.2 L1691.2,971.2 L1691.1,971.1 L1691.1,971.0 L1691.0,970.9 L1690.9,970.9 L1690.9,970.8 L1690.8,970.8 L1690.7,970.7 L1665.3,959.5 Z" fill="#c89a6c" opacity="0.55"/>
<path d="M1726.8,1096.0 L1726.7,1096.1 L1726.7,1096.3 L1726.6,1096.5 L1726.6,1096.7 L1726.6,1096.9 L1726.7,1097.1 L1726.7,1097.3 L1726.8,1097.5 L1726.9,1097.6 L1732.2,1107.9 L1732.3,1108.0 L1732.4,1108.2 L1732.6,1108.3 L1732.7,1108.5 L1732.8,1108.6 L1733.0,1108.7 L1733.2,1108.8 L1733.4,1108.9 L1733.5,1108.9 L1733.7,1108.9 L1733.9,1109.0 L1734.1,1108.9 L1734.3,1108.9 L1734.5,1108.9 L1734.7,1108.8 L1734.9,1108.8 L1735.0,1108.7 L1735.2,1108.6 L1735.3,1108.4 L1744.6,1100.1 L1744.8,1099.9 L1745.0,1099.8 L1745.3,1099.5 L1745.5,1099.4 L1745.9,1099.1 L1746.1,1099.0 L1746.3,1098.9 L1782.7,1080.0 L1782.8,1079.9 L1783.0,1079.8 L1783.1,1079.7 L1783.3,1079.5 L1783.4,1079.3 L1783.5,1079.2 L1783.6,1079.0 L1783.6,1078.8 L1783.7,1078.6 L1783.7,1078.4 L1783.7,1078.2 L1783.7,1078.0 L1783.7,1077.8 L1783.7,1077.6 L1783.6,1077.5 L1783.5,1077.3 L1783.4,1077.1 L1783.3,1076.9 L1783.1,1076.8 L1783.0,1076.7 L1782.8,1076.6 L1782.7,1076.5 L1782.5,1076.4 L1782.3,1076.3 L1782.1,1076.3 L1781.9,1076.2 L1781.7,1076.2 L1780.0,1076.2 L1779.3,1076.2 L1761.3,1074.0 L1761.0,1073.9 L1760.6,1073.8 L1744.6,1069.1 L1744.2,1069.0 L1743.8,1068.8 L1740.9,1067.3 L1740.7,1067.2 L1740.5,1067.1 L1740.3,1067.1 L1740.1,1067.1 L1740.0,1067.1 L1739.8,1067.1 L1739.6,1067.1 L1739.4,1067.1 L1739.2,1067.2 L1739.0,1067.3 L1738.8,1067.4 L1738.7,1067.5 L1738.6,1067.7 L1738.4,1067.8 L1738.3,1068.0 L1738.2,1068.1 L1738.1,1068.3 L1726.8,1096.0 Z" fill="#b88658" stroke="#2a2018" stroke-width="3" stroke-linejoin="round"/>
<path d="M1731.8,1085.3 L1731.8,1085.3 L1731.8,1085.4 L1731.8,1085.5 L1731.7,1085.6 L1731.8,1085.7 L1731.8,1085.8 L1731.8,1085.9 L1731.8,1085.9 L1731.9,1086.0 L1734.8,1090.6 L1734.9,1090.7 L1734.9,1090.8 L1735.0,1090.8 L1735.1,1090.9 L1735.2,1090.9 L1735.3,1091.0 L1735.4,1091.0 L1735.5,1091.1 L1735.6,1091.1 L1735.7,1091.1 L1735.8,1091.1 L1735.9,1091.1 L1736.0,1091.1 L1736.1,1091.1 L1736.2,1091.0 L1736.3,1091.0 L1736.4,1091.0 L1736.5,1090.9 L1736.5,1090.9 L1741.7,1087.1 L1741.7,1087.0 L1741.9,1087.0 L1742.0,1086.8 L1742.2,1086.8 L1742.4,1086.7 L1742.5,1086.6 L1742.6,1086.6 L1762.6,1078.1 L1762.7,1078.0 L1762.7,1078.0 L1762.8,1077.9 L1762.9,1077.9 L1763.0,1077.8 L1763.0,1077.7 L1763.1,1077.6 L1763.1,1077.5 L1763.1,1077.5 L1763.2,1077.4 L1763.2,1077.3 L1763.2,1077.2 L1763.1,1077.1 L1763.1,1077.0 L1763.1,1076.9 L1763.0,1076.8 L1763.0,1076.8 L1762.9,1076.7 L1762.8,1076.6 L1762.8,1076.6 L1762.7,1076.5 L1762.6,1076.5 L1762.5,1076.4 L1762.4,1076.4 L1762.3,1076.4 L1762.2,1076.4 L1762.0,1076.4 L1761.1,1076.4 L1760.7,1076.4 L1750.8,1075.4 L1750.6,1075.3 L1750.4,1075.3 L1741.6,1073.2 L1741.4,1073.1 L1741.2,1073.0 L1739.6,1072.3 L1739.5,1072.3 L1739.4,1072.3 L1739.3,1072.3 L1739.2,1072.3 L1739.1,1072.2 L1739.0,1072.3 L1738.9,1072.3 L1738.8,1072.3 L1738.7,1072.3 L1738.6,1072.4 L1738.5,1072.4 L1738.4,1072.5 L1738.3,1072.5 L1738.2,1072.6 L1738.2,1072.7 L1738.1,1072.7 L1738.1,1072.8 L1731.8,1085.3 Z" fill="#c89a6c" opacity="0.55"/>
<path d="M1810.6,883.7 L1810.7,883.6 L1821.9,878.4 L1822.3,878.2 L1843.6,870.7 L1844.1,870.5 L1855.4,867.7 L1855.6,867.6 L1880.1,858.9 L1880.3,858.9 L1880.4,858.8 L1880.6,858.7 L1880.7,858.6 L1880.9,858.4 L1881.0,858.3 L1881.1,858.1 L1881.2,857.9 L1881.3,857.8 L1881.3,857.6 L1881.4,857.4 L1881.4,857.2 L1881.4,857.0 L1881.4,856.8 L1881.4,856.6 L1881.3,856.4 L1874.2,834.5 L1874.1,834.3 L1874.1,834.1 L1873.9,834.0 L1873.8,833.8 L1873.7,833.7 L1873.6,833.5 L1873.4,833.4 L1873.2,833.3 L1873.1,833.2 L1872.9,833.2 L1872.7,833.1 L1872.5,833.1 L1872.3,833.1 L1872.1,833.1 L1871.9,833.1 L1871.7,833.2 L1871.5,833.2 L1871.4,833.3 L1778.9,881.9 L1778.7,882.0 L1778.5,882.1 L1778.4,882.2 L1778.2,882.4 L1778.1,882.5 L1778.0,882.7 L1777.9,882.9 L1777.9,883.1 L1777.8,883.3 L1777.8,883.5 L1777.8,883.7 L1777.8,883.9 L1777.8,884.1 L1777.9,884.3 L1777.9,884.4 L1778.0,884.6 L1778.1,884.8 L1783.0,891.9 L1783.1,892.1 L1783.2,892.2 L1783.4,892.3 L1783.6,892.5 L1783.7,892.6 L1783.9,892.6 L1784.1,892.7 L1784.3,892.8 L1784.5,892.8 L1784.7,892.8 L1784.9,892.8 L1785.1,892.7 L1785.3,892.7 L1810.6,883.7 Z" fill="#b27e54" stroke="#2a2018" stroke-width="3" stroke-linejoin="round"/>
<path d="M1816.7,867.7 L1816.8,867.6 L1822.9,865.3 L1823.1,865.2 L1834.8,861.8 L1835.1,861.7 L1841.3,860.5 L1841.4,860.4 L1854.9,856.5 L1855.0,856.5 L1855.1,856.4 L1855.2,856.4 L1855.3,856.3 L1855.3,856.3 L1855.4,856.2 L1855.5,856.1 L1855.5,856.1 L1855.6,856.0 L1855.6,855.9 L1855.6,855.8 L1855.6,855.7 L1855.6,855.7 L1855.6,855.6 L1855.6,855.5 L1855.6,855.4 L1851.7,845.5 L1851.6,845.4 L1851.6,845.3 L1851.5,845.3 L1851.5,845.2 L1851.4,845.1 L1851.3,845.1 L1851.2,845.0 L1851.1,845.0 L1851.0,845.0 L1850.9,844.9 L1850.8,844.9 L1850.7,844.9 L1850.6,844.9 L1850.5,844.9 L1850.4,844.9 L1850.3,844.9 L1850.2,845.0 L1850.1,845.0 L1799.2,866.8 L1799.1,866.9 L1799.0,866.9 L1799.0,867.0 L1798.9,867.1 L1798.8,867.1 L1798.8,867.2 L1798.7,867.3 L1798.7,867.4 L1798.7,867.5 L1798.6,867.6 L1798.6,867.6 L1798.6,867.7 L1798.7,867.8 L1798.7,867.9 L1798.7,868.0 L1798.8,868.1 L1798.8,868.2 L1801.5,871.4 L1801.6,871.4 L1801.6,871.5 L1801.7,871.6 L1801.8,871.6 L1801.9,871.7 L1802.0,871.7 L1802.1,871.7 L1802.2,871.7 L1802.3,871.7 L1802.4,871.7 L1802.6,871.7 L1802.7,871.7 L1802.8,871.7 L1816.7,867.7 Z" fill="#c89a6c" opacity="0.55"/>
<path d="M2034.9,791.5 L2035.1,791.4 L2035.3,791.4 L2035.5,791.3 L2035.7,791.2 L2035.8,791.1 L2036.0,791.0 L2036.1,790.8 L2036.3,790.7 L2036.4,790.5 L2036.5,790.4 L2036.5,790.2 L2036.6,790.0 L2036.6,789.8 L2036.7,789.6 L2036.7,789.4 L2036.7,789.2 L2032.0,752.0 L2032.0,751.8 L2032.0,751.6 L2031.9,751.5 L2031.8,751.3 L2031.7,751.1 L2031.6,751.0 L2031.4,750.8 L2031.3,750.7 L2031.1,750.6 L2031.0,750.5 L2030.8,750.4 L2030.6,750.4 L2030.4,750.3 L2030.2,750.3 L2030.0,750.3 L2029.9,750.3 L2029.7,750.3 L2029.5,750.4 L2029.3,750.4 L2029.1,750.5 L1964.3,784.5 L1964.1,784.6 L1964.0,784.7 L1963.8,784.9 L1963.7,785.0 L1963.6,785.2 L1963.5,785.3 L1963.4,785.5 L1963.3,785.7 L1963.3,785.9 L1963.3,786.1 L1963.2,786.3 L1963.2,786.5 L1963.3,786.7 L1963.3,786.8 L1963.4,787.0 L1963.5,787.2 L1963.6,787.4 L1963.7,787.5 L1972.3,798.4 L1972.4,798.5 L1972.6,798.7 L1972.7,798.8 L1972.9,798.9 L1973.1,799.0 L1973.3,799.1 L1973.5,799.1 L1973.7,799.1 L1973.9,799.2 L1974.1,799.1 L2034.9,791.5 Z" fill="#a87450" stroke="#2a2018" stroke-width="3" stroke-linejoin="round"/>
<path d="M2016.7,779.8 L2016.9,779.7 L2017.0,779.7 L2017.1,779.7 L2017.2,779.7 L2017.2,779.6 L2017.3,779.5 L2017.4,779.5 L2017.5,779.4 L2017.5,779.3 L2017.6,779.3 L2017.6,779.2 L2017.7,779.1 L2017.7,779.0 L2017.7,778.9 L2017.7,778.8 L2017.7,778.8 L2015.2,762.0 L2015.1,761.9 L2015.1,761.8 L2015.1,761.8 L2015.0,761.7 L2015.0,761.6 L2014.9,761.5 L2014.8,761.5 L2014.8,761.4 L2014.7,761.4 L2014.6,761.3 L2014.5,761.3 L2014.4,761.3 L2014.3,761.2 L2014.2,761.2 L2014.1,761.2 L2014.0,761.2 L2013.9,761.2 L2013.8,761.3 L2013.7,761.3 L2013.6,761.3 L1977.9,776.6 L1977.8,776.7 L1977.7,776.7 L1977.6,776.8 L1977.6,776.9 L1977.5,776.9 L1977.5,777.0 L1977.4,777.1 L1977.4,777.2 L1977.3,777.3 L1977.3,777.3 L1977.3,777.4 L1977.3,777.5 L1977.3,777.6 L1977.4,777.7 L1977.4,777.8 L1977.4,777.8 L1977.5,777.9 L1977.6,778.0 L1982.3,782.9 L1982.4,783.0 L1982.4,783.0 L1982.5,783.1 L1982.6,783.1 L1982.7,783.2 L1982.8,783.2 L1982.9,783.2 L1983.1,783.2 L1983.2,783.2 L1983.3,783.2 L2016.7,779.8 Z" fill="#c89a6c" opacity="0.55"/>
<path d="M1930.1,861.6 L1929.9,861.6 L1929.7,861.7 L1929.5,861.7 L1929.3,861.8 L1929.2,861.9 L1929.0,862.0 L1928.8,862.2 L1928.7,862.3 L1928.6,862.5 L1928.5,862.6 L1928.4,862.8 L1928.3,863.0 L1928.3,863.2 L1928.2,863.4 L1928.2,863.6 L1928.2,863.8 L1928.2,864.0 L1928.3,864.2 L1928.4,864.4 L1928.4,864.6 L1928.5,864.7 L1928.7,864.9 L1928.8,865.0 L1928.9,865.2 L1929.1,865.3 L1929.3,865.4 L1929.5,865.5 L1929.7,865.5 L1942.1,869.2 L1942.5,869.3 L1942.9,869.5 L1956.5,876.6 L1957.0,876.8 L1957.4,877.1 L1968.3,886.4 L1968.5,886.6 L1968.8,886.9 L1969.0,887.2 L1976.3,897.5 L1976.4,897.7 L1976.6,897.8 L1976.7,897.9 L1976.9,898.1 L1977.0,898.2 L1977.2,898.2 L1977.4,898.3 L1977.6,898.3 L1977.8,898.4 L1978.0,898.4 L1978.2,898.3 L1978.4,898.3 L1978.6,898.3 L1978.7,898.2 L1978.9,898.1 L1979.1,898.0 L1979.2,897.9 L1979.4,897.7 L1979.5,897.6 L1979.6,897.4 L1980.5,896.1 L1980.6,895.9 L1980.7,895.7 L1980.7,895.5 L1980.8,895.3 L1980.8,895.1 L1980.8,894.9 L1980.8,894.7 L1978.3,879.5 L1978.2,879.3 L1978.2,879.2 L1978.1,879.0 L1978.0,878.8 L1977.9,878.7 L1977.8,878.5 L1961.3,860.4 L1961.1,860.3 L1961.0,860.2 L1960.8,860.1 L1960.6,860.0 L1960.5,859.9 L1960.3,859.8 L1960.1,859.8 L1959.9,859.8 L1959.7,859.8 L1930.1,861.6 Z" fill="#b27e54" stroke="#2a2018" stroke-width="3" stroke-linejoin="round"/>
<path d="M1938.5,863.3 L1938.4,863.3 L1938.3,863.3 L1938.2,863.3 L1938.1,863.3 L1938.0,863.4 L1937.9,863.4 L1937.8,863.5 L1937.8,863.6 L1937.7,863.6 L1937.6,863.7 L1937.6,863.8 L1937.5,863.9 L1937.5,864.0 L1937.5,864.1 L1937.5,864.1 L1937.5,864.2 L1937.5,864.3 L1937.5,864.4 L1937.6,864.5 L1937.6,864.6 L1937.7,864.7 L1937.7,864.7 L1937.8,864.8 L1937.9,864.9 L1938.0,864.9 L1938.1,865.0 L1938.2,865.0 L1938.3,865.0 L1945.1,866.7 L1945.4,866.7 L1945.6,866.8 L1953.1,870.0 L1953.3,870.1 L1953.5,870.2 L1959.5,874.4 L1959.7,874.5 L1959.8,874.6 L1959.9,874.8 L1963.9,879.4 L1964.0,879.5 L1964.1,879.5 L1964.2,879.6 L1964.3,879.7 L1964.4,879.7 L1964.4,879.7 L1964.6,879.8 L1964.7,879.8 L1964.8,879.8 L1964.9,879.8 L1965.0,879.8 L1965.1,879.8 L1965.2,879.7 L1965.3,879.7 L1965.4,879.7 L1965.5,879.6 L1965.6,879.6 L1965.6,879.5 L1965.7,879.4 L1965.8,879.4 L1966.2,878.8 L1966.3,878.7 L1966.4,878.6 L1966.4,878.5 L1966.4,878.4 L1966.4,878.3 L1966.4,878.2 L1966.4,878.1 L1965.0,871.3 L1965.0,871.2 L1965.0,871.2 L1964.9,871.1 L1964.9,871.0 L1964.8,870.9 L1964.7,870.9 L1955.7,862.7 L1955.6,862.7 L1955.5,862.6 L1955.4,862.6 L1955.3,862.5 L1955.2,862.5 L1955.1,862.5 L1955.0,862.4 L1954.9,862.4 L1954.8,862.4 L1938.5,863.3 Z" fill="#c89a6c" opacity="0.55"/>
<path d="M2049.9,920.6 L2049.8,920.7 L2049.7,920.9 L2049.6,921.1 L2049.6,921.3 L2049.5,921.5 L2049.5,921.7 L2049.5,921.9 L2049.5,922.0 L2049.5,922.2 L2052.3,936.9 L2052.3,937.1 L2052.4,937.3 L2052.5,937.4 L2052.6,937.6 L2052.7,937.8 L2052.8,937.9 L2053.0,938.1 L2053.1,938.2 L2053.3,938.3 L2053.5,938.4 L2053.6,938.4 L2053.8,938.5 L2054.0,938.5 L2054.2,938.5 L2054.4,938.5 L2054.6,938.5 L2054.8,938.4 L2055.0,938.4 L2055.2,938.3 L2119.1,905.1 L2119.2,905.0 L2119.4,904.8 L2119.6,904.7 L2119.7,904.6 L2119.8,904.4 L2119.9,904.2 L2120.0,904.1 L2120.1,903.9 L2120.1,903.7 L2120.1,903.5 L2120.2,903.3 L2120.1,903.1 L2120.1,902.9 L2120.1,902.7 L2120.0,902.5 L2119.9,902.3 L2119.8,902.2 L2119.7,902.0 L2119.6,901.9 L2119.4,901.7 L2119.2,901.6 L2119.1,901.5 L2118.9,901.4 L2118.7,901.4 L2118.5,901.3 L2118.3,901.3 L2118.1,901.3 L2117.9,901.3 L2117.7,901.3 L2117.5,901.4 L2113.3,902.8 L2112.7,902.9 L2104.9,904.4 L2104.3,904.5 L2096.6,905.0 L2095.9,905.0 L2088.6,904.5 L2088.2,904.4 L2087.9,904.4 L2081.0,902.8 L2080.7,902.8 L2080.3,902.6 L2074.1,900.1 L2073.8,899.9 L2073.4,899.7 L2071.0,898.2 L2070.8,898.1 L2070.7,898.0 L2070.5,898.0 L2070.3,897.9 L2070.1,897.9 L2069.9,897.9 L2069.7,897.9 L2069.5,897.9 L2069.3,898.0 L2069.2,898.0 L2069.0,898.1 L2068.8,898.2 L2068.7,898.3 L2068.5,898.5 L2068.4,898.6 L2049.9,920.6 Z" fill="#a87450" stroke="#2a2018" stroke-width="3" stroke-linejoin="round"/>
<path d="M2056.7,913.0 L2056.7,913.0 L2056.6,913.1 L2056.6,913.2 L2056.5,913.3 L2056.5,913.4 L2056.5,913.4 L2056.5,913.5 L2056.5,913.6 L2056.5,913.7 L2058.0,920.3 L2058.0,920.4 L2058.1,920.5 L2058.1,920.5 L2058.2,920.6 L2058.2,920.7 L2058.3,920.8 L2058.4,920.8 L2058.5,920.9 L2058.6,920.9 L2058.7,921.0 L2058.8,921.0 L2058.9,921.0 L2059.0,921.0 L2059.1,921.0 L2059.2,921.0 L2059.3,921.0 L2059.4,921.0 L2059.5,921.0 L2059.6,920.9 L2094.8,906.0 L2094.9,905.9 L2094.9,905.9 L2095.0,905.8 L2095.1,905.7 L2095.2,905.7 L2095.2,905.6 L2095.3,905.5 L2095.3,905.4 L2095.3,905.4 L2095.4,905.3 L2095.4,905.2 L2095.4,905.1 L2095.3,905.0 L2095.3,904.9 L2095.3,904.8 L2095.2,904.7 L2095.2,904.7 L2095.1,904.6 L2095.0,904.5 L2094.9,904.5 L2094.9,904.4 L2094.8,904.4 L2094.7,904.3 L2094.6,904.3 L2094.5,904.3 L2094.3,904.3 L2094.2,904.3 L2094.1,904.3 L2094.0,904.3 L2093.9,904.3 L2091.6,904.9 L2091.3,905.0 L2087.0,905.7 L2086.6,905.7 L2082.4,905.9 L2082.0,905.9 L2078.0,905.7 L2077.8,905.7 L2077.6,905.7 L2073.8,905.0 L2073.6,904.9 L2073.5,904.9 L2070.0,903.7 L2069.8,903.7 L2069.6,903.6 L2068.3,902.9 L2068.2,902.8 L2068.1,902.8 L2068.0,902.8 L2067.9,902.8 L2067.8,902.7 L2067.7,902.7 L2067.6,902.7 L2067.5,902.8 L2067.4,902.8 L2067.3,902.8 L2067.2,902.8 L2067.1,902.9 L2067.0,902.9 L2067.0,903.0 L2066.9,903.1 L2056.7,913.0 Z" fill="#c89a6c" opacity="0.55"/>
<path d="M1968.7,975.5 L1968.7,975.7 L1968.6,975.8 L1968.5,976.0 L1968.5,976.2 L1968.5,976.4 L1968.5,976.6 L1968.5,976.8 L1968.6,977.0 L1968.6,977.1 L1968.7,977.3 L1968.8,977.5 L1970.5,980.2 L1970.6,980.4 L1970.8,980.5 L1970.9,980.7 L1971.1,980.8 L1971.2,980.9 L1971.4,981.0 L1971.6,981.1 L1971.8,981.1 L1972.0,981.2 L1972.2,981.2 L1972.4,981.2 L1972.6,981.1 L1972.8,981.1 L1973.0,981.0 L1973.2,980.9 L2044.0,944.1 L2044.2,944.0 L2044.4,943.9 L2044.5,943.7 L2044.6,943.6 L2044.8,943.4 L2044.9,943.3 L2045.0,943.1 L2045.0,942.9 L2045.1,942.7 L2045.1,942.5 L2045.1,942.3 L2045.1,942.1 L2045.1,941.9 L2041.7,924.2 L2041.7,924.0 L2041.6,923.8 L2041.5,923.6 L2041.4,923.4 L2041.3,923.3 L2041.2,923.1 L2041.0,923.0 L2040.9,922.9 L2040.7,922.8 L2040.5,922.7 L1988.2,901.8 L1988.1,901.8 L1987.9,901.7 L1987.7,901.7 L1987.5,901.7 L1987.3,901.7 L1987.1,901.7 L1986.9,901.8 L1986.7,901.9 L1986.5,901.9 L1986.4,902.0 L1986.2,902.2 L1986.1,902.3 L1985.9,902.5 L1985.8,902.6 L1981.8,909.0 L1981.7,909.2 L1981.6,909.4 L1981.6,909.5 L1981.5,909.7 L1981.5,909.9 L1981.5,910.2 L1981.5,910.4 L1981.5,910.6 L1981.6,910.7 L1982.2,912.3 L1982.3,912.6 L1982.4,912.9 L1982.4,913.3 L1983.8,927.5 L1983.8,928.0 L1983.8,928.5 L1981.9,943.8 L1981.8,944.2 L1981.7,944.6 L1976.5,960.5 L1976.3,960.8 L1976.2,961.2 L1968.7,975.5 Z" fill="#9c6a46" stroke="#2a2018" stroke-width="3" stroke-linejoin="round"/>
<path d="M1980.1,950.4 L1980.0,950.5 L1980.0,950.6 L1980.0,950.7 L1979.9,950.8 L1979.9,950.9 L1979.9,950.9 L1979.9,951.0 L1980.0,951.1 L1980.0,951.2 L1980.0,951.3 L1980.1,951.3 L1981.0,952.6 L1981.1,952.6 L1981.2,952.7 L1981.3,952.8 L1981.3,952.8 L1981.4,952.9 L1981.5,952.9 L1981.6,953.0 L1981.7,953.0 L1981.8,953.0 L1982.0,953.0 L1982.1,953.0 L1982.2,953.0 L1982.3,953.0 L1982.4,952.9 L1982.5,952.9 L2021.5,936.3 L2021.6,936.3 L2021.7,936.2 L2021.7,936.2 L2021.8,936.1 L2021.9,936.0 L2021.9,935.9 L2022.0,935.9 L2022.0,935.8 L2022.0,935.7 L2022.1,935.6 L2022.1,935.5 L2022.1,935.4 L2022.0,935.3 L2020.2,927.3 L2020.2,927.3 L2020.1,927.2 L2020.1,927.1 L2020.0,927.0 L2020.0,926.9 L2019.9,926.9 L2019.8,926.8 L2019.7,926.8 L2019.6,926.7 L2019.5,926.7 L1990.8,917.3 L1990.7,917.3 L1990.6,917.2 L1990.5,917.2 L1990.4,917.2 L1990.3,917.2 L1990.1,917.3 L1990.0,917.3 L1989.9,917.3 L1989.8,917.3 L1989.7,917.4 L1989.7,917.4 L1989.6,917.5 L1989.5,917.6 L1989.4,917.6 L1987.2,920.5 L1987.2,920.6 L1987.1,920.7 L1987.1,920.8 L1987.1,920.9 L1987.1,920.9 L1987.1,921.0 L1987.1,921.1 L1987.1,921.2 L1987.1,921.3 L1987.4,922.0 L1987.5,922.1 L1987.5,922.3 L1987.6,922.5 L1988.4,928.9 L1988.4,929.1 L1988.3,929.3 L1987.3,936.2 L1987.2,936.4 L1987.2,936.5 L1984.3,943.7 L1984.2,943.8 L1984.2,944.0 L1980.1,950.4 Z" fill="#c89a6c" opacity="0.55"/>
<path d="M1957.3,851.9 L1957.5,851.9 L1957.7,851.9 L1957.9,851.8 L1958.0,851.7 L1958.2,851.6 L1958.4,851.5 L1958.5,851.4 L1958.7,851.3 L1958.8,851.1 L1958.9,851.0 L1959.0,850.8 L1959.1,850.6 L1959.1,850.4 L1959.2,850.3 L1966.8,805.5 L1966.9,805.3 L1966.9,805.1 L1966.9,804.9 L1966.8,804.8 L1966.8,804.6 L1966.7,804.4 L1966.6,804.2 L1966.5,804.1 L1966.4,803.9 L1956.0,790.7 L1955.9,790.6 L1955.7,790.4 L1955.6,790.3 L1955.4,790.2 L1955.2,790.1 L1955.0,790.1 L1954.8,790.0 L1954.6,790.0 L1954.5,790.0 L1954.3,790.0 L1954.1,790.0 L1953.9,790.0 L1953.7,790.1 L1953.5,790.2 L1882.2,827.7 L1882.0,827.8 L1881.8,827.9 L1881.7,828.0 L1881.5,828.2 L1881.4,828.3 L1881.3,828.5 L1881.2,828.7 L1881.2,828.9 L1881.1,829.1 L1881.1,829.3 L1881.1,829.5 L1881.1,829.7 L1881.1,829.8 L1881.2,830.0 L1889.1,854.6 L1889.2,854.8 L1889.3,855.0 L1889.4,855.2 L1889.5,855.3 L1889.7,855.5 L1889.8,855.6 L1890.0,855.7 L1890.2,855.8 L1890.4,855.9 L1890.6,856.0 L1890.8,856.0 L1891.0,856.0 L1891.2,856.0 L1957.3,851.9 Z" fill="#b88658" stroke="#2a2018" stroke-width="3" stroke-linejoin="round"/>
<path d="M1939.3,833.9 L1939.4,833.9 L1939.5,833.9 L1939.6,833.9 L1939.7,833.9 L1939.8,833.8 L1939.9,833.8 L1940.0,833.7 L1940.1,833.7 L1940.1,833.6 L1940.2,833.5 L1940.2,833.4 L1940.3,833.4 L1940.3,833.3 L1940.3,833.2 L1944.6,813.1 L1944.6,813.0 L1944.6,812.9 L1944.6,812.8 L1944.6,812.7 L1944.5,812.6 L1944.5,812.6 L1944.5,812.5 L1944.4,812.4 L1944.3,812.3 L1938.6,806.4 L1938.5,806.3 L1938.5,806.3 L1938.4,806.2 L1938.3,806.2 L1938.2,806.1 L1938.1,806.1 L1938.0,806.1 L1937.9,806.1 L1937.8,806.1 L1937.6,806.1 L1937.5,806.1 L1937.4,806.1 L1937.3,806.1 L1937.2,806.2 L1898.0,823.0 L1897.9,823.1 L1897.8,823.1 L1897.7,823.2 L1897.6,823.3 L1897.6,823.3 L1897.5,823.4 L1897.5,823.5 L1897.4,823.6 L1897.4,823.7 L1897.4,823.7 L1897.4,823.8 L1897.4,823.9 L1897.4,824.0 L1897.5,824.1 L1901.8,835.2 L1901.9,835.3 L1901.9,835.3 L1902.0,835.4 L1902.0,835.5 L1902.1,835.6 L1902.2,835.6 L1902.3,835.7 L1902.4,835.7 L1902.5,835.7 L1902.6,835.8 L1902.7,835.8 L1902.8,835.8 L1902.9,835.8 L1939.3,833.9 Z" fill="#c89a6c" opacity="0.55"/>
<path d="M2055.6,829.0 L2055.8,828.9 L2055.9,828.8 L2056.1,828.7 L2056.2,828.5 L2056.3,828.3 L2056.4,828.2 L2056.5,828.0 L2056.5,827.8 L2056.6,827.6 L2056.6,827.4 L2056.9,816.5 L2056.9,816.3 L2056.8,816.1 L2056.8,815.9 L2056.7,815.7 L2056.6,815.6 L2056.5,815.4 L2056.4,815.2 L2056.3,815.1 L2040.6,799.6 L2040.5,799.4 L2040.3,799.3 L2040.1,799.2 L2040.0,799.1 L2039.8,799.1 L2039.6,799.0 L2039.4,799.0 L2039.2,799.0 L2039.0,799.0 L1976.1,806.9 L1975.9,807.0 L1975.8,807.0 L1975.6,807.1 L1975.4,807.2 L1975.2,807.3 L1975.1,807.4 L1974.9,807.6 L1974.8,807.7 L1974.7,807.9 L1974.6,808.0 L1974.5,808.2 L1974.5,808.4 L1974.4,808.6 L1966.7,853.4 L1966.7,853.6 L1966.7,853.8 L1966.7,854.0 L1966.8,854.2 L1966.8,854.4 L1966.9,854.6 L1967.0,854.8 L1967.1,854.9 L1967.2,855.1 L1981.6,870.8 L1981.7,871.0 L1981.9,871.1 L1982.0,871.2 L1982.2,871.3 L1982.4,871.4 L1982.6,871.4 L1982.8,871.5 L1983.0,871.5 L1983.2,871.5 L1983.3,871.5 L1983.5,871.4 L1983.7,871.4 L1983.9,871.3 L1984.1,871.2 L2055.6,829.0 Z" fill="#b27e54" stroke="#2a2018" stroke-width="3" stroke-linejoin="round"/>
<path d="M2028.9,824.7 L2029.0,824.6 L2029.1,824.6 L2029.2,824.5 L2029.2,824.4 L2029.3,824.4 L2029.3,824.3 L2029.4,824.2 L2029.4,824.1 L2029.4,824.0 L2029.4,823.9 L2029.6,819.0 L2029.6,819.0 L2029.6,818.9 L2029.6,818.8 L2029.5,818.7 L2029.5,818.6 L2029.4,818.5 L2029.3,818.4 L2029.3,818.4 L2020.7,811.4 L2020.6,811.4 L2020.5,811.3 L2020.4,811.3 L2020.3,811.2 L2020.2,811.2 L2020.1,811.2 L2020.0,811.2 L2019.9,811.2 L2019.8,811.2 L1985.2,814.7 L1985.1,814.7 L1985.0,814.8 L1984.9,814.8 L1984.8,814.8 L1984.7,814.9 L1984.6,814.9 L1984.5,815.0 L1984.5,815.1 L1984.4,815.1 L1984.3,815.2 L1984.3,815.3 L1984.3,815.4 L1984.2,815.5 L1980.0,835.6 L1980.0,835.7 L1980.0,835.8 L1980.0,835.9 L1980.0,836.0 L1980.1,836.1 L1980.1,836.2 L1980.2,836.2 L1980.2,836.3 L1980.3,836.4 L1988.2,843.5 L1988.3,843.5 L1988.3,843.6 L1988.4,843.6 L1988.5,843.7 L1988.6,843.7 L1988.7,843.7 L1988.8,843.8 L1988.9,843.8 L1989.0,843.8 L1989.2,843.8 L1989.3,843.7 L1989.4,843.7 L1989.5,843.7 L1989.6,843.6 L2028.9,824.7 Z" fill="#c89a6c" opacity="0.55"/>
<path d="M2186.4,723.2 L2186.6,723.1 L2186.8,723.1 L2187.0,723.0 L2187.1,723.0 L2187.3,722.9 L2187.5,722.7 L2187.6,722.6 L2187.7,722.5 L2187.9,722.3 L2188.0,722.2 L2188.0,722.0 L2188.1,721.8 L2188.2,721.6 L2188.2,721.4 L2188.4,719.8 L2188.5,719.4 L2188.6,718.9 L2194.1,702.8 L2194.3,702.4 L2194.4,702.1 L2203.2,685.7 L2203.5,685.1 L2215.3,668.8 L2215.7,668.4 L2226.3,656.8 L2226.5,656.7 L2226.6,656.5 L2226.7,656.3 L2226.7,656.1 L2226.8,655.9 L2226.8,655.7 L2226.9,655.5 L2226.9,655.3 L2226.8,655.1 L2226.8,654.9 L2225.5,650.1 L2225.5,650.0 L2225.4,649.8 L2225.3,649.6 L2225.2,649.4 L2225.1,649.3 L2224.9,649.1 L2224.8,649.0 L2224.6,648.9 L2224.4,648.8 L2224.2,648.7 L2224.0,648.7 L2223.8,648.7 L2223.6,648.6 L2223.4,648.7 L2223.2,648.7 L2223.1,648.7 L2222.9,648.8 L2222.7,648.9 L2116.4,704.7 L2116.2,704.8 L2116.1,704.9 L2115.9,705.0 L2115.8,705.1 L2115.7,705.3 L2115.6,705.5 L2115.5,705.6 L2115.4,705.8 L2115.4,706.0 L2115.4,706.2 L2115.3,706.4 L2115.3,706.6 L2115.4,706.7 L2115.4,706.9 L2115.5,707.1 L2115.5,707.3 L2115.6,707.5 L2115.7,707.6 L2130.3,727.5 L2130.4,727.7 L2130.5,727.8 L2130.7,727.9 L2130.8,728.0 L2131.0,728.1 L2131.1,728.2 L2131.3,728.3 L2131.5,728.3 L2131.7,728.3 L2131.9,728.3 L2132.1,728.3 L2186.4,723.2 Z" fill="#b88658" stroke="#2a2018" stroke-width="3" stroke-linejoin="round"/>
<path d="M2174.0,703.4 L2174.1,703.4 L2174.2,703.4 L2174.3,703.3 L2174.4,703.3 L2174.5,703.3 L2174.6,703.2 L2174.7,703.2 L2174.8,703.1 L2174.8,703.0 L2174.9,703.0 L2174.9,702.9 L2175.0,702.8 L2175.0,702.7 L2175.0,702.6 L2175.2,701.9 L2175.2,701.7 L2175.3,701.5 L2178.3,694.2 L2178.4,694.1 L2178.4,693.9 L2183.3,686.5 L2183.5,686.3 L2189.9,678.9 L2190.1,678.7 L2196.0,673.5 L2196.1,673.5 L2196.1,673.4 L2196.2,673.3 L2196.2,673.2 L2196.3,673.2 L2196.3,673.1 L2196.3,673.0 L2196.3,672.9 L2196.3,672.8 L2196.3,672.7 L2195.6,670.5 L2195.5,670.5 L2195.5,670.4 L2195.4,670.3 L2195.4,670.2 L2195.3,670.2 L2195.2,670.1 L2195.1,670.0 L2195.0,670.0 L2194.9,669.9 L2194.8,669.9 L2194.7,669.9 L2194.6,669.9 L2194.5,669.9 L2194.4,669.9 L2194.3,669.9 L2194.2,669.9 L2194.1,669.9 L2194.0,670.0 L2135.5,695.1 L2135.4,695.1 L2135.4,695.2 L2135.3,695.2 L2135.2,695.3 L2135.1,695.4 L2135.1,695.4 L2135.0,695.5 L2135.0,695.6 L2135.0,695.7 L2135.0,695.8 L2134.9,695.8 L2135.0,695.9 L2135.0,696.0 L2135.0,696.1 L2135.0,696.2 L2135.1,696.3 L2135.1,696.3 L2135.2,696.4 L2143.2,705.4 L2143.2,705.4 L2143.3,705.5 L2143.4,705.5 L2143.5,705.6 L2143.5,705.6 L2143.6,705.7 L2143.7,705.7 L2143.8,705.7 L2143.9,705.7 L2144.0,705.7 L2144.1,705.7 L2174.0,703.4 Z" fill="#c89a6c" opacity="0.55"/>
<path d="M2120.0,780.9 L2120.2,780.8 L2120.4,780.7 L2120.5,780.6 L2120.6,780.4 L2120.8,780.3 L2120.9,780.1 L2121.0,780.0 L2121.0,779.8 L2121.1,779.6 L2121.1,779.4 L2121.2,779.2 L2124.9,734.5 L2124.9,734.3 L2124.9,734.1 L2124.8,733.9 L2124.8,733.7 L2124.7,733.5 L2124.6,733.4 L2124.5,733.2 L2108.2,710.9 L2108.1,710.7 L2107.9,710.6 L2107.8,710.5 L2107.6,710.4 L2107.4,710.3 L2107.2,710.2 L2107.0,710.1 L2106.8,710.1 L2106.6,710.1 L2106.4,710.1 L2106.2,710.1 L2106.0,710.2 L2105.8,710.2 L2105.7,710.3 L2040.5,744.5 L2040.3,744.6 L2040.1,744.8 L2040.0,744.9 L2039.9,745.0 L2039.7,745.2 L2039.6,745.4 L2039.5,745.6 L2039.5,745.8 L2039.4,746.0 L2039.4,746.2 L2039.4,746.4 L2039.4,746.6 L2045.1,792.1 L2045.1,792.3 L2045.2,792.5 L2045.2,792.7 L2045.3,792.8 L2045.4,793.0 L2045.5,793.2 L2045.7,793.3 L2060.7,808.2 L2060.9,808.3 L2061.0,808.5 L2061.2,808.6 L2061.4,808.6 L2061.5,808.7 L2061.7,808.7 L2061.9,808.8 L2062.1,808.8 L2062.3,808.8 L2062.5,808.8 L2062.7,808.7 L2062.8,808.7 L2063.0,808.6 L2120.0,780.9 Z" fill="#ac7a4e" stroke="#2a2018" stroke-width="3" stroke-linejoin="round"/>
<path d="M2098.4,764.4 L2098.5,764.3 L2098.6,764.3 L2098.7,764.2 L2098.7,764.2 L2098.8,764.1 L2098.9,764.1 L2098.9,764.0 L2099.0,763.9 L2099.0,763.8 L2099.0,763.7 L2099.0,763.7 L2101.1,743.5 L2101.1,743.4 L2101.1,743.4 L2101.0,743.3 L2101.0,743.2 L2101.0,743.1 L2100.9,743.0 L2100.9,742.9 L2091.9,732.9 L2091.8,732.8 L2091.8,732.8 L2091.7,732.7 L2091.6,732.7 L2091.5,732.6 L2091.4,732.6 L2091.3,732.6 L2091.2,732.5 L2091.0,732.5 L2090.9,732.5 L2090.8,732.5 L2090.7,732.6 L2090.6,732.6 L2090.5,732.6 L2054.7,748.0 L2054.6,748.1 L2054.5,748.1 L2054.4,748.2 L2054.3,748.3 L2054.2,748.3 L2054.2,748.4 L2054.1,748.5 L2054.1,748.6 L2054.1,748.7 L2054.1,748.8 L2054.1,748.9 L2054.1,748.9 L2057.2,769.4 L2057.2,769.5 L2057.2,769.6 L2057.3,769.7 L2057.3,769.8 L2057.4,769.8 L2057.4,769.9 L2057.5,770.0 L2065.8,776.7 L2065.9,776.7 L2066.0,776.8 L2066.1,776.8 L2066.1,776.9 L2066.2,776.9 L2066.3,776.9 L2066.4,776.9 L2066.5,777.0 L2066.7,776.9 L2066.8,776.9 L2066.9,776.9 L2067.0,776.9 L2067.1,776.9 L2098.4,764.4 Z" fill="#c89a6c" opacity="0.55"/>
<path d="M2042.5,914.9 L2042.7,914.9 L2042.9,915.0 L2043.1,915.0 L2043.3,915.0 L2043.5,915.0 L2043.6,915.0 L2043.8,914.9 L2044.0,914.9 L2044.2,914.8 L2044.4,914.7 L2044.5,914.6 L2044.7,914.4 L2044.8,914.3 L2062.3,893.4 L2062.5,893.2 L2062.6,893.1 L2062.6,892.9 L2062.7,892.7 L2062.8,892.5 L2062.8,892.3 L2062.8,892.1 L2062.8,892.0 L2062.8,891.8 L2062.7,891.6 L2062.7,891.4 L2062.6,891.2 L2062.5,891.0 L2062.4,890.9 L2062.3,890.8 L2059.0,885.8 L2058.8,885.4 L2058.5,885.0 L2056.4,879.4 L2056.2,879.0 L2056.1,878.5 L2055.1,872.5 L2055.1,872.0 L2055.1,871.6 L2055.3,865.2 L2055.3,864.8 L2055.4,864.4 L2056.8,857.9 L2056.9,857.5 L2057.1,857.2 L2059.7,850.6 L2059.8,850.3 L2060.0,850.0 L2062.6,845.6 L2062.7,845.4 L2062.8,845.2 L2062.8,845.0 L2062.9,844.8 L2062.9,844.6 L2062.9,844.4 L2062.9,844.2 L2062.8,844.0 L2062.8,843.9 L2062.7,843.7 L2059.9,838.3 L2059.8,838.1 L2059.7,837.9 L2059.5,837.8 L2059.4,837.7 L2059.2,837.6 L2059.1,837.5 L2058.9,837.4 L2058.7,837.3 L2058.5,837.2 L2058.4,837.2 L2058.2,837.2 L2058.0,837.2 L2057.8,837.2 L2057.6,837.3 L2057.4,837.3 L2057.2,837.4 L2057.1,837.5 L1987.5,878.5 L1987.3,878.6 L1987.2,878.7 L1987.0,878.9 L1986.9,879.0 L1986.8,879.2 L1986.7,879.4 L1986.6,879.5 L1986.6,879.7 L1986.5,879.9 L1986.5,880.1 L1986.5,880.3 L1986.5,880.5 L1988.5,892.3 L1988.5,892.5 L1988.6,892.7 L1988.7,892.9 L1988.8,893.0 L1988.9,893.2 L1989.0,893.3 L1989.2,893.5 L1989.4,893.6 L1989.5,893.7 L1989.7,893.8 L2042.5,914.9 Z" fill="#a87450" stroke="#2a2018" stroke-width="3" stroke-linejoin="round"/>
<path d="M2032.0,890.6 L2032.1,890.7 L2032.2,890.7 L2032.3,890.7 L2032.4,890.7 L2032.5,890.7 L2032.6,890.7 L2032.7,890.7 L2032.8,890.6 L2032.9,890.6 L2033.0,890.5 L2033.1,890.5 L2033.2,890.4 L2033.3,890.4 L2042.9,881.0 L2043.0,880.9 L2043.0,880.8 L2043.1,880.7 L2043.1,880.7 L2043.1,880.6 L2043.2,880.5 L2043.2,880.4 L2043.2,880.3 L2043.2,880.2 L2043.1,880.1 L2043.1,880.1 L2043.1,880.0 L2043.0,879.9 L2043.0,879.8 L2042.9,879.8 L2041.1,877.6 L2040.9,877.4 L2040.8,877.2 L2039.6,874.7 L2039.5,874.5 L2039.5,874.3 L2038.9,871.6 L2038.9,871.4 L2038.9,871.2 L2039.0,868.3 L2039.1,868.1 L2039.1,867.9 L2039.9,865.0 L2039.9,864.8 L2040.0,864.7 L2041.5,861.7 L2041.5,861.6 L2041.6,861.5 L2043.1,859.5 L2043.1,859.4 L2043.2,859.3 L2043.2,859.2 L2043.2,859.1 L2043.2,859.0 L2043.2,858.9 L2043.2,858.8 L2043.2,858.8 L2043.1,858.7 L2043.1,858.6 L2041.6,856.2 L2041.5,856.1 L2041.4,856.0 L2041.4,856.0 L2041.3,855.9 L2041.2,855.8 L2041.1,855.8 L2041.0,855.8 L2040.9,855.7 L2040.8,855.7 L2040.7,855.7 L2040.6,855.7 L2040.5,855.7 L2040.4,855.7 L2040.3,855.7 L2040.2,855.7 L2040.1,855.8 L2040.0,855.8 L2001.8,874.3 L2001.7,874.3 L2001.6,874.4 L2001.5,874.4 L2001.4,874.5 L2001.4,874.6 L2001.3,874.7 L2001.3,874.7 L2001.2,874.8 L2001.2,874.9 L2001.2,875.0 L2001.2,875.1 L2001.2,875.2 L2002.3,880.5 L2002.3,880.6 L2002.4,880.6 L2002.4,880.7 L2002.5,880.8 L2002.5,880.9 L2002.6,880.9 L2002.7,881.0 L2002.8,881.1 L2002.9,881.1 L2003.0,881.2 L2032.0,890.6 Z" fill="#c89a6c" opacity="0.55"/>
<path d="M2067.2,835.1 L2067.3,835.3 L2067.4,835.4 L2067.6,835.6 L2067.7,835.7 L2067.9,835.8 L2068.0,835.9 L2068.2,836.0 L2068.4,836.1 L2068.6,836.1 L2068.8,836.1 L2069.0,836.2 L2069.2,836.2 L2069.4,836.1 L2069.6,836.1 L2069.7,836.0 L2069.9,835.9 L2070.1,835.8 L2070.2,835.7 L2070.4,835.6 L2075.0,831.1 L2075.5,830.7 L2081.9,825.7 L2082.4,825.4 L2089.5,821.1 L2090.0,820.9 L2097.5,817.5 L2098.0,817.3 L2105.8,814.8 L2106.3,814.6 L2114.2,813.1 L2114.8,813.0 L2122.4,812.5 L2123.1,812.5 L2130.5,813.0 L2130.8,813.1 L2131.1,813.1 L2138.0,814.7 L2138.4,814.8 L2138.7,814.9 L2144.9,817.4 L2145.3,817.6 L2145.7,817.8 L2151.0,821.2 L2151.4,821.5 L2151.7,821.8 L2156.1,826.0 L2156.5,826.3 L2156.7,826.7 L2158.1,828.8 L2158.3,829.0 L2158.4,829.1 L2158.5,829.2 L2158.7,829.4 L2158.9,829.5 L2159.0,829.5 L2159.2,829.6 L2159.4,829.6 L2159.6,829.7 L2159.8,829.7 L2160.0,829.7 L2160.2,829.6 L2160.4,829.6 L2160.6,829.5 L2160.8,829.4 L2160.9,829.3 L2161.1,829.2 L2161.2,829.1 L2161.4,828.9 L2161.5,828.8 L2161.6,828.6 L2161.7,828.4 L2161.7,828.2 L2161.8,828.0 L2161.8,827.8 L2162.4,820.5 L2162.4,820.3 L2162.3,820.1 L2162.3,819.9 L2162.3,819.8 L2162.2,819.6 L2162.1,819.4 L2162.0,819.2 L2161.9,819.1 L2161.8,818.9 L2161.6,818.8 L2125.3,788.5 L2125.1,788.4 L2125.0,788.3 L2124.8,788.2 L2124.6,788.2 L2124.4,788.1 L2124.2,788.1 L2124.1,788.1 L2123.9,788.1 L2123.7,788.1 L2123.5,788.1 L2123.3,788.2 L2123.1,788.3 L2066.0,816.1 L2065.8,816.1 L2065.6,816.3 L2065.5,816.4 L2065.3,816.5 L2065.2,816.7 L2065.1,816.9 L2065.0,817.0 L2065.0,817.2 L2064.9,817.4 L2064.9,817.6 L2064.8,817.8 L2064.5,829.4 L2064.5,829.6 L2064.6,829.8 L2064.6,830.0 L2064.7,830.2 L2064.8,830.3 L2067.2,835.1 Z" fill="#ac7a4e" stroke="#2a2018" stroke-width="3" stroke-linejoin="round"/>
<path d="M2081.7,816.7 L2081.8,816.7 L2081.8,816.8 L2081.9,816.9 L2082.0,816.9 L2082.1,817.0 L2082.2,817.0 L2082.3,817.1 L2082.4,817.1 L2082.5,817.1 L2082.6,817.1 L2082.7,817.1 L2082.8,817.1 L2082.9,817.1 L2083.0,817.1 L2083.1,817.1 L2083.2,817.0 L2083.3,817.0 L2083.4,816.9 L2083.5,816.9 L2086.0,814.9 L2086.2,814.7 L2089.8,812.4 L2090.1,812.3 L2093.9,810.4 L2094.2,810.3 L2098.4,808.7 L2098.6,808.6 L2102.9,807.5 L2103.2,807.5 L2107.5,806.8 L2107.9,806.7 L2112.1,806.5 L2112.5,806.5 L2116.5,806.7 L2116.7,806.8 L2116.9,806.8 L2120.7,807.5 L2120.9,807.5 L2121.0,807.6 L2124.5,808.7 L2124.7,808.8 L2124.9,808.9 L2127.8,810.4 L2128.0,810.5 L2128.2,810.7 L2130.6,812.6 L2130.8,812.7 L2130.9,812.9 L2131.7,813.8 L2131.8,813.9 L2131.9,814.0 L2131.9,814.0 L2132.0,814.1 L2132.1,814.1 L2132.2,814.2 L2132.3,814.2 L2132.4,814.2 L2132.5,814.2 L2132.6,814.2 L2132.7,814.2 L2132.9,814.2 L2133.0,814.2 L2133.1,814.2 L2133.2,814.1 L2133.2,814.1 L2133.3,814.0 L2133.4,814.0 L2133.5,813.9 L2133.6,813.8 L2133.6,813.7 L2133.6,813.7 L2133.7,813.6 L2133.7,813.5 L2133.7,813.4 L2134.0,810.1 L2134.0,810.0 L2134.0,809.9 L2134.0,809.8 L2134.0,809.8 L2134.0,809.7 L2133.9,809.6 L2133.9,809.5 L2133.8,809.5 L2133.7,809.4 L2133.6,809.3 L2113.6,795.7 L2113.6,795.7 L2113.5,795.6 L2113.4,795.6 L2113.3,795.5 L2113.2,795.5 L2113.1,795.5 L2113.0,795.5 L2112.9,795.5 L2112.8,795.5 L2112.7,795.5 L2112.6,795.6 L2112.5,795.6 L2081.0,808.1 L2080.9,808.1 L2080.8,808.2 L2080.8,808.2 L2080.7,808.3 L2080.6,808.4 L2080.6,808.5 L2080.5,808.5 L2080.5,808.6 L2080.4,808.7 L2080.4,808.8 L2080.4,808.9 L2080.2,814.1 L2080.2,814.2 L2080.2,814.3 L2080.3,814.4 L2080.3,814.4 L2080.4,814.5 L2081.7,816.7 Z" fill="#c89a6c" opacity="0.55"/>
<path d="M2253.9,834.9 L2254.1,834.8 L2254.2,834.7 L2254.4,834.6 L2254.5,834.5 L2254.6,834.3 L2254.7,834.2 L2254.8,834.0 L2254.9,833.8 L2254.9,833.6 L2255.0,833.4 L2255.0,833.2 L2255.0,833.1 L2255.0,832.9 L2254.9,832.7 L2254.9,832.5 L2254.8,832.3 L2254.7,832.1 L2234.0,797.2 L2233.8,797.1 L2233.7,796.9 L2233.6,796.8 L2233.5,796.6 L2233.3,796.5 L2233.1,796.4 L2233.0,796.4 L2232.8,796.3 L2228.6,795.1 L2228.2,795.0 L2227.8,794.8 L2225.6,793.7 L2225.5,793.6 L2225.3,793.6 L2225.1,793.5 L2224.8,793.5 L2224.6,793.5 L2224.4,793.5 L2224.2,793.6 L2224.0,793.6 L2223.8,793.7 L2171.4,819.8 L2171.2,819.9 L2171.1,820.0 L2170.9,820.1 L2170.8,820.2 L2170.7,820.4 L2170.6,820.5 L2170.5,820.7 L2170.4,820.9 L2170.4,821.1 L2170.3,821.2 L2170.3,821.4 L2166.0,877.2 L2166.0,877.4 L2166.0,877.6 L2166.0,877.8 L2166.1,878.0 L2166.1,878.2 L2166.2,878.3 L2166.3,878.5 L2166.4,878.7 L2166.6,878.8 L2166.7,878.9 L2166.9,879.0 L2167.0,879.1 L2167.2,879.2 L2167.4,879.3 L2167.6,879.3 L2167.8,879.4 L2168.0,879.4 L2168.2,879.4 L2168.4,879.3 L2168.5,879.3 L2168.7,879.2 L2168.9,879.2 L2253.9,834.9 Z" fill="#b27e54" stroke="#2a2018" stroke-width="3" stroke-linejoin="round"/>
<path d="M2227.2,829.1 L2227.2,829.1 L2227.3,829.0 L2227.4,829.0 L2227.5,828.9 L2227.6,828.9 L2227.6,828.8 L2227.7,828.7 L2227.7,828.6 L2227.7,828.5 L2227.7,828.5 L2227.8,828.4 L2227.7,828.3 L2227.7,828.2 L2227.7,828.1 L2227.7,828.0 L2227.6,828.0 L2227.6,827.9 L2216.2,812.2 L2216.1,812.1 L2216.1,812.0 L2216.0,812.0 L2215.9,811.9 L2215.8,811.9 L2215.7,811.8 L2215.6,811.8 L2215.5,811.7 L2213.3,811.2 L2213.0,811.2 L2212.8,811.1 L2211.6,810.6 L2211.5,810.5 L2211.4,810.5 L2211.3,810.5 L2211.2,810.5 L2211.1,810.5 L2210.9,810.5 L2210.8,810.5 L2210.7,810.5 L2210.6,810.6 L2181.8,822.3 L2181.7,822.4 L2181.6,822.4 L2181.5,822.5 L2181.5,822.5 L2181.4,822.6 L2181.3,822.7 L2181.3,822.7 L2181.2,822.8 L2181.2,822.9 L2181.2,823.0 L2181.2,823.1 L2178.8,848.2 L2178.8,848.2 L2178.8,848.3 L2178.8,848.4 L2178.8,848.5 L2178.9,848.6 L2178.9,848.7 L2179.0,848.7 L2179.0,848.8 L2179.1,848.9 L2179.2,848.9 L2179.3,849.0 L2179.4,849.0 L2179.5,849.1 L2179.6,849.1 L2179.7,849.1 L2179.8,849.1 L2179.9,849.1 L2180.0,849.1 L2180.1,849.1 L2180.2,849.1 L2180.3,849.1 L2180.4,849.0 L2227.2,829.1 Z" fill="#c89a6c" opacity="0.55"/>
<path d="M2212.5,790.4 L2212.7,790.3 L2212.8,790.2 L2213.0,790.1 L2213.1,789.9 L2213.3,789.8 L2213.4,789.6 L2213.5,789.4 L2213.5,789.2 L2213.6,789.0 L2213.6,788.9 L2213.6,788.7 L2213.6,788.5 L2213.6,788.3 L2213.5,788.1 L2213.5,787.9 L2213.4,787.7 L2213.3,787.5 L2213.2,787.4 L2213.0,787.2 L2212.9,787.1 L2201.9,777.9 L2201.7,777.7 L2201.4,777.4 L2201.2,777.1 L2193.2,765.8 L2192.9,765.5 L2192.8,765.2 L2192.6,764.8 L2187.9,751.8 L2187.8,751.4 L2187.7,751.1 L2187.6,750.7 L2186.3,736.3 L2186.3,735.8 L2186.3,735.2 L2186.5,733.7 L2186.6,733.5 L2186.6,733.3 L2186.5,733.1 L2186.5,732.9 L2186.4,732.7 L2186.3,732.5 L2186.2,732.3 L2186.1,732.2 L2186.0,732.0 L2185.9,731.9 L2185.7,731.7 L2185.5,731.6 L2185.3,731.6 L2185.2,731.5 L2185.0,731.4 L2184.8,731.4 L2184.6,731.4 L2184.4,731.4 L2134.4,736.1 L2134.2,736.2 L2134.0,736.2 L2133.8,736.3 L2133.7,736.4 L2133.5,736.5 L2133.3,736.6 L2133.2,736.7 L2133.1,736.9 L2132.9,737.0 L2132.8,737.2 L2132.8,737.4 L2132.7,737.6 L2132.6,737.8 L2132.6,738.0 L2129.1,780.2 L2129.1,780.4 L2129.1,780.6 L2129.1,780.8 L2129.2,781.0 L2129.3,781.1 L2129.3,781.3 L2129.4,781.5 L2129.6,781.6 L2129.7,781.8 L2129.8,781.9 L2166.1,812.2 L2166.3,812.3 L2166.5,812.4 L2166.6,812.5 L2166.8,812.5 L2167.0,812.6 L2167.2,812.6 L2167.4,812.6 L2167.6,812.6 L2167.8,812.6 L2167.9,812.5 L2168.1,812.5 L2168.3,812.4 L2212.5,790.4 Z" fill="#a87450" stroke="#2a2018" stroke-width="3" stroke-linejoin="round"/>
<path d="M2186.5,774.4 L2186.6,774.4 L2186.7,774.3 L2186.8,774.3 L2186.8,774.2 L2186.9,774.1 L2187.0,774.1 L2187.0,774.0 L2187.1,773.9 L2187.1,773.8 L2187.1,773.7 L2187.1,773.6 L2187.1,773.5 L2187.1,773.5 L2187.1,773.4 L2187.0,773.3 L2187.0,773.2 L2186.9,773.1 L2186.9,773.0 L2186.8,773.0 L2186.7,772.9 L2180.7,768.8 L2180.5,768.7 L2180.4,768.6 L2180.3,768.4 L2175.9,763.3 L2175.7,763.2 L2175.6,763.1 L2175.6,762.9 L2173.0,757.0 L2172.9,756.9 L2172.9,756.7 L2172.8,756.5 L2172.1,750.1 L2172.1,749.8 L2172.1,749.6 L2172.2,748.9 L2172.2,748.8 L2172.2,748.7 L2172.2,748.6 L2172.2,748.5 L2172.2,748.4 L2172.1,748.4 L2172.1,748.3 L2172.0,748.2 L2171.9,748.1 L2171.8,748.1 L2171.8,748.0 L2171.7,748.0 L2171.6,747.9 L2171.5,747.9 L2171.4,747.9 L2171.2,747.9 L2171.1,747.9 L2171.0,747.9 L2143.6,750.0 L2143.4,750.0 L2143.3,750.0 L2143.2,750.1 L2143.1,750.1 L2143.0,750.1 L2143.0,750.2 L2142.9,750.3 L2142.8,750.3 L2142.7,750.4 L2142.7,750.5 L2142.6,750.6 L2142.6,750.6 L2142.6,750.7 L2142.6,750.8 L2140.6,769.8 L2140.6,769.9 L2140.6,770.0 L2140.7,770.1 L2140.7,770.2 L2140.7,770.2 L2140.8,770.3 L2140.8,770.4 L2140.9,770.5 L2141.0,770.5 L2141.0,770.6 L2161.0,784.2 L2161.1,784.3 L2161.2,784.3 L2161.3,784.3 L2161.4,784.4 L2161.5,784.4 L2161.6,784.4 L2161.7,784.4 L2161.8,784.4 L2161.9,784.4 L2162.0,784.4 L2162.1,784.3 L2162.2,784.3 L2186.5,774.4 Z" fill="#c89a6c" opacity="0.55"/>
<path d="M2419.3,743.8 L2419.2,744.0 L2419.0,744.1 L2418.9,744.3 L2418.8,744.4 L2418.8,744.6 L2418.7,744.8 L2418.7,745.0 L2418.6,745.2 L2418.6,745.4 L2418.6,745.6 L2418.7,745.8 L2418.7,745.9 L2418.8,746.1 L2418.9,746.3 L2419.0,746.5 L2419.1,746.6 L2419.2,746.8 L2419.4,746.9 L2419.6,747.0 L2419.7,747.1 L2419.9,747.2 L2420.1,747.2 L2420.3,747.3 L2420.5,747.3 L2420.7,747.3 L2420.9,747.3 L2421.0,747.3 L2421.2,747.2 L2421.4,747.2 L2421.6,747.1 L2465.2,723.2 L2465.4,723.1 L2465.6,723.0 L2465.7,722.9 L2465.8,722.7 L2465.9,722.6 L2466.0,722.4 L2466.1,722.2 L2466.2,722.0 L2466.2,721.8 L2466.3,721.6 L2466.3,721.4 L2466.3,721.2 L2466.2,721.0 L2466.2,720.8 L2466.1,720.7 L2466.0,720.5 L2465.9,720.3 L2465.6,719.8 L2465.4,719.7 L2465.3,719.5 L2465.1,719.4 L2464.9,719.3 L2464.8,719.2 L2464.6,719.1 L2450.0,714.3 L2449.8,714.2 L2449.6,714.2 L2449.4,714.2 L2449.2,714.2 L2449.0,714.2 L2448.8,714.2 L2448.6,714.3 L2448.5,714.4 L2448.3,714.5 L2448.1,714.6 L2448.0,714.7 L2447.9,714.8 L2447.7,715.0 L2446.3,717.0 L2445.9,717.4 L2431.4,733.2 L2431.0,733.6 L2419.3,743.8 Z" fill="#b27e54" stroke="#2a2018" stroke-width="3" stroke-linejoin="round"/>
<path d="M2425.4,730.5 L2425.4,730.6 L2425.3,730.6 L2425.2,730.7 L2425.2,730.8 L2425.1,730.9 L2425.1,730.9 L2425.1,731.0 L2425.1,731.1 L2425.1,731.2 L2425.1,731.3 L2425.1,731.4 L2425.1,731.5 L2425.2,731.5 L2425.2,731.6 L2425.3,731.7 L2425.3,731.8 L2425.4,731.8 L2425.5,731.9 L2425.6,731.9 L2425.7,732.0 L2425.8,732.0 L2425.9,732.0 L2426.0,732.1 L2426.1,732.1 L2426.2,732.1 L2426.3,732.1 L2426.4,732.1 L2426.5,732.0 L2426.6,732.0 L2426.7,732.0 L2450.7,721.2 L2450.8,721.2 L2450.9,721.1 L2451.0,721.1 L2451.0,721.0 L2451.1,720.9 L2451.2,720.8 L2451.2,720.8 L2451.2,720.7 L2451.3,720.6 L2451.3,720.5 L2451.3,720.4 L2451.3,720.3 L2451.2,720.2 L2451.2,720.2 L2451.2,720.1 L2451.1,720.0 L2451.1,719.9 L2450.9,719.7 L2450.8,719.6 L2450.7,719.6 L2450.6,719.5 L2450.5,719.4 L2450.4,719.4 L2450.3,719.4 L2442.3,717.2 L2442.2,717.2 L2442.1,717.2 L2442.0,717.1 L2441.9,717.1 L2441.8,717.2 L2441.7,717.2 L2441.6,717.2 L2441.5,717.2 L2441.4,717.3 L2441.3,717.3 L2441.2,717.4 L2441.1,717.4 L2441.1,717.5 L2440.3,718.4 L2440.1,718.6 L2432.1,725.7 L2431.9,725.9 L2425.4,730.5 Z" fill="#c89a6c" opacity="0.55"/>
<path d="M2248.8,800.3 L2248.6,800.3 L2248.4,800.3 L2248.2,800.3 L2248.1,800.3 L2247.9,800.4 L2247.7,800.5 L2247.5,800.6 L2247.4,800.7 L2247.2,800.8 L2247.1,800.9 L2247.0,801.1 L2246.9,801.3 L2246.8,801.4 L2246.7,801.6 L2246.6,801.8 L2246.6,802.0 L2246.6,802.2 L2246.6,802.4 L2246.6,802.6 L2246.6,802.8 L2246.7,802.9 L2246.8,803.1 L2246.9,803.3 L2261.9,828.6 L2262.1,828.8 L2262.2,829.0 L2262.3,829.1 L2262.5,829.2 L2262.7,829.4 L2262.8,829.4 L2263.0,829.5 L2263.2,829.6 L2263.4,829.6 L2263.6,829.6 L2263.8,829.6 L2264.0,829.6 L2264.2,829.5 L2264.4,829.5 L2264.6,829.4 L2324.5,798.2 L2324.7,798.1 L2324.9,798.0 L2325.0,797.9 L2325.2,797.7 L2325.3,797.6 L2325.4,797.4 L2325.5,797.2 L2325.5,797.1 L2325.6,796.9 L2325.6,796.7 L2325.6,796.5 L2325.6,796.3 L2325.6,796.1 L2325.6,795.9 L2325.5,795.7 L2325.4,795.6 L2325.3,795.4 L2325.2,795.2 L2325.1,795.1 L2324.9,794.9 L2324.8,794.8 L2324.6,794.7 L2324.5,794.6 L2324.3,794.6 L2324.1,794.5 L2323.9,794.5 L2323.7,794.4 L2323.5,794.4 L2323.3,794.5 L2323.1,794.5 L2307.4,798.5 L2306.9,798.6 L2285.6,801.6 L2285.0,801.6 L2264.9,802.1 L2264.3,802.1 L2248.8,800.3 Z" fill="#b88658" stroke="#2a2018" stroke-width="3" stroke-linejoin="round"/>
<path d="M2257.4,800.6 L2257.3,800.6 L2257.2,800.6 L2257.1,800.6 L2257.0,800.6 L2256.9,800.6 L2256.8,800.7 L2256.7,800.7 L2256.6,800.8 L2256.6,800.8 L2256.5,800.9 L2256.4,800.9 L2256.4,801.0 L2256.3,801.1 L2256.3,801.2 L2256.2,801.3 L2256.2,801.3 L2256.2,801.4 L2256.2,801.5 L2256.2,801.6 L2256.3,801.7 L2256.3,801.8 L2256.3,801.9 L2256.4,801.9 L2264.7,813.3 L2264.7,813.4 L2264.8,813.5 L2264.9,813.5 L2265.0,813.6 L2265.1,813.7 L2265.2,813.7 L2265.3,813.7 L2265.4,813.8 L2265.5,813.8 L2265.6,813.8 L2265.7,813.8 L2265.8,813.8 L2265.9,813.7 L2266.0,813.7 L2266.1,813.7 L2299.1,799.6 L2299.2,799.6 L2299.3,799.6 L2299.4,799.5 L2299.4,799.4 L2299.5,799.4 L2299.5,799.3 L2299.6,799.2 L2299.6,799.1 L2299.7,799.0 L2299.7,799.0 L2299.7,798.9 L2299.7,798.8 L2299.7,798.7 L2299.7,798.6 L2299.6,798.5 L2299.6,798.4 L2299.5,798.4 L2299.5,798.3 L2299.4,798.2 L2299.3,798.2 L2299.2,798.1 L2299.1,798.1 L2299.1,798.0 L2299.0,798.0 L2298.8,798.0 L2298.7,798.0 L2298.6,797.9 L2298.5,797.9 L2298.4,798.0 L2298.3,798.0 L2289.7,799.8 L2289.4,799.8 L2277.7,801.2 L2277.4,801.2 L2266.3,801.4 L2265.9,801.4 L2257.4,800.6 Z" fill="#c89a6c" opacity="0.55"/>
<path d="M2341.6,586.4 L2341.5,586.5 L2341.3,586.6 L2341.2,586.8 L2341.0,586.9 L2340.9,587.1 L2340.8,587.2 L2340.7,587.4 L2340.7,587.6 L2340.6,587.8 L2340.6,588.0 L2340.6,588.1 L2340.6,588.3 L2340.6,588.5 L2340.6,588.7 L2340.7,588.9 L2340.8,589.1 L2340.9,589.3 L2341.0,589.4 L2341.1,589.6 L2341.3,589.7 L2341.4,589.8 L2341.6,589.9 L2341.7,590.0 L2341.9,590.1 L2342.1,590.1 L2342.3,590.2 L2342.5,590.2 L2342.7,590.2 L2342.9,590.2 L2343.1,590.1 L2354.2,587.3 L2354.7,587.2 L2376.0,584.2 L2376.5,584.2 L2396.6,583.7 L2397.3,583.7 L2409.3,585.1 L2409.5,585.1 L2409.7,585.1 L2409.8,585.1 L2410.0,585.1 L2410.2,585.0 L2410.4,584.9 L2410.6,584.8 L2410.7,584.7 L2410.9,584.6 L2411.0,584.4 L2411.1,584.3 L2411.2,584.1 L2411.3,584.0 L2411.4,583.8 L2411.4,583.6 L2411.5,583.4 L2411.5,583.2 L2411.5,583.0 L2411.3,579.1 L2411.2,578.9 L2411.2,578.7 L2411.1,578.5 L2411.1,578.3 L2411.0,578.1 L2410.9,578.0 L2410.7,577.8 L2402.7,569.1 L2402.6,569.0 L2402.4,568.9 L2402.3,568.8 L2402.1,568.7 L2401.9,568.6 L2401.7,568.6 L2401.5,568.5 L2401.3,568.5 L2401.1,568.5 L2400.9,568.5 L2400.8,568.6 L2353.1,580.5 L2352.9,580.5 L2352.7,580.6 L2341.6,586.4 Z" fill="#9c6a46" stroke="#2a2018" stroke-width="3" stroke-linejoin="round"/>
<path d="M2354.6,577.7 L2354.5,577.8 L2354.4,577.8 L2354.3,577.9 L2354.3,577.9 L2354.2,578.0 L2354.1,578.1 L2354.1,578.2 L2354.1,578.2 L2354.0,578.3 L2354.0,578.4 L2354.0,578.5 L2354.0,578.6 L2354.0,578.7 L2354.0,578.8 L2354.1,578.8 L2354.1,578.9 L2354.2,579.0 L2354.2,579.1 L2354.3,579.1 L2354.4,579.2 L2354.5,579.3 L2354.5,579.3 L2354.6,579.3 L2354.7,579.4 L2354.8,579.4 L2354.9,579.4 L2355.1,579.4 L2355.2,579.4 L2355.3,579.4 L2355.4,579.4 L2361.5,578.1 L2361.8,578.1 L2373.5,576.7 L2373.8,576.7 L2384.8,576.5 L2385.2,576.5 L2391.8,577.1 L2391.9,577.1 L2392.0,577.1 L2392.1,577.1 L2392.2,577.1 L2392.3,577.1 L2392.4,577.0 L2392.5,577.0 L2392.6,577.0 L2392.7,576.9 L2392.7,576.8 L2392.8,576.8 L2392.9,576.7 L2392.9,576.6 L2392.9,576.5 L2393.0,576.5 L2393.0,576.4 L2393.0,576.3 L2393.0,576.2 L2392.9,574.4 L2392.9,574.3 L2392.8,574.2 L2392.8,574.2 L2392.8,574.1 L2392.7,574.0 L2392.7,573.9 L2392.6,573.9 L2388.2,569.9 L2388.1,569.9 L2388.0,569.8 L2387.9,569.8 L2387.8,569.7 L2387.7,569.7 L2387.6,569.7 L2387.5,569.7 L2387.4,569.7 L2387.3,569.7 L2387.2,569.7 L2387.1,569.7 L2360.9,575.0 L2360.8,575.1 L2360.6,575.1 L2354.6,577.7 Z" fill="#c89a6c" opacity="0.55"/>
<path d="M2463.3,710.2 L2463.5,710.3 L2463.7,710.3 L2463.9,710.3 L2464.1,710.3 L2464.2,710.3 L2464.4,710.3 L2464.6,710.2 L2464.8,710.1 L2465.0,710.0 L2465.1,709.9 L2465.3,709.8 L2465.4,709.7 L2465.5,709.5 L2465.6,709.3 L2465.7,709.2 L2465.8,709.0 L2487.7,644.8 L2487.7,644.6 L2487.8,644.4 L2487.8,644.2 L2487.8,644.0 L2487.3,638.4 L2487.2,638.2 L2487.2,638.0 L2487.1,637.8 L2487.0,637.6 L2486.9,637.4 L2484.2,633.5 L2484.1,633.4 L2483.9,633.2 L2483.8,633.1 L2483.6,633.0 L2483.5,632.9 L2483.3,632.8 L2483.1,632.8 L2482.9,632.7 L2482.7,632.7 L2476.0,632.3 L2475.8,632.3 L2475.6,632.3 L2475.4,632.3 L2475.2,632.4 L2475.0,632.5 L2474.8,632.5 L2474.7,632.7 L2474.5,632.8 L2474.4,632.9 L2474.3,633.1 L2474.2,633.2 L2474.1,633.4 L2474.0,633.6 L2473.9,633.8 L2473.9,633.9 L2473.9,634.1 L2473.8,634.3 L2473.9,634.5 L2473.9,634.7 L2473.9,634.7 L2474.0,635.1 L2475.3,649.5 L2475.3,650.0 L2475.3,650.6 L2473.2,666.0 L2473.1,666.4 L2473.0,666.9 L2467.5,683.0 L2467.3,683.4 L2467.2,683.7 L2458.4,700.1 L2458.1,700.7 L2455.1,704.8 L2455.0,704.9 L2454.9,705.1 L2454.8,705.3 L2454.8,705.5 L2454.7,705.7 L2454.7,705.9 L2454.7,706.1 L2454.8,706.3 L2454.8,706.5 L2454.9,706.7 L2454.9,706.8 L2455.0,707.0 L2455.1,707.2 L2455.3,707.3 L2455.4,707.5 L2455.6,707.6 L2455.7,707.7 L2455.9,707.8 L2456.1,707.9 L2463.3,710.2 Z" fill="#b27e54" stroke="#2a2018" stroke-width="3" stroke-linejoin="round"/>
<path d="M2463.0,682.8 L2463.1,682.8 L2463.2,682.8 L2463.3,682.8 L2463.4,682.8 L2463.5,682.8 L2463.6,682.8 L2463.7,682.8 L2463.8,682.7 L2463.9,682.7 L2464.0,682.7 L2464.1,682.6 L2464.2,682.5 L2464.2,682.5 L2464.3,682.4 L2464.3,682.3 L2464.4,682.2 L2476.4,653.4 L2476.4,653.3 L2476.5,653.2 L2476.5,653.1 L2476.5,653.0 L2476.2,650.5 L2476.2,650.4 L2476.1,650.3 L2476.1,650.2 L2476.0,650.1 L2476.0,650.0 L2474.5,648.3 L2474.4,648.2 L2474.4,648.1 L2474.3,648.1 L2474.2,648.0 L2474.1,648.0 L2474.0,648.0 L2473.9,647.9 L2473.8,647.9 L2473.7,647.9 L2470.0,647.7 L2469.9,647.7 L2469.8,647.7 L2469.6,647.7 L2469.5,647.8 L2469.4,647.8 L2469.3,647.8 L2469.3,647.9 L2469.2,647.9 L2469.1,648.0 L2469.0,648.1 L2469.0,648.1 L2468.9,648.2 L2468.9,648.3 L2468.8,648.4 L2468.8,648.5 L2468.8,648.5 L2468.8,648.6 L2468.8,648.7 L2468.8,648.8 L2468.8,648.8 L2468.9,649.0 L2469.6,655.5 L2469.6,655.7 L2469.6,655.9 L2468.4,662.9 L2468.4,663.1 L2468.3,663.3 L2465.3,670.5 L2465.2,670.7 L2465.1,670.8 L2460.3,678.2 L2460.1,678.5 L2458.5,680.3 L2458.4,680.4 L2458.4,680.5 L2458.3,680.6 L2458.3,680.7 L2458.3,680.7 L2458.3,680.8 L2458.3,680.9 L2458.3,681.0 L2458.3,681.1 L2458.4,681.2 L2458.4,681.3 L2458.5,681.3 L2458.5,681.4 L2458.6,681.5 L2458.7,681.5 L2458.7,681.6 L2458.8,681.6 L2458.9,681.7 L2459.0,681.7 L2463.0,682.8 Z" fill="#c89a6c" opacity="0.55"/>
<path d="M2419.6,585.5 L2419.7,585.7 L2419.7,585.9 L2419.8,586.1 L2419.8,586.2 L2419.9,586.4 L2420.0,586.6 L2420.1,586.7 L2420.3,586.8 L2420.4,587.0 L2420.6,587.1 L2420.7,587.2 L2420.9,587.2 L2421.1,587.3 L2433.0,590.7 L2433.4,590.8 L2433.8,591.0 L2447.7,598.0 L2448.1,598.3 L2448.5,598.6 L2459.7,607.9 L2459.9,608.1 L2460.2,608.4 L2460.4,608.7 L2468.4,620.0 L2468.6,620.3 L2468.8,620.6 L2469.0,621.0 L2469.6,622.7 L2469.7,622.9 L2469.7,623.0 L2469.8,623.2 L2470.0,623.3 L2470.1,623.5 L2470.3,623.6 L2470.4,623.7 L2470.6,623.8 L2470.8,623.9 L2471.0,623.9 L2471.1,624.0 L2471.3,624.0 L2473.6,624.1 L2473.8,624.1 L2474.0,624.1 L2474.2,624.1 L2474.4,624.0 L2474.6,624.0 L2474.7,623.9 L2474.9,623.8 L2475.1,623.6 L2475.2,623.5 L2475.3,623.4 L2475.4,623.2 L2475.5,623.0 L2475.6,622.8 L2475.7,622.7 L2475.7,622.5 L2475.7,622.3 L2475.7,622.1 L2475.7,621.9 L2475.7,621.7 L2475.6,621.5 L2475.6,621.3 L2475.5,621.1 L2475.4,621.0 L2456.7,594.4 L2456.6,594.2 L2456.4,594.1 L2456.3,593.9 L2456.1,593.8 L2428.0,577.6 L2427.8,577.5 L2427.6,577.4 L2427.4,577.4 L2427.2,577.4 L2427.0,577.3 L2426.8,577.4 L2426.6,577.4 L2426.4,577.4 L2420.8,579.1 L2420.6,579.2 L2420.5,579.3 L2420.3,579.4 L2420.1,579.5 L2420.0,579.6 L2419.9,579.8 L2419.8,579.9 L2419.7,580.1 L2419.6,580.2 L2419.5,580.4 L2419.4,580.6 L2419.4,580.8 L2419.4,581.0 L2419.4,581.2 L2419.6,585.5 Z" fill="#b88658" stroke="#2a2018" stroke-width="3" stroke-linejoin="round"/>
<path d="M2426.7,586.2 L2426.7,586.2 L2426.7,586.3 L2426.8,586.4 L2426.8,586.5 L2426.9,586.6 L2426.9,586.6 L2427.0,586.7 L2427.0,586.8 L2427.1,586.8 L2427.2,586.9 L2427.3,586.9 L2427.4,586.9 L2427.5,587.0 L2434.0,588.5 L2434.2,588.5 L2434.5,588.6 L2442.1,591.8 L2442.4,591.9 L2442.6,592.1 L2448.7,596.2 L2448.9,596.3 L2449.0,596.5 L2449.1,596.6 L2453.5,601.7 L2453.7,601.8 L2453.7,602.0 L2453.8,602.1 L2454.2,602.9 L2454.2,603.0 L2454.3,603.0 L2454.3,603.1 L2454.4,603.2 L2454.5,603.2 L2454.5,603.3 L2454.6,603.4 L2454.7,603.4 L2454.8,603.4 L2454.9,603.5 L2455.0,603.5 L2455.1,603.5 L2456.4,603.5 L2456.5,603.5 L2456.6,603.5 L2456.7,603.5 L2456.8,603.5 L2456.9,603.5 L2457.0,603.4 L2457.1,603.4 L2457.2,603.3 L2457.3,603.3 L2457.3,603.2 L2457.4,603.1 L2457.4,603.0 L2457.5,603.0 L2457.5,602.9 L2457.5,602.8 L2457.5,602.7 L2457.6,602.6 L2457.5,602.5 L2457.5,602.4 L2457.5,602.4 L2457.5,602.3 L2457.4,602.2 L2457.4,602.1 L2447.1,590.2 L2447.0,590.1 L2446.9,590.0 L2446.8,590.0 L2446.7,589.9 L2431.3,582.6 L2431.2,582.6 L2431.1,582.5 L2431.0,582.5 L2430.9,582.5 L2430.7,582.5 L2430.6,582.5 L2430.5,582.5 L2430.4,582.5 L2427.3,583.3 L2427.2,583.3 L2427.1,583.4 L2427.1,583.4 L2427.0,583.5 L2426.9,583.5 L2426.8,583.6 L2426.8,583.6 L2426.7,583.7 L2426.7,583.8 L2426.6,583.9 L2426.6,584.0 L2426.6,584.0 L2426.6,584.1 L2426.6,584.2 L2426.7,586.2 Z" fill="#c89a6c" opacity="0.55"/>
<path d="M1920.5,914.6 Q1983.3,888.2 2029.8,860.8" stroke="#2a2018" stroke-width="19" stroke-linecap="round" fill="none"/>
<path d="M1923.6,970.9 Q1966.6,984.3 2010.6,999.1" stroke="#2a2018" stroke-width="19" stroke-linecap="round" fill="none"/>
<path d="M1842.2,1031.0 Q1829.6,1066.8 1812.8,1119.4" stroke="#2a2018" stroke-width="19" stroke-linecap="round" fill="none"/>
<path d="M1797.8,1036.1 Q1763.1,1072.8 1717.5,1117.7" stroke="#2a2018" stroke-width="19" stroke-linecap="round" fill="none"/>
<path d="M1758.4,977.1 Q1700.9,973.1 1661.8,961.4" stroke="#2a2018" stroke-width="19" stroke-linecap="round" fill="none"/>
<path d="M1809.2,923.0 Q1799.5,893.2 1792.8,845.7" stroke="#2a2018" stroke-width="19" stroke-linecap="round" fill="none"/>
<path d="M1894.5,903.0 Q1925.7,861.2 1980.5,824.2" stroke="#2a2018" stroke-width="19" stroke-linecap="round" fill="none"/>
<path d="M1920.5,914.6 Q1983.3,888.2 2029.8,860.8" stroke="#6e8898" stroke-width="13" stroke-linecap="round" fill="none"/>
<path d="M1923.6,970.9 Q1966.6,984.3 2010.6,999.1" stroke="#6e8898" stroke-width="13" stroke-linecap="round" fill="none"/>
<path d="M1842.2,1031.0 Q1829.6,1066.8 1812.8,1119.4" stroke="#6e8898" stroke-width="13" stroke-linecap="round" fill="none"/>
<path d="M1797.8,1036.1 Q1763.1,1072.8 1717.5,1117.7" stroke="#6e8898" stroke-width="13" stroke-linecap="round" fill="none"/>
<path d="M1758.4,977.1 Q1700.9,973.1 1661.8,961.4" stroke="#6e8898" stroke-width="13" stroke-linecap="round" fill="none"/>
<path d="M1809.2,923.0 Q1799.5,893.2 1792.8,845.7" stroke="#6e8898" stroke-width="13" stroke-linecap="round" fill="none"/>
<path d="M1894.5,903.0 Q1925.7,861.2 1980.5,824.2" stroke="#6e8898" stroke-width="13" stroke-linecap="round" fill="none"/>
<path d="M1959.5,908.2 C1962.7,911.5 1965.5,915.0 1967.3,919.0 C1969.1,922.9 1970.2,927.2 1970.3,931.9 C1970.3,936.5 1969.4,941.6 1967.6,946.8 C1965.9,952.0 1963.0,957.7 1959.7,963.3 C1956.3,968.8 1951.9,974.7 1947.3,980.3 C1942.7,985.9 1937.4,991.6 1932.0,996.9 C1926.6,1002.2 1920.9,1007.4 1915.1,1012.1 C1909.3,1016.9 1903.3,1021.3 1897.3,1025.4 C1891.2,1029.4 1885.0,1033.1 1878.7,1036.4 C1872.3,1039.8 1865.8,1042.8 1859.0,1045.5 C1852.2,1048.2 1845.2,1050.5 1838.0,1052.6 C1830.8,1054.7 1823.3,1056.5 1815.9,1057.9 C1808.4,1059.3 1800.7,1060.5 1793.5,1061.1 C1786.3,1061.7 1779.0,1061.9 1772.4,1061.5 C1765.9,1061.2 1759.7,1060.3 1754.4,1058.8 C1749.1,1057.3 1744.4,1055.1 1740.6,1052.5 C1736.8,1049.8 1733.9,1046.4 1731.6,1042.7 C1729.4,1039.0 1728.1,1034.6 1727.2,1030.1 C1726.3,1025.6 1726.1,1020.7 1726.2,1015.7 C1726.3,1010.8 1727.0,1005.6 1727.8,1000.5 C1728.6,995.4 1729.7,990.2 1731.1,985.2 C1732.5,980.1 1734.1,975.1 1736.3,970.2 C1738.4,965.3 1740.8,960.4 1743.8,955.6 C1746.9,950.8 1750.4,946.1 1754.7,941.4 C1758.9,936.7 1763.8,932.0 1769.2,927.4 C1774.7,922.8 1780.9,918.3 1787.3,914.0 C1793.8,909.8 1800.9,905.6 1808.0,901.9 C1815.1,898.1 1822.6,894.6 1829.8,891.7 C1836.9,888.8 1844.2,886.3 1851.1,884.4 C1857.9,882.5 1864.6,881.2 1870.8,880.4 C1877.1,879.6 1883.0,879.4 1888.7,879.6 C1894.4,879.8 1899.7,880.6 1905.0,881.6 C1910.3,882.7 1915.3,884.2 1920.2,885.9 C1925.2,887.6 1930.1,889.6 1934.7,891.8 C1939.4,894.0 1944.0,896.5 1948.2,899.2 C1952.3,901.9 1956.3,904.9 1959.5,908.2 Z" fill="#6e8898" stroke="#2a2018" stroke-width="3" stroke-linejoin="round" stroke-linecap="round" />
<path d="M1931.2,923.0 C1933.5,927.4 1934.8,932.4 1935.0,937.7 C1935.3,942.9 1934.5,948.7 1932.7,954.4 C1930.8,960.2 1927.9,966.3 1924.2,972.2 C1920.4,978.1 1915.6,984.2 1910.2,989.8 C1904.8,995.4 1898.4,1001.0 1891.7,1006.0 C1884.9,1010.9 1877.4,1015.6 1869.8,1019.6 C1862.3,1023.6 1854.1,1027.1 1846.2,1029.8 C1838.3,1032.5 1830.1,1034.6 1822.4,1035.9 C1814.7,1037.2 1806.9,1037.7 1800.0,1037.4 C1793.0,1037.2 1786.3,1036.1 1780.5,1034.3 C1774.8,1032.5 1769.5,1029.9 1765.4,1026.8 C1761.2,1023.6 1757.8,1019.6 1755.5,1015.3 C1753.2,1010.9 1751.9,1005.9 1751.6,1000.6 C1751.4,995.4 1752.2,989.6 1754.0,983.8 C1755.8,978.1 1758.8,972.0 1762.5,966.1 C1766.2,960.2 1771.1,954.1 1776.5,948.5 C1781.9,942.9 1788.3,937.3 1795.0,932.3 C1801.7,927.4 1809.3,922.7 1816.8,918.7 C1824.4,914.7 1832.6,911.2 1840.5,908.5 C1848.4,905.8 1856.6,903.7 1864.3,902.4 C1872.0,901.1 1879.7,900.6 1886.7,900.9 C1893.7,901.1 1900.4,902.2 1906.2,904.0 C1911.9,905.8 1917.2,908.4 1921.3,911.5 C1925.5,914.7 1928.9,918.7 1931.2,923.0 Z" fill="#7892a2" />
<path d="M1754.4,989.0 C1752.7,981.9 1762.7,956.1 1769.5,948.9 C1776.3,941.8 1793.5,939.0 1795.1,946.2 C1796.8,953.3 1786.2,984.8 1779.4,992.0 C1772.6,999.1 1756.0,996.2 1754.4,989.0 Z" fill="#98b2c0" />
<path d="M2412.9,639.2 Q2475.4,603.8 2527.1,587.7" stroke="#2a2018" stroke-width="19" stroke-linecap="round" fill="none"/>
<path d="M2399.5,712.3 Q2423.1,737.5 2465.2,762.1" stroke="#2a2018" stroke-width="19" stroke-linecap="round" fill="none"/>
<path d="M2310.1,760.1 Q2279.2,810.0 2256.5,850.5" stroke="#2a2018" stroke-width="19" stroke-linecap="round" fill="none"/>
<path d="M2265.0,757.1 Q2213.4,793.4 2163.6,828.9" stroke="#2a2018" stroke-width="19" stroke-linecap="round" fill="none"/>
<path d="M2239.2,724.0 Q2184.9,723.0 2125.1,739.8" stroke="#2a2018" stroke-width="19" stroke-linecap="round" fill="none"/>
<path d="M2273.1,662.8 Q2238.5,633.2 2224.3,601.1" stroke="#2a2018" stroke-width="19" stroke-linecap="round" fill="none"/>
<path d="M2359.7,624.7 Q2397.5,574.6 2422.8,535.4" stroke="#2a2018" stroke-width="19" stroke-linecap="round" fill="none"/>
<path d="M2412.9,639.2 Q2475.4,603.8 2527.1,587.7" stroke="#6e8898" stroke-width="13" stroke-linecap="round" fill="none"/>
<path d="M2399.5,712.3 Q2423.1,737.5 2465.2,762.1" stroke="#6e8898" stroke-width="13" stroke-linecap="round" fill="none"/>
<path d="M2310.1,760.1 Q2279.2,810.0 2256.5,850.5" stroke="#6e8898" stroke-width="13" stroke-linecap="round" fill="none"/>
<path d="M2265.0,757.1 Q2213.4,793.4 2163.6,828.9" stroke="#6e8898" stroke-width="13" stroke-linecap="round" fill="none"/>
<path d="M2239.2,724.0 Q2184.9,723.0 2125.1,739.8" stroke="#6e8898" stroke-width="13" stroke-linecap="round" fill="none"/>
<path d="M2273.1,662.8 Q2238.5,633.2 2224.3,601.1" stroke="#6e8898" stroke-width="13" stroke-linecap="round" fill="none"/>
<path d="M2359.7,624.7 Q2397.5,574.6 2422.8,535.4" stroke="#6e8898" stroke-width="13" stroke-linecap="round" fill="none"/>
<path d="M2450.6,630.0 C2453.8,633.3 2456.7,636.9 2458.5,640.9 C2460.3,644.9 2461.4,649.3 2461.4,654.0 C2461.4,658.7 2460.5,663.8 2458.6,669.2 C2456.8,674.5 2453.8,680.2 2450.3,685.9 C2446.8,691.6 2442.2,697.6 2437.5,703.3 C2432.7,709.1 2427.2,714.9 2421.6,720.3 C2416.0,725.8 2410.1,731.1 2404.1,735.9 C2398.1,740.8 2391.9,745.4 2385.7,749.5 C2379.4,753.7 2373.1,757.4 2366.5,760.9 C2359.9,764.3 2353.2,767.4 2346.2,770.2 C2339.2,773.0 2332.0,775.5 2324.6,777.7 C2317.2,779.8 2309.4,781.7 2301.8,783.2 C2294.2,784.7 2286.3,786.0 2278.8,786.6 C2271.4,787.3 2263.9,787.6 2257.2,787.3 C2250.5,787.0 2244.1,786.1 2238.7,784.6 C2233.2,783.1 2228.5,781.0 2224.6,778.3 C2220.7,775.6 2217.7,772.3 2215.5,768.5 C2213.2,764.7 2211.9,760.3 2211.0,755.8 C2210.1,751.2 2210.0,746.2 2210.2,741.2 C2210.3,736.2 2211.0,730.9 2211.9,725.7 C2212.7,720.5 2213.9,715.2 2215.4,710.1 C2216.9,705.0 2218.6,699.9 2220.8,694.9 C2223.1,689.9 2225.6,684.9 2228.8,680.0 C2231.9,675.1 2235.6,670.3 2240.0,665.5 C2244.4,660.6 2249.4,655.8 2255.0,651.2 C2260.7,646.5 2267.1,641.8 2273.8,637.4 C2280.4,633.0 2287.8,628.7 2295.1,624.9 C2302.4,621.1 2310.1,617.5 2317.5,614.4 C2324.9,611.4 2332.4,608.8 2339.4,606.8 C2346.5,604.9 2353.3,603.4 2359.8,602.6 C2366.2,601.7 2372.3,601.4 2378.1,601.6 C2384.0,601.8 2389.5,602.5 2394.8,603.5 C2400.2,604.5 2405.4,606.0 2410.5,607.7 C2415.5,609.4 2420.5,611.4 2425.3,613.6 C2430.1,615.8 2434.8,618.3 2439.0,621.0 C2443.2,623.7 2447.3,626.7 2450.6,630.0 Z" fill="#6e8898" stroke="#2a2018" stroke-width="3" stroke-linejoin="round" stroke-linecap="round" />
<path d="M2421.4,645.3 C2423.7,649.7 2425.0,654.9 2425.2,660.2 C2425.4,665.5 2424.5,671.4 2422.6,677.2 C2420.7,683.1 2417.7,689.3 2413.8,695.3 C2409.9,701.3 2404.9,707.5 2399.3,713.3 C2393.7,719.0 2387.0,724.8 2380.1,729.9 C2373.1,735.0 2365.4,739.8 2357.6,743.9 C2349.8,748.0 2341.4,751.6 2333.2,754.5 C2325.1,757.3 2316.6,759.5 2308.7,760.8 C2300.8,762.2 2292.8,762.8 2285.7,762.6 C2278.5,762.4 2271.6,761.3 2265.7,759.6 C2259.8,757.8 2254.5,755.2 2250.2,752.0 C2246.0,748.8 2242.5,744.9 2240.2,740.5 C2237.9,736.1 2236.6,730.9 2236.4,725.6 C2236.2,720.3 2237.1,714.4 2239.0,708.6 C2240.9,702.7 2243.9,696.5 2247.8,690.5 C2251.7,684.5 2256.7,678.3 2262.3,672.5 C2267.9,666.8 2274.5,661.0 2281.5,655.9 C2288.4,650.8 2296.2,646.0 2304.0,641.9 C2311.8,637.8 2320.2,634.2 2328.4,631.3 C2336.5,628.5 2345.0,626.3 2352.9,625.0 C2360.8,623.6 2368.7,623.0 2375.9,623.2 C2383.1,623.4 2389.9,624.5 2395.8,626.2 C2401.8,628.0 2407.1,630.6 2411.4,633.8 C2415.6,637.0 2419.1,640.9 2421.4,645.3 Z" fill="#7892a2" />
<path d="M2239.3,713.8 C2237.6,706.6 2248.1,680.3 2255.1,673.0 C2262.2,665.7 2279.9,662.7 2281.5,670.0 C2283.1,677.3 2272.0,709.3 2265.0,716.6 C2257.9,723.9 2240.9,721.1 2239.3,713.8 Z" fill="#98b2c0" />
<g clip-path="url(#cclip1350)">
<path d="M1905.0,655.0 C1915.0,629.2 1960.8,627.5 1990.0,625.0 C2019.2,622.5 2053.3,627.5 2080.0,640.0 C2106.7,652.5 2130.0,678.3 2150.0,700.0 C2170.0,721.7 2189.2,748.3 2200.0,770.0 C2210.8,791.7 2223.3,811.7 2215.0,830.0 C2206.7,848.3 2174.2,865.8 2150.0,880.0 C2125.8,894.2 2096.7,909.2 2070.0,915.0 C2043.3,920.8 2010.0,924.2 1990.0,915.0 C1970.0,905.8 1960.0,882.5 1950.0,860.0 C1940.0,837.5 1937.5,814.2 1930.0,780.0 C1922.5,745.8 1895.0,680.8 1905.0,655.0 Z" fill="#9a6844" />
<path d="M1960.0,690.0 C1969.2,675.0 2015.0,675.0 2040.0,680.0 C2065.0,685.0 2091.7,701.7 2110.0,720.0 C2128.3,738.3 2151.7,771.7 2150.0,790.0 C2148.3,808.3 2120.0,825.0 2100.0,830.0 C2080.0,835.0 2049.2,830.0 2030.0,820.0 C2010.8,810.0 1996.7,791.7 1985.0,770.0 C1973.3,748.3 1950.8,705.0 1960.0,690.0 Z" fill="#ad7a50" opacity="0.8"/>
<path d="M1990,700 Q2030,760 2060,830 T2080,900" stroke="#5a9ee0" stroke-width="10" fill="none" opacity="0.55"/>
</g>
<path d="M2238.4,747.1 C2237.9,737.2 2253.2,710.7 2265.7,702.2 C2278.2,693.8 2305.4,690.8 2313.4,696.4 C2321.4,702.0 2321.2,724.8 2313.8,735.7 C2306.3,746.6 2281.2,759.8 2268.6,761.7 C2256.1,763.6 2238.9,757.0 2238.4,747.1 Z" fill="#666a8a" />
<path d="M2415.5,589.7 C2417.3,582.3 2433.9,562.0 2443.5,556.9 C2453.1,551.9 2469.1,554.4 2473.1,559.5 C2477.1,564.5 2474.1,580.4 2467.4,587.3 C2460.6,594.2 2441.4,600.6 2432.7,601.0 C2424.1,601.4 2413.7,597.0 2415.5,589.7 Z" fill="#666a8a" />
</g>
<path d="M1834.0,564.0 L1838.0,523.0 L1853.0,498.0 L1880.0,483.0 L1919.0,479.0 L1942.0,487.0 L1957.0,508.0 L1955.0,537.0 L1978.0,543.0 L2020.0,564.0 L2061.0,589.0 L2088.0,614.0 L2103.0,640.0 L2111.0,658.0 L2007.0,706.0 L1995.0,681.0 L1957.0,654.0 L1894.0,623.0 L1838.0,594.0 Z" fill="#c4875a" stroke="#1c140e" stroke-width="4" stroke-linejoin="round" />
<path d="M1848.0,566.0 C1848.0,552.8 1847.3,535.2 1850.0,525.0 C1852.7,514.8 1858.2,510.0 1864.0,505.0 C1869.8,500.0 1876.0,497.2 1885.0,495.0 C1894.0,492.8 1909.2,491.2 1918.0,492.0 C1926.8,492.8 1933.3,495.7 1938.0,500.0 C1942.7,504.3 1945.0,509.7 1946.0,518.0 C1947.0,526.3 1940.0,543.3 1944.0,550.0 C1948.0,556.7 1958.7,553.3 1970.0,558.0 C1981.3,562.7 1998.7,570.7 2012.0,578.0 C2025.3,585.3 2039.7,594.3 2050.0,602.0 C2060.3,609.7 2067.7,616.3 2074.0,624.0 C2080.3,631.7 2084.3,640.7 2088.0,648.0 C2091.7,655.3 2107.0,659.3 2096.0,668.0 C2085.0,676.7 2036.0,698.0 2022.0,700.0 C2008.0,702.0 2019.0,686.7 2012.0,680.0 C2005.0,673.3 1997.0,668.3 1980.0,660.0 C1963.0,651.7 1931.7,639.3 1910.0,630.0 C1888.3,620.7 1860.3,614.7 1850.0,604.0 C1839.7,593.3 1848.0,579.2 1848.0,566.0 Z" fill="#9c6642" />
<path d="M1910.0,598.0 C1920.0,596.7 1958.3,605.0 1980.0,612.0 C2001.7,619.0 2025.3,630.7 2040.0,640.0 C2054.7,649.3 2066.3,659.7 2068.0,668.0 C2069.7,676.3 2057.2,689.3 2050.0,690.0 C2042.8,690.7 2036.7,679.0 2025.0,672.0 C2013.3,665.0 1997.5,656.7 1980.0,648.0 C1962.5,639.3 1931.7,628.3 1920.0,620.0 C1908.3,611.7 1900.0,599.3 1910.0,598.0 Z" fill="#b47e56" />
<path d="M1850.0,560.0 C1845.3,552.8 1849.3,534.0 1852.0,525.0 C1854.7,516.0 1859.7,510.7 1866.0,506.0 C1872.3,501.3 1881.7,498.7 1890.0,497.0 C1898.3,495.3 1908.7,494.8 1916.0,496.0 C1923.3,497.2 1930.0,499.7 1934.0,504.0 C1938.0,508.3 1939.3,514.7 1940.0,522.0 C1940.7,529.3 1943.0,541.7 1938.0,548.0 C1933.0,554.3 1919.7,556.7 1910.0,560.0 C1900.3,563.3 1890.0,568.0 1880.0,568.0 C1870.0,568.0 1854.7,567.2 1850.0,560.0 Z" fill="#1f3a22" />
<path d="M2009.0,704.0 L2109.0,660.0 L2149.2,691.1 L2023.4,757.1 Z" fill="#a87450" />
<path d="M2018.0,700.0 L2096.0,664.0 L2126.9,696.0 L2045.4,738.8 Z" fill="#bc8a5e" opacity="0.8"/>
<path d="M1895,545 Q1990,590 2040,640 Q2080,690 2085,770" stroke="#5a9ee0" stroke-width="14" fill="none" opacity="0.75"/>
</g>
<text x="762" y="414" font-family="Liberation Sans" font-size="39" font-weight="bold" font-style="italic" fill="#1a1410" stroke="#1a1410" stroke-width="0.5" textLength="233" lengthAdjust="spacingAndGlyphs">L. plantarum</text>
<text x="692" y="567" font-family="Liberation Sans" font-size="40" font-weight="normal" font-style="normal" fill="#1a1410" stroke="#1a1410" stroke-width="1" textLength="143" lengthAdjust="spacingAndGlyphs">Lactate</text>
<text x="1064" y="886" font-family="Liberation Sans" font-size="38" font-weight="normal" font-style="normal" fill="#1a1410" stroke="#1a1410" stroke-width="1" textLength="174" lengthAdjust="spacingAndGlyphs">Erythroid</text>
<text x="1053" y="921" font-family="Liberation Sans" font-size="38" font-weight="normal" font-style="normal" fill="#1a1410" stroke="#1a1410" stroke-width="1" textLength="198" lengthAdjust="spacingAndGlyphs">Progenitor</text>
<text x="477" y="1209" font-family="Liberation Sans" font-size="40" font-weight="normal" font-style="normal" fill="#1a1410" stroke="#1a1410" stroke-width="1" textLength="235" lengthAdjust="spacingAndGlyphs">HIF-1α Level</text>
<text x="2112" y="414" font-family="Liberation Sans" font-size="39" font-weight="bold" font-style="italic" fill="#1a1410" stroke="#1a1410" stroke-width="0.5" textLength="233" lengthAdjust="spacingAndGlyphs">L. plantarum</text>
<text x="2045" y="567" font-family="Liberation Sans" font-size="40" font-weight="normal" font-style="normal" fill="#1a1410" stroke="#1a1410" stroke-width="1" textLength="143" lengthAdjust="spacingAndGlyphs">Lactate</text>
<text x="2418" y="886" font-family="Liberation Sans" font-size="38" font-weight="normal" font-style="normal" fill="#1a1410" stroke="#1a1410" stroke-width="1" textLength="174" lengthAdjust="spacingAndGlyphs">Erythroid</text>
<text x="2407" y="921" font-family="Liberation Sans" font-size="38" font-weight="normal" font-style="normal" fill="#1a1410" stroke="#1a1410" stroke-width="1" textLength="198" lengthAdjust="spacingAndGlyphs">Progenitor</text>
<text x="1837" y="1209" font-family="Liberation Sans" font-size="40" font-weight="normal" font-style="normal" fill="#1a1410" stroke="#1a1410" stroke-width="1" textLength="235" lengthAdjust="spacingAndGlyphs">HIF-1α Level</text>
<text x="130" y="816" font-family="Liberation Sans" font-size="38" font-weight="normal" font-style="normal" fill="#1a1410" stroke="#1a1410" stroke-width="1" textLength="241" lengthAdjust="spacingAndGlyphs">Bone Marrow</text>
<text x="140" y="853" font-family="Liberation Sans" font-size="38" font-weight="normal" font-style="normal" fill="#1a1410" stroke="#1a1410" stroke-width="1" textLength="221" lengthAdjust="spacingAndGlyphs">Stromal Cell</text>
<text x="438" y="995" font-family="Liberation Sans" font-size="29" font-weight="normal" font-style="normal" fill="#1a1410" stroke="#1a1410" stroke-width="0.8" textLength="57" lengthAdjust="spacingAndGlyphs">PHD</text>
<text x="407" y="1020" font-family="Liberation Sans" font-size="29" font-weight="normal" font-style="normal" fill="#1a1410" stroke="#1a1410" stroke-width="0.8" textLength="119" lengthAdjust="spacingAndGlyphs">Enzyme</text>
<text x="842" y="973" font-family="Liberation Sans" font-size="38" font-weight="normal" font-style="normal" fill="#1a1410" stroke="#1a1410" stroke-width="1" textLength="65" lengthAdjust="spacingAndGlyphs">SCF</text>
<text x="909" y="1001" font-family="Liberation Sans" font-size="38" font-weight="normal" font-style="normal" fill="#1a1410" stroke="#1a1410" stroke-width="1" textLength="133" lengthAdjust="spacingAndGlyphs">CXCL12</text>
<text x="750" y="1072" font-family="Liberation Sans" font-size="38" font-weight="normal" font-style="normal" fill="#1a1410" stroke="#1a1410" stroke-width="1" textLength="132" lengthAdjust="spacingAndGlyphs">CXCL12</text>
<text x="1797" y="1004" font-family="Liberation Sans" font-size="38" font-weight="normal" font-style="normal" fill="#1a1410" stroke="#1a1410" stroke-width="1" textLength="120" lengthAdjust="spacingAndGlyphs">HIF-1α</text>
<text x="2304" y="897" font-family="Liberation Sans" font-size="38" font-weight="normal" font-style="normal" fill="#1a1410" stroke="#1a1410" stroke-width="1" textLength="68" lengthAdjust="spacingAndGlyphs">SCF</text>
<text x="2137" y="1044" font-family="Liberation Sans" font-size="38" font-weight="normal" font-style="normal" fill="#1a1410" stroke="#1a1410" stroke-width="1" textLength="132" lengthAdjust="spacingAndGlyphs">CXCL12</text>
<path d="M548,905 A46,46 0 1,0 545,940 L515,925 Z" fill="#e22a22" stroke="#1c140e" stroke-width="4"/>
<ellipse cx="498" cy="888" rx="14" ry="6" fill="#ff9a90" opacity="0.8"/>
<circle cx="480" cy="905" r="9" fill="#fff" stroke="#1c140e" stroke-width="3"/><circle cx="483" cy="906" r="4" fill="#1c140e"/>
<circle cx="522" cy="893" r="8" fill="#fff" stroke="#1c140e" stroke-width="3"/><circle cx="524" cy="894" r="4" fill="#1c140e"/>
<path d="M468,890 L490,896 M512,884 L530,880" stroke="#1c140e" stroke-width="4"/>
<circle cx="560" cy="920" r="6" fill="#e22a22" stroke="#1c140e" stroke-width="2"/>
<path d="M575,915 Q605,910 602,940 Q598,968 570,966 Q585,950 580,940 Q590,932 575,915 Z" fill="#e03a30" stroke="#1c140e" stroke-width="3"/>
<path d="M575,977 L575,1122" stroke="#1c140e" stroke-width="4"/>
<path d="M650,860 Q648,890 628,905" stroke="#e02a20" stroke-width="5" fill="none"/><path d="M615,895 L640,912 L612,918 Z" fill="#e02a20"/>
<rect x="479" y="1132" width="233" height="35" rx="6" fill="#1c140e"/><rect x="483" y="1136" width="225" height="27" rx="3" fill="#6e2c32"/><rect x="483" y="1136" width="16" height="27" fill="#e01010"/><rect x="486" y="1139" width="8" height="6" fill="#ff7a70"/>
<path d="M615.3,946.2 L617.3,951.3 L620.1,958.2 L623.4,966.4 L627.2,975.5 L631.2,985.1 L635.5,994.7 L639.9,1003.8 L644.3,1012.1 L648.7,1019.7 L653.2,1027.2 L657.8,1034.4 L662.6,1041.5 L667.6,1048.5 L672.8,1055.4 L678.2,1062.1 L683.8,1068.7 L689.6,1075.3 L695.5,1081.8 L701.6,1088.2 L707.9,1094.6 L714.5,1100.8 L721.4,1106.8 L728.7,1112.4 L736.3,1117.8 L744.4,1122.8 L753.0,1127.6 L761.8,1132.1 L770.9,1136.3 L780.2,1140.3 L789.5,1143.8 L798.8,1147.0 L807.9,1149.9 L817.0,1152.3 L826.2,1154.3 L835.5,1155.9 L844.7,1157.2 L853.8,1158.2 L862.8,1158.9 L871.6,1159.3 L880.2,1159.4 L888.8,1159.2 L897.3,1158.5 L905.6,1157.4 L913.7,1156.1 L921.4,1154.7 L928.8,1153.2 L935.8,1151.8 L942.4,1150.4 L949.0,1149.1 L955.6,1147.5 L962.0,1145.9 L968.1,1144.2 L973.6,1142.7 L978.4,1141.3 L982.4,1140.3 L985.5,1139.5 L978.5,1116.5 L975.4,1117.6 L971.4,1119.1 L966.7,1120.7 L961.4,1122.5 L955.8,1124.4 L949.9,1126.2 L943.8,1128.0 L937.6,1129.6 L931.1,1131.2 L924.2,1132.9 L917.1,1134.7 L909.8,1136.4 L902.4,1137.9 L894.9,1139.1 L887.4,1140.1 L879.8,1140.6 L871.8,1140.7 L863.6,1140.7 L855.1,1140.4 L846.5,1139.8 L837.9,1138.9 L829.2,1137.6 L820.6,1136.1 L812.1,1134.1 L803.5,1131.8 L794.6,1129.1 L785.7,1126.0 L776.8,1122.5 L768.0,1118.8 L759.5,1114.8 L751.4,1110.6 L743.7,1106.2 L736.4,1101.5 L729.5,1096.5 L722.8,1091.2 L716.4,1085.5 L710.1,1079.7 L704.0,1073.6 L698.0,1067.5 L692.2,1061.3 L686.5,1055.1 L681.0,1048.7 L675.7,1042.3 L670.6,1035.7 L665.7,1029.0 L660.9,1022.1 L656.2,1015.1 L651.7,1007.9 L647.2,1000.0 L642.7,991.2 L638.2,981.9 L633.8,972.6 L629.8,963.7 L626.2,955.6 L623.1,948.8 L620.7,943.8 Z" fill="#e44a48" stroke="#1c140e" stroke-width="3" stroke-linejoin="round" />
<path d="M955.0,1103.0 L1026.0,1097.0 L1000.0,1164.0 Z" fill="#e44a48" stroke="#1c140e" stroke-width="3" stroke-linejoin="round" />
<rect x="665" y="945" width="10" height="10" fill="#e85a50" opacity="0.85"/>
<rect x="690" y="965" width="9" height="9" fill="#e85a50" opacity="0.85"/>
<rect x="700" y="990" width="8" height="8" fill="#e85a50" opacity="0.85"/>
<rect x="735" y="1005" width="10" height="10" fill="#e85a50" opacity="0.85"/>
<rect x="760" y="1015" width="9" height="9" fill="#e85a50" opacity="0.85"/>
<rect x="770" y="1040" width="8" height="8" fill="#e85a50" opacity="0.85"/>
<rect x="745" y="1060" width="7" height="7" fill="#e85a50" opacity="0.85"/>
<rect x="810" y="908" width="8" height="8" fill="#e85a50" opacity="0.85"/>
<rect x="835" y="896" width="7" height="7" fill="#e85a50" opacity="0.85"/>
<rect x="860" y="912" width="8" height="8" fill="#e85a50" opacity="0.85"/>
<rect x="880" y="922" width="9" height="9" fill="#e85a50" opacity="0.85"/>
<rect x="920" y="905" width="6" height="6" fill="#e85a50" opacity="0.85"/>
<rect x="940" y="920" width="8" height="8" fill="#e85a50" opacity="0.85"/>
<rect x="790" y="935" width="6" height="6" fill="#e85a50" opacity="0.85"/>
<rect x="720" y="942" width="8" height="8" fill="#e85a50" opacity="0.85"/>
<ellipse cx="870" cy="925" rx="11" ry="15" fill="#e0262a" stroke="#1c140e" stroke-width="3"/>
<ellipse cx="968" cy="940" rx="13" ry="17" fill="#e0262a" stroke="#1c140e" stroke-width="3" transform="rotate(20 968 940)"/>
<path d="M778,1018 Q800,1006 818,1015 Q822,1035 800,1038 Q780,1040 778,1028 Z" fill="#e0262a" stroke="#1c140e" stroke-width="3"/>
<circle cx="1134" cy="1031" r="84" fill="#e79488" stroke="#1c140e" stroke-width="5"/>
<circle cx="1134" cy="1031" r="66" fill="#f0b0a4"/>
<circle cx="1134" cy="1031" r="50" fill="#e28a80"/>
<rect x="1090" y="990" width="88" height="84" fill="#d06a60" opacity="0.8"/>
<path d="M1090,987 L1178,1075 M1178,987 L1090,1075" stroke="#1c140e" stroke-width="28" stroke-linecap="round"/>
<path d="M1090,987 L1178,1075 M1178,987 L1090,1075" stroke="#e41a1a" stroke-width="18" stroke-linecap="round"/>
<rect x="1034" y="1129" width="206" height="64" fill="#1c140e" rx="3"/>
<rect x="1050" y="1132" width="5" height="6" fill="#e8a080" opacity="0.8"/>
<rect x="1050" y="1184" width="5" height="6" fill="#e8a080" opacity="0.8"/>
<rect x="1059" y="1132" width="5" height="6" fill="#e8a080" opacity="0.8"/>
<rect x="1059" y="1184" width="5" height="6" fill="#e8a080" opacity="0.8"/>
<rect x="1068" y="1132" width="5" height="6" fill="#e8a080" opacity="0.8"/>
<rect x="1068" y="1184" width="5" height="6" fill="#e8a080" opacity="0.8"/>
<rect x="1077" y="1132" width="5" height="6" fill="#e8a080" opacity="0.8"/>
<rect x="1077" y="1184" width="5" height="6" fill="#e8a080" opacity="0.8"/>
<rect x="1086" y="1132" width="5" height="6" fill="#e8a080" opacity="0.8"/>
<rect x="1086" y="1184" width="5" height="6" fill="#e8a080" opacity="0.8"/>
<rect x="1095" y="1132" width="5" height="6" fill="#e8a080" opacity="0.8"/>
<rect x="1095" y="1184" width="5" height="6" fill="#e8a080" opacity="0.8"/>
<rect x="1104" y="1132" width="5" height="6" fill="#e8a080" opacity="0.8"/>
<rect x="1104" y="1184" width="5" height="6" fill="#e8a080" opacity="0.8"/>
<rect x="1113" y="1132" width="5" height="6" fill="#e8a080" opacity="0.8"/>
<rect x="1113" y="1184" width="5" height="6" fill="#e8a080" opacity="0.8"/>
<rect x="1122" y="1132" width="5" height="6" fill="#e8a080" opacity="0.8"/>
<rect x="1122" y="1184" width="5" height="6" fill="#e8a080" opacity="0.8"/>
<rect x="1131" y="1132" width="5" height="6" fill="#e8a080" opacity="0.8"/>
<rect x="1131" y="1184" width="5" height="6" fill="#e8a080" opacity="0.8"/>
<rect x="1140" y="1132" width="5" height="6" fill="#e8a080" opacity="0.8"/>
<rect x="1140" y="1184" width="5" height="6" fill="#e8a080" opacity="0.8"/>
<rect x="1149" y="1132" width="5" height="6" fill="#e8a080" opacity="0.8"/>
<rect x="1149" y="1184" width="5" height="6" fill="#e8a080" opacity="0.8"/>
<rect x="1158" y="1132" width="5" height="6" fill="#e8a080" opacity="0.8"/>
<rect x="1158" y="1184" width="5" height="6" fill="#e8a080" opacity="0.8"/>
<rect x="1167" y="1132" width="5" height="6" fill="#e8a080" opacity="0.8"/>
<rect x="1167" y="1184" width="5" height="6" fill="#e8a080" opacity="0.8"/>
<rect x="1176" y="1132" width="5" height="6" fill="#e8a080" opacity="0.8"/>
<rect x="1176" y="1184" width="5" height="6" fill="#e8a080" opacity="0.8"/>
<rect x="1185" y="1132" width="5" height="6" fill="#e8a080" opacity="0.8"/>
<rect x="1185" y="1184" width="5" height="6" fill="#e8a080" opacity="0.8"/>
<rect x="1194" y="1132" width="5" height="6" fill="#e8a080" opacity="0.8"/>
<rect x="1194" y="1184" width="5" height="6" fill="#e8a080" opacity="0.8"/>
<rect x="1203" y="1132" width="5" height="6" fill="#e8a080" opacity="0.8"/>
<rect x="1203" y="1184" width="5" height="6" fill="#e8a080" opacity="0.8"/>
<rect x="1212" y="1132" width="5" height="6" fill="#e8a080" opacity="0.8"/>
<rect x="1212" y="1184" width="5" height="6" fill="#e8a080" opacity="0.8"/>
<rect x="1221" y="1132" width="5" height="6" fill="#e8a080" opacity="0.8"/>
<rect x="1221" y="1184" width="5" height="6" fill="#e8a080" opacity="0.8"/>
<rect x="1037" y="1147" width="5" height="5" fill="#e8a080" opacity="0.8"/>
<rect x="1232" y="1147" width="5" height="5" fill="#e8a080" opacity="0.8"/>
<rect x="1037" y="1155" width="5" height="5" fill="#e8a080" opacity="0.8"/>
<rect x="1232" y="1155" width="5" height="5" fill="#e8a080" opacity="0.8"/>
<rect x="1037" y="1163" width="5" height="5" fill="#e8a080" opacity="0.8"/>
<rect x="1232" y="1163" width="5" height="5" fill="#e8a080" opacity="0.8"/>
<rect x="1037" y="1171" width="5" height="5" fill="#e8a080" opacity="0.8"/>
<rect x="1232" y="1171" width="5" height="5" fill="#e8a080" opacity="0.8"/>
<rect x="1044" y="1141" width="186" height="40" fill="#2e3458"/>
<path d="M1056,1153 h16 M1056,1161 h16 M1056,1169 h16" stroke="#f09878" stroke-width="4"/>
<rect x="1078" y="1151" width="4" height="4" fill="#f09878"/><rect x="1078" y="1167" width="4" height="4" fill="#f09878"/>
<text x="1100" y="1176" font-family="Liberation Mono" font-size="40" fill="#f09878" textLength="117" lengthAdjust="spacingAndGlyphs" stroke="#f09878" stroke-width="1">STAT5</text>
<rect x="2386" y="1129" width="206" height="64" fill="#1c140e" rx="3"/>
<rect x="2402" y="1132" width="5" height="6" fill="#6ce06c" opacity="0.8"/>
<rect x="2402" y="1184" width="5" height="6" fill="#6ce06c" opacity="0.8"/>
<rect x="2411" y="1132" width="5" height="6" fill="#6ce06c" opacity="0.8"/>
<rect x="2411" y="1184" width="5" height="6" fill="#6ce06c" opacity="0.8"/>
<rect x="2420" y="1132" width="5" height="6" fill="#6ce06c" opacity="0.8"/>
<rect x="2420" y="1184" width="5" height="6" fill="#6ce06c" opacity="0.8"/>
<rect x="2429" y="1132" width="5" height="6" fill="#6ce06c" opacity="0.8"/>
<rect x="2429" y="1184" width="5" height="6" fill="#6ce06c" opacity="0.8"/>
<rect x="2438" y="1132" width="5" height="6" fill="#6ce06c" opacity="0.8"/>
<rect x="2438" y="1184" width="5" height="6" fill="#6ce06c" opacity="0.8"/>
<rect x="2447" y="1132" width="5" height="6" fill="#6ce06c" opacity="0.8"/>
<rect x="2447" y="1184" width="5" height="6" fill="#6ce06c" opacity="0.8"/>
<rect x="2456" y="1132" width="5" height="6" fill="#6ce06c" opacity="0.8"/>
<rect x="2456" y="1184" width="5" height="6" fill="#6ce06c" opacity="0.8"/>
<rect x="2465" y="1132" width="5" height="6" fill="#6ce06c" opacity="0.8"/>
<rect x="2465" y="1184" width="5" height="6" fill="#6ce06c" opacity="0.8"/>
<rect x="2474" y="1132" width="5" height="6" fill="#6ce06c" opacity="0.8"/>
<rect x="2474" y="1184" width="5" height="6" fill="#6ce06c" opacity="0.8"/>
<rect x="2483" y="1132" width="5" height="6" fill="#6ce06c" opacity="0.8"/>
<rect x="2483" y="1184" width="5" height="6" fill="#6ce06c" opacity="0.8"/>
<rect x="2492" y="1132" width="5" height="6" fill="#6ce06c" opacity="0.8"/>
<rect x="2492" y="1184" width="5" height="6" fill="#6ce06c" opacity="0.8"/>
<rect x="2501" y="1132" width="5" height="6" fill="#6ce06c" opacity="0.8"/>
<rect x="2501" y="1184" width="5" height="6" fill="#6ce06c" opacity="0.8"/>
<rect x="2510" y="1132" width="5" height="6" fill="#6ce06c" opacity="0.8"/>
<rect x="2510" y="1184" width="5" height="6" fill="#6ce06c" opacity="0.8"/>
<rect x="2519" y="1132" width="5" height="6" fill="#6ce06c" opacity="0.8"/>
<rect x="2519" y="1184" width="5" height="6" fill="#6ce06c" opacity="0.8"/>
<rect x="2528" y="1132" width="5" height="6" fill="#6ce06c" opacity="0.8"/>
<rect x="2528" y="1184" width="5" height="6" fill="#6ce06c" opacity="0.8"/>
<rect x="2537" y="1132" width="5" height="6" fill="#6ce06c" opacity="0.8"/>
<rect x="2537" y="1184" width="5" height="6" fill="#6ce06c" opacity="0.8"/>
<rect x="2546" y="1132" width="5" height="6" fill="#6ce06c" opacity="0.8"/>
<rect x="2546" y="1184" width="5" height="6" fill="#6ce06c" opacity="0.8"/>
<rect x="2555" y="1132" width="5" height="6" fill="#6ce06c" opacity="0.8"/>
<rect x="2555" y="1184" width="5" height="6" fill="#6ce06c" opacity="0.8"/>
<rect x="2564" y="1132" width="5" height="6" fill="#6ce06c" opacity="0.8"/>
<rect x="2564" y="1184" width="5" height="6" fill="#6ce06c" opacity="0.8"/>
<rect x="2573" y="1132" width="5" height="6" fill="#6ce06c" opacity="0.8"/>
<rect x="2573" y="1184" width="5" height="6" fill="#6ce06c" opacity="0.8"/>
<rect x="2389" y="1147" width="5" height="5" fill="#6ce06c" opacity="0.8"/>
<rect x="2584" y="1147" width="5" height="5" fill="#6ce06c" opacity="0.8"/>
<rect x="2389" y="1155" width="5" height="5" fill="#6ce06c" opacity="0.8"/>
<rect x="2584" y="1155" width="5" height="5" fill="#6ce06c" opacity="0.8"/>
<rect x="2389" y="1163" width="5" height="5" fill="#6ce06c" opacity="0.8"/>
<rect x="2584" y="1163" width="5" height="5" fill="#6ce06c" opacity="0.8"/>
<rect x="2389" y="1171" width="5" height="5" fill="#6ce06c" opacity="0.8"/>
<rect x="2584" y="1171" width="5" height="5" fill="#6ce06c" opacity="0.8"/>
<rect x="2396" y="1141" width="186" height="40" fill="#343848"/>
<rect x="2407" y="1150" width="23" height="24" fill="#3ad83a" stroke="#1c140e" stroke-width="2"/>
<rect x="2436" y="1153" width="4" height="4" fill="#98ec98"/><rect x="2436" y="1165" width="4" height="4" fill="#98ec98"/>
<text x="2452" y="1176" font-family="Liberation Mono" font-size="40" fill="#98ec98" textLength="117" lengthAdjust="spacingAndGlyphs" stroke="#98ec98" stroke-width="1">STAT5</text>
<rect x="514.5" y="522.5" width="23" height="23" rx="3" fill="#1c140e"/>
<rect x="517.5" y="525.5" width="17" height="17" fill="#1e9eea"/>
<rect x="517.5" y="525.5" width="17" height="5" fill="#6ccaf6"/>
<rect x="538.5" y="555.5" width="23" height="23" rx="3" fill="#1c140e"/>
<rect x="541.5" y="558.5" width="17" height="17" fill="#1e9eea"/>
<rect x="541.5" y="558.5" width="17" height="5" fill="#6ccaf6"/>
<rect x="592.5" y="567.5" width="23" height="23" rx="3" fill="#1c140e"/>
<rect x="595.5" y="570.5" width="17" height="17" fill="#1e9eea"/>
<rect x="595.5" y="570.5" width="17" height="5" fill="#6ccaf6"/>
<rect x="635.5" y="582.5" width="23" height="23" rx="3" fill="#1c140e"/>
<rect x="638.5" y="585.5" width="17" height="17" fill="#1e9eea"/>
<rect x="638.5" y="585.5" width="17" height="5" fill="#6ccaf6"/>
<rect x="649.5" y="617.5" width="23" height="23" rx="3" fill="#1c140e"/>
<rect x="652.5" y="620.5" width="17" height="17" fill="#1e9eea"/>
<rect x="652.5" y="620.5" width="17" height="5" fill="#6ccaf6"/>
<rect x="693.5" y="654.5" width="23" height="23" rx="3" fill="#1c140e"/>
<rect x="696.5" y="657.5" width="17" height="17" fill="#1e9eea"/>
<rect x="696.5" y="657.5" width="17" height="5" fill="#6ccaf6"/>
<rect x="713.5" y="707.5" width="23" height="23" rx="3" fill="#1c140e"/>
<rect x="716.5" y="710.5" width="17" height="17" fill="#1e9eea"/>
<rect x="716.5" y="710.5" width="17" height="5" fill="#6ccaf6"/>
<rect x="722.5" y="749.5" width="23" height="23" rx="3" fill="#1c140e"/>
<rect x="725.5" y="752.5" width="17" height="17" fill="#1e9eea"/>
<rect x="725.5" y="752.5" width="17" height="5" fill="#6ccaf6"/>
<rect x="673.5" y="775.5" width="23" height="23" rx="3" fill="#1c140e"/>
<rect x="676.5" y="778.5" width="17" height="17" fill="#1e9eea"/>
<rect x="676.5" y="778.5" width="17" height="5" fill="#6ccaf6"/>
<circle cx="2212" cy="749" r="43" fill="#a9a9a6" stroke="#1c140e" stroke-width="4"/>
<path d="M2188,732 l12,12 m0,-12 l-12,12 M2222,732 l12,12 m0,-12 l-12,12" stroke="#6a6a68" stroke-width="4"/>
<path d="M2195,775 Q2212,758 2230,775" stroke="#6a6a68" stroke-width="4" fill="none"/>
<rect x="1863.0" y="510.0" width="22" height="22" rx="3" fill="#1c140e"/>
<rect x="1866.0" y="513.0" width="16" height="16" fill="#1e9eea"/>
<rect x="1866.0" y="513.0" width="16" height="5" fill="#6ccaf6"/>
<rect x="1900.0" y="522.0" width="22" height="22" rx="3" fill="#1c140e"/>
<rect x="1903.0" y="525.0" width="16" height="16" fill="#1e9eea"/>
<rect x="1903.0" y="525.0" width="16" height="5" fill="#6ccaf6"/>
<rect x="1868.0" y="545.0" width="22" height="22" rx="3" fill="#1c140e"/>
<rect x="1871.0" y="548.0" width="16" height="16" fill="#1e9eea"/>
<rect x="1871.0" y="548.0" width="16" height="5" fill="#6ccaf6"/>
<rect x="1926.0" y="541.0" width="22" height="22" rx="3" fill="#1c140e"/>
<rect x="1929.0" y="544.0" width="16" height="16" fill="#1e9eea"/>
<rect x="1929.0" y="544.0" width="16" height="5" fill="#6ccaf6"/>
<rect x="1902.0" y="564.0" width="22" height="22" rx="3" fill="#1c140e"/>
<rect x="1905.0" y="567.0" width="16" height="16" fill="#1e9eea"/>
<rect x="1905.0" y="567.0" width="16" height="5" fill="#6ccaf6"/>
<rect x="1941.0" y="569.0" width="22" height="22" rx="3" fill="#1c140e"/>
<rect x="1944.0" y="572.0" width="16" height="16" fill="#1e9eea"/>
<rect x="1944.0" y="572.0" width="16" height="5" fill="#6ccaf6"/>
<rect x="1975.0" y="571.0" width="22" height="22" rx="3" fill="#1c140e"/>
<rect x="1978.0" y="574.0" width="16" height="16" fill="#1e9eea"/>
<rect x="1978.0" y="574.0" width="16" height="5" fill="#6ccaf6"/>
<rect x="1970.0" y="600.0" width="22" height="22" rx="3" fill="#1c140e"/>
<rect x="1973.0" y="603.0" width="16" height="16" fill="#1e9eea"/>
<rect x="1973.0" y="603.0" width="16" height="5" fill="#6ccaf6"/>
<rect x="1998.0" y="602.0" width="22" height="22" rx="3" fill="#1c140e"/>
<rect x="2001.0" y="605.0" width="16" height="16" fill="#1e9eea"/>
<rect x="2001.0" y="605.0" width="16" height="5" fill="#6ccaf6"/>
<rect x="2031.0" y="600.0" width="22" height="22" rx="3" fill="#1c140e"/>
<rect x="2034.0" y="603.0" width="16" height="16" fill="#1e9eea"/>
<rect x="2034.0" y="603.0" width="16" height="5" fill="#6ccaf6"/>
<rect x="2054.0" y="638.0" width="22" height="22" rx="3" fill="#1c140e"/>
<rect x="2057.0" y="641.0" width="16" height="16" fill="#1e9eea"/>
<rect x="2057.0" y="641.0" width="16" height="5" fill="#6ccaf6"/>
<rect x="2029.0" y="655.0" width="22" height="22" rx="3" fill="#1c140e"/>
<rect x="2032.0" y="658.0" width="16" height="16" fill="#1e9eea"/>
<rect x="2032.0" y="658.0" width="16" height="5" fill="#6ccaf6"/>
<rect x="2058.0" y="696.0" width="22" height="22" rx="3" fill="#1c140e"/>
<rect x="2061.0" y="699.0" width="16" height="16" fill="#1e9eea"/>
<rect x="2061.0" y="699.0" width="16" height="5" fill="#6ccaf6"/>
<rect x="2088.0" y="696.0" width="22" height="22" rx="3" fill="#1c140e"/>
<rect x="2091.0" y="699.0" width="16" height="16" fill="#1e9eea"/>
<rect x="2091.0" y="699.0" width="16" height="5" fill="#6ccaf6"/>
<rect x="2151.0" y="690.0" width="22" height="22" rx="3" fill="#1c140e"/>
<rect x="2154.0" y="693.0" width="16" height="16" fill="#1e9eea"/>
<rect x="2154.0" y="693.0" width="16" height="5" fill="#6ccaf6"/>
<rect x="2123.0" y="713.0" width="22" height="22" rx="3" fill="#1c140e"/>
<rect x="2126.0" y="716.0" width="16" height="16" fill="#1e9eea"/>
<rect x="2126.0" y="716.0" width="16" height="5" fill="#6ccaf6"/>
<rect x="2035.0" y="740.0" width="22" height="22" rx="3" fill="#1c140e"/>
<rect x="2038.0" y="743.0" width="16" height="16" fill="#1e9eea"/>
<rect x="2038.0" y="743.0" width="16" height="5" fill="#6ccaf6"/>
<rect x="2073.0" y="736.0" width="22" height="22" rx="3" fill="#1c140e"/>
<rect x="2076.0" y="739.0" width="16" height="16" fill="#1e9eea"/>
<rect x="2076.0" y="739.0" width="16" height="5" fill="#6ccaf6"/>
<rect x="2103.0" y="749.0" width="22" height="22" rx="3" fill="#1c140e"/>
<rect x="2106.0" y="752.0" width="16" height="16" fill="#1e9eea"/>
<rect x="2106.0" y="752.0" width="16" height="5" fill="#6ccaf6"/>
<rect x="2132.0" y="755.0" width="22" height="22" rx="3" fill="#1c140e"/>
<rect x="2135.0" y="758.0" width="16" height="16" fill="#1e9eea"/>
<rect x="2135.0" y="758.0" width="16" height="5" fill="#6ccaf6"/>
<rect x="2157.0" y="768.0" width="22" height="22" rx="3" fill="#1c140e"/>
<rect x="2160.0" y="771.0" width="16" height="16" fill="#1e9eea"/>
<rect x="2160.0" y="771.0" width="16" height="5" fill="#6ccaf6"/>
<rect x="2186.0" y="786.0" width="22" height="22" rx="3" fill="#1c140e"/>
<rect x="2189.0" y="789.0" width="16" height="16" fill="#1e9eea"/>
<rect x="2189.0" y="789.0" width="16" height="5" fill="#6ccaf6"/>
<rect x="2249.0" y="795.0" width="22" height="22" rx="3" fill="#1c140e"/>
<rect x="2252.0" y="798.0" width="16" height="16" fill="#1e9eea"/>
<rect x="2252.0" y="798.0" width="16" height="5" fill="#6ccaf6"/>
<rect x="1994.0" y="784.0" width="22" height="22" rx="3" fill="#1c140e"/>
<rect x="1997.0" y="787.0" width="16" height="16" fill="#1e9eea"/>
<rect x="1997.0" y="787.0" width="16" height="5" fill="#6ccaf6"/>
<rect x="2037.0" y="787.0" width="22" height="22" rx="3" fill="#1c140e"/>
<rect x="2040.0" y="790.0" width="16" height="16" fill="#1e9eea"/>
<rect x="2040.0" y="790.0" width="16" height="5" fill="#6ccaf6"/>
<rect x="2073.0" y="782.0" width="22" height="22" rx="3" fill="#1c140e"/>
<rect x="2076.0" y="785.0" width="16" height="16" fill="#1e9eea"/>
<rect x="2076.0" y="785.0" width="16" height="5" fill="#6ccaf6"/>
<rect x="2094.0" y="795.0" width="22" height="22" rx="3" fill="#1c140e"/>
<rect x="2097.0" y="798.0" width="16" height="16" fill="#1e9eea"/>
<rect x="2097.0" y="798.0" width="16" height="5" fill="#6ccaf6"/>
<rect x="2136.0" y="797.0" width="22" height="22" rx="3" fill="#1c140e"/>
<rect x="2139.0" y="800.0" width="16" height="16" fill="#1e9eea"/>
<rect x="2139.0" y="800.0" width="16" height="5" fill="#6ccaf6"/>
<rect x="2157.0" y="820.0" width="22" height="22" rx="3" fill="#1c140e"/>
<rect x="2160.0" y="823.0" width="16" height="16" fill="#1e9eea"/>
<rect x="2160.0" y="823.0" width="16" height="5" fill="#6ccaf6"/>
<rect x="2195.0" y="820.0" width="22" height="22" rx="3" fill="#1c140e"/>
<rect x="2198.0" y="823.0" width="16" height="16" fill="#1e9eea"/>
<rect x="2198.0" y="823.0" width="16" height="5" fill="#6ccaf6"/>
<rect x="2029.0" y="829.0" width="22" height="22" rx="3" fill="#1c140e"/>
<rect x="2032.0" y="832.0" width="16" height="16" fill="#1e9eea"/>
<rect x="2032.0" y="832.0" width="16" height="5" fill="#6ccaf6"/>
<rect x="2081.0" y="826.0" width="22" height="22" rx="3" fill="#1c140e"/>
<rect x="2084.0" y="829.0" width="16" height="16" fill="#1e9eea"/>
<rect x="2084.0" y="829.0" width="16" height="5" fill="#6ccaf6"/>
<rect x="2000.0" y="862.0" width="22" height="22" rx="3" fill="#1c140e"/>
<rect x="2003.0" y="865.0" width="16" height="16" fill="#1e9eea"/>
<rect x="2003.0" y="865.0" width="16" height="5" fill="#6ccaf6"/>
<rect x="2058.0" y="852.0" width="22" height="22" rx="3" fill="#1c140e"/>
<rect x="2061.0" y="855.0" width="16" height="16" fill="#1e9eea"/>
<rect x="2061.0" y="855.0" width="16" height="5" fill="#6ccaf6"/>
<rect x="2092.0" y="864.0" width="22" height="22" rx="3" fill="#1c140e"/>
<rect x="2095.0" y="867.0" width="16" height="16" fill="#1e9eea"/>
<rect x="2095.0" y="867.0" width="16" height="5" fill="#6ccaf6"/>
<rect x="2123.0" y="854.0" width="22" height="22" rx="3" fill="#1c140e"/>
<rect x="2126.0" y="857.0" width="16" height="16" fill="#1e9eea"/>
<rect x="2126.0" y="857.0" width="16" height="5" fill="#6ccaf6"/>
<rect x="2167.0" y="851.0" width="22" height="22" rx="3" fill="#1c140e"/>
<rect x="2170.0" y="854.0" width="16" height="16" fill="#1e9eea"/>
<rect x="2170.0" y="854.0" width="16" height="5" fill="#6ccaf6"/>
<rect x="2048.0" y="889.0" width="22" height="22" rx="3" fill="#1c140e"/>
<rect x="2051.0" y="892.0" width="16" height="16" fill="#1e9eea"/>
<rect x="2051.0" y="892.0" width="16" height="5" fill="#6ccaf6"/>
<ellipse cx="1858" cy="925" rx="75" ry="60" fill="url(#greenGlow)"/>
<ellipse cx="1858" cy="925" rx="52" ry="38" fill="#22b422" stroke="#1c140e" stroke-width="4"/>
<ellipse cx="1850" cy="910" rx="30" ry="12" fill="#44d444"/>
<text x="1858" y="932" font-family="Liberation Sans" font-size="20" fill="#e8ffe8" text-anchor="middle" textLength="60" lengthAdjust="spacingAndGlyphs">HIF-1α</text>
<rect x="1837" y="1132" width="235" height="35" rx="6" fill="#1c140e"/><rect x="1841" y="1136" width="227" height="27" rx="3" fill="#22c41e"/><rect x="1841" y="1139" width="227" height="7" fill="#6cf06a"/>
<path d="M2004.2,954.0 L2005.8,959.3 L2008.0,966.3 L2010.6,974.8 L2013.6,984.2 L2016.9,994.0 L2020.4,1003.9 L2024.2,1013.4 L2028.2,1022.0 L2032.3,1029.8 L2036.6,1037.4 L2041.1,1044.9 L2045.9,1052.3 L2051.0,1059.5 L2056.3,1066.5 L2062.0,1073.3 L2068.0,1079.9 L2074.4,1086.4 L2081.0,1092.7 L2088.0,1099.0 L2095.3,1105.0 L2102.9,1110.8 L2110.7,1116.2 L2118.7,1121.4 L2126.8,1126.1 L2135.2,1130.4 L2143.9,1134.4 L2152.9,1138.0 L2162.0,1141.3 L2171.1,1144.2 L2180.3,1146.8 L2189.5,1149.1 L2198.6,1151.0 L2207.9,1152.6 L2217.3,1153.7 L2226.8,1154.4 L2236.3,1154.8 L2245.5,1155.0 L2254.4,1154.9 L2262.8,1154.7 L2270.7,1154.4 L2278.4,1153.8 L2285.8,1152.9 L2292.9,1151.7 L2299.5,1150.4 L2305.6,1149.0 L2311.2,1147.6 L2316.2,1146.4 L2320.8,1145.4 L2325.0,1144.4 L2328.8,1143.4 L2332.2,1142.4 L2335.1,1141.4 L2337.6,1140.6 L2339.6,1139.9 L2341.1,1139.5 L2342.3,1139.2 L2333.7,1116.8 L2332.2,1117.5 L2330.5,1118.4 L2328.8,1119.3 L2326.9,1120.3 L2324.6,1121.3 L2322.0,1122.4 L2319.0,1123.5 L2315.2,1124.6 L2310.7,1126.0 L2305.7,1127.5 L2300.4,1129.2 L2294.8,1130.8 L2288.8,1132.3 L2282.6,1133.7 L2276.1,1134.8 L2269.3,1135.6 L2261.8,1136.2 L2253.7,1136.7 L2245.2,1137.1 L2236.5,1137.3 L2227.6,1137.2 L2218.7,1136.8 L2209.9,1136.1 L2201.4,1135.0 L2192.8,1133.5 L2184.1,1131.6 L2175.3,1129.5 L2166.5,1127.0 L2157.9,1124.2 L2149.4,1121.1 L2141.1,1117.7 L2133.2,1113.9 L2125.4,1109.8 L2117.8,1105.3 L2110.3,1100.4 L2102.9,1095.1 L2095.8,1089.6 L2088.9,1083.9 L2082.3,1078.1 L2076.0,1072.1 L2070.1,1066.0 L2064.4,1059.8 L2059.1,1053.3 L2054.0,1046.6 L2049.1,1039.7 L2044.5,1032.7 L2040.0,1025.4 L2035.8,1018.0 L2031.7,1010.0 L2027.8,1001.0 L2024.0,991.4 L2020.4,981.8 L2017.2,972.6 L2014.3,964.3 L2011.8,957.2 L2009.8,952.0 Z" fill="#36d636" stroke="#1c140e" stroke-width="3" stroke-linejoin="round" />
<path d="M2308.0,1105.0 L2382.0,1097.0 L2352.0,1164.0 Z" fill="#36d636" stroke="#1c140e" stroke-width="3" stroke-linejoin="round" />
<path d="M2127.4,864.4 L2156.7,959.5 L2143.3,963.6 L2172.0,982.0 L2185.4,950.7 L2172.0,954.8 L2142.6,859.6 Z" fill="#3ad43a" stroke="#1c140e" stroke-width="3" stroke-linejoin="round" />
<path d="M2168.4,860.2 L2197.1,945.6 L2182.9,950.4 L2212.0,968.0 L2224.6,936.3 L2210.3,941.1 L2181.6,855.8 Z" fill="#3ad43a" stroke="#1c140e" stroke-width="3" stroke-linejoin="round" />
<path d="M2183.1,871.0 L2238.5,924.9 L2228.0,935.6 L2262.0,938.0 L2258.7,904.1 L2248.2,914.9 L2192.9,861.0 Z" fill="#3ad43a" stroke="#1c140e" stroke-width="3" stroke-linejoin="round" />
<path d="M2224.1,852.5 L2266.5,889.4 L2255.9,901.5 L2290.0,902.0 L2284.8,868.3 L2274.3,880.4 L2231.9,843.5 Z" fill="#3ad43a" stroke="#1c140e" stroke-width="3" stroke-linejoin="round" />
<path d="M2338.0,937.2 L2377.7,969.0 L2369.0,979.9 L2403.0,979.0 L2396.4,945.6 L2387.7,956.5 L2348.0,924.8 Z" fill="#3ad43a" stroke="#1c140e" stroke-width="3" stroke-linejoin="round" />
<path d="M2269.3,997.1 L2341.3,1035.0 L2334.7,1047.4 L2368.0,1040.0 L2355.2,1008.4 L2348.7,1020.8 L2276.7,982.9 Z" fill="#3ad43a" stroke="#1c140e" stroke-width="3" stroke-linejoin="round" />
<path d="M2285,912 Q2320,905 2330,930 Q2328,960 2305,968 Q2280,955 2275,935 Z" fill="#44c844" stroke="#1c140e" stroke-width="3"/>
<circle cx="2231" cy="985" r="21" fill="#44c044" stroke="#1c140e" stroke-width="3"/>
<circle cx="2484" cy="1031" r="135" fill="url(#greenGlow)"/>
<circle cx="2484" cy="1031" r="85" fill="#e2323a" stroke="#1c140e" stroke-width="5"/>
<circle cx="2476" cy="1022" r="68" fill="#f04a4e"/>
<ellipse cx="2452" cy="980" rx="14" ry="9" fill="#ffb0b0"/>
<circle cx="2481" cy="1022" r="44" fill="#38b838"/>
<circle cx="2478" cy="1016" r="33" fill="#58e048"/>
<ellipse cx="2470" cy="998" rx="9" ry="7" fill="#d0ffd0"/>
<path d="M2515,1077 L2544,1105 L2600,1045" stroke="#1c140e" stroke-width="32" stroke-linecap="round" stroke-linejoin="round" fill="none"/>
<path d="M2515,1077 L2544,1105 L2600,1045" stroke="#3ad63a" stroke-width="20" stroke-linecap="round" stroke-linejoin="round" fill="none"/>
<rect x="492" y="212" width="425" height="97" fill="#1c140e" rx="8"/>
<rect x="497" y="217" width="415" height="87" fill="#b97a44" rx="6"/>
<rect x="504" y="224" width="401" height="73" fill="#f0d6a6" rx="4"/>
<rect x="510" y="230" width="389" height="61" fill="#e7c690" rx="2"/>
<text x="540" y="282" font-family="Liberation Mono" font-size="58" font-weight="bold" font-style="normal" fill="#121010" text-anchor="start" textLength="330" lengthAdjust="spacingAndGlyphs" stroke="#121010" stroke-width="2">AGED STATE</text>
<rect x="1597" y="212" width="910" height="97" fill="#1c140e" rx="8"/>
<rect x="1602" y="217" width="900" height="87" fill="#1a8ed8" rx="6"/>
<rect x="1609" y="224" width="886" height="73" fill="#b4e4f6" rx="4"/>
<rect x="1615" y="230" width="874" height="61" fill="#8fd2ef" rx="2"/>
<text x="1645" y="282" font-family="Liberation Mono" font-size="60" font-weight="bold" font-style="normal" fill="#121010" text-anchor="start" textLength="815" lengthAdjust="spacingAndGlyphs" stroke="#121010" stroke-width="2">L. PLANTARUM INTERVENTION</text>
<rect x="435" y="1250" width="532" height="197" fill="#1c140e" rx="6"/>
<rect x="440" y="1255" width="522" height="187" fill="#8a5a30" rx="4"/>
<rect x="440" y="1255" width="522" height="181" fill="#c0864f" rx="4"/>
<rect x="449" y="1264" width="504" height="167" fill="#dcb484" rx="2"/>
<path d="M457,1292 L457,1272 L479,1272" stroke="#b88a5a" stroke-width="5" fill="none"/>
<rect x="460" y="1275" width="6" height="6" fill="#b88a5a"/>
<path d="M945,1292 L945,1272 L923,1272" stroke="#b88a5a" stroke-width="5" fill="none"/>
<rect x="936" y="1275" width="6" height="6" fill="#b88a5a"/>
<path d="M457,1403 L457,1423 L479,1423" stroke="#b88a5a" stroke-width="5" fill="none"/>
<rect x="460" y="1414" width="6" height="6" fill="#b88a5a"/>
<path d="M945,1403 L945,1423 L923,1423" stroke="#b88a5a" stroke-width="5" fill="none"/>
<rect x="936" y="1414" width="6" height="6" fill="#b88a5a"/>
<text x="701.0" y="1306" font-family="Liberation Sans" font-size="39" font-weight="normal" font-style="normal" fill="#121010" text-anchor="middle" textLength="318" lengthAdjust="spacingAndGlyphs" stroke="#121010" stroke-width="1.6">HEMOGLOBIN BAR</text>
<rect x="468" y="1312" width="466" height="66" fill="#1c140e" rx="10"/>
<rect x="472" y="1316" width="458" height="58" fill="#dcb484" rx="8"/>
<rect x="476" y="1320" width="450" height="50" fill="#1c140e" rx="4"/>
<rect x="479" y="1323" width="444" height="44" fill="#6e2c34"/>
<rect x="479" y="1323" width="147.852" height="44" fill="#e00c0c"/>
<rect x="479" y="1326" width="147.852" height="8" fill="#ffffff" opacity="0.35"/>
<text x="701.0" y="1415" font-family="Liberation Sans" font-size="40" font-weight="normal" font-style="normal" fill="#121010" text-anchor="middle" textLength="155" lengthAdjust="spacingAndGlyphs" stroke="#121010" stroke-width="1.6">6.5 g/dL</text>
<rect x="1784" y="1250" width="534" height="197" fill="#1c140e" rx="6"/>
<rect x="1789" y="1255" width="524" height="187" fill="#1266c0" rx="4"/>
<rect x="1789" y="1255" width="524" height="181" fill="#2aa0e0" rx="4"/>
<rect x="1798" y="1264" width="506" height="167" fill="#a0d6ee" rx="2"/>
<path d="M1806,1292 L1806,1272 L1828,1272" stroke="#3aa8e0" stroke-width="5" fill="none"/>
<rect x="1809" y="1275" width="6" height="6" fill="#3aa8e0"/>
<path d="M2296,1292 L2296,1272 L2274,1272" stroke="#3aa8e0" stroke-width="5" fill="none"/>
<rect x="2287" y="1275" width="6" height="6" fill="#3aa8e0"/>
<path d="M1806,1403 L1806,1423 L1828,1423" stroke="#3aa8e0" stroke-width="5" fill="none"/>
<rect x="1809" y="1414" width="6" height="6" fill="#3aa8e0"/>
<path d="M2296,1403 L2296,1423 L2274,1423" stroke="#3aa8e0" stroke-width="5" fill="none"/>
<rect x="2287" y="1414" width="6" height="6" fill="#3aa8e0"/>
<text x="2051.0" y="1306" font-family="Liberation Sans" font-size="39" font-weight="normal" font-style="normal" fill="#121010" text-anchor="middle" textLength="318" lengthAdjust="spacingAndGlyphs" stroke="#121010" stroke-width="1.6">HEMOGLOBIN BAR</text>
<rect x="1817" y="1312" width="468" height="66" fill="#1c140e" rx="10"/>
<rect x="1821" y="1316" width="460" height="58" fill="#a0d6ee" rx="8"/>
<rect x="1825" y="1320" width="452" height="50" fill="#1c140e" rx="4"/>
<rect x="1828" y="1323" width="446" height="44" fill="#3a4258"/>
<rect x="1828" y="1323" width="392.48" height="44" fill="#1ed81e"/>
<rect x="1828" y="1326" width="392.48" height="8" fill="#ffffff" opacity="0.35"/>
<text x="2051.0" y="1415" font-family="Liberation Sans" font-size="40" font-weight="normal" font-style="normal" fill="#121010" text-anchor="middle" textLength="370" lengthAdjust="spacingAndGlyphs" stroke="#121010" stroke-width="1.6">9.0 g/dL (+2.5 g/dL)</text>
<rect x="1084" y="1329" width="584" height="166" fill="#1c140e" rx="6"/>
<rect x="1089" y="1334" width="574" height="156" fill="#e8c995"/>
<rect x="1093" y="1338" width="566" height="146" fill="#fbe9c4"/>
<text x="1376" y="1380" font-family="Liberation Sans" font-size="39" font-weight="normal" font-style="normal" fill="#121010" text-anchor="middle" textLength="151" lengthAdjust="spacingAndGlyphs" stroke="#121010" stroke-width="1.6">LEGEND:</text>
<text x="1111" y="1427" font-family="Liberation Sans" font-size="38" font-weight="normal" textLength="530" lengthAdjust="spacingAndGlyphs" fill="#121010" stroke="#121010" stroke-width="1.6"><tspan fill="#22a02a" stroke="#22a02a">GREEN</tspan> = ACTIVE / POSITIVE,</text>
<text x="1116" y="1469" font-family="Liberation Sans" font-size="38" font-weight="normal" textLength="519" lengthAdjust="spacingAndGlyphs" fill="#121010" stroke="#121010" stroke-width="1.6"><tspan fill="#c0282a" stroke="#c0282a">RED</tspan> = INACTIVE / NEGATIVE</text></svg>
</body></html>
